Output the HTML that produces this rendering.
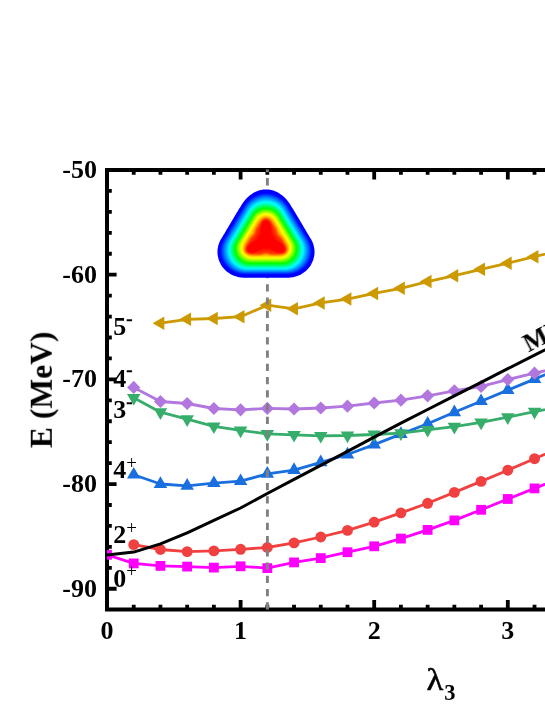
<!DOCTYPE html>
<html><head><meta charset="utf-8"><title>chart</title>
<style>html,body{margin:0;padding:0;background:#fff}body{width:545px;height:705px;position:relative;overflow:hidden;font-family:"Liberation Serif",serif}</style></head>
<body>
<svg width="545" height="705" viewBox="0 0 545 705" style="position:absolute;left:0;top:0">
<rect width="545" height="705" fill="#fff"/>
<g stroke="#000" stroke-width="4.0" fill="none" stroke-linecap="butt">
<path d="M107 168 V611.5 M105 170 H545 M105 609.5 H545"/>
</g>
<path stroke="#000" stroke-width="3.8" fill="none" d="M133.72 170 v4.8 M133.72 609.5 v-4.8 M160.44 170 v4.8 M160.44 609.5 v-4.8 M187.16 170 v4.8 M187.16 609.5 v-4.8 M213.88 170 v4.8 M213.88 609.5 v-4.8 M240.6 170 v9.6 M240.6 609.5 v-9.6 M267.32 170 v4.8 M267.32 609.5 v-4.8 M294.04 170 v4.8 M294.04 609.5 v-4.8 M320.76 170 v4.8 M320.76 609.5 v-4.8 M347.48 170 v4.8 M347.48 609.5 v-4.8 M374.2 170 v9.6 M374.2 609.5 v-9.6 M400.92 170 v4.8 M400.92 609.5 v-4.8 M427.64 170 v4.8 M427.64 609.5 v-4.8 M454.36 170 v4.8 M454.36 609.5 v-4.8 M481.08 170 v4.8 M481.08 609.5 v-4.8 M507.8 170 v9.6 M507.8 609.5 v-9.6 M534.52 170 v4.8 M534.52 609.5 v-4.8 M561.24 170 v4.8 M561.24 609.5 v-4.8 M107 190.94 h4.8 M107 211.88 h4.8 M107 232.81 h4.8 M107 253.75 h4.8 M107 274.69 h9.6 M107 295.63 h4.8 M107 316.57 h4.8 M107 337.5 h4.8 M107 358.44 h4.8 M107 379.38 h9.6 M107 400.32 h4.8 M107 421.26 h4.8 M107 442.19 h4.8 M107 463.13 h4.8 M107 484.07 h9.6 M107 505.01 h4.8 M107 525.95 h4.8 M107 546.88 h4.8 M107 567.82 h4.8 M107 588.76 h9.6"/>
<clipPath id="c"><rect x="107" y="170" width="440" height="439.5"/></clipPath>
<g clip-path="url(#c)">
<polyline fill="none" stroke="#ff00ff" stroke-width="2.8" points="107,554.8 133.72,563.4"/>
<rect x="102.1" y="549.9" width="9.8" height="9.8" fill="#ff00ff"/>
<polyline fill="none" stroke="#ff00ff" stroke-width="2.8" stroke-linejoin="round" points="133.72,563.4 160.44,565.9 187.16,566.6 213.88,567.6 240.6,566.3 267.32,568.1 294.04,562.4 320.76,558.1 347.48,552.2 374.2,546.3 400.92,538.6 427.64,529.9 454.36,520.4 481.08,509.8 507.8,499 534.52,488.4 561.24,477.8"/><rect x="128.82" y="558.5" width="9.8" height="9.8" fill="#ff00ff"/><rect x="155.54" y="561" width="9.8" height="9.8" fill="#ff00ff"/><rect x="182.26" y="561.7" width="9.8" height="9.8" fill="#ff00ff"/><rect x="208.98" y="562.7" width="9.8" height="9.8" fill="#ff00ff"/><rect x="235.7" y="561.4" width="9.8" height="9.8" fill="#ff00ff"/><rect x="262.42" y="563.2" width="9.8" height="9.8" fill="#ff00ff"/><rect x="289.14" y="557.5" width="9.8" height="9.8" fill="#ff00ff"/><rect x="315.86" y="553.2" width="9.8" height="9.8" fill="#ff00ff"/><rect x="342.58" y="547.3" width="9.8" height="9.8" fill="#ff00ff"/><rect x="369.3" y="541.4" width="9.8" height="9.8" fill="#ff00ff"/><rect x="396.02" y="533.7" width="9.8" height="9.8" fill="#ff00ff"/><rect x="422.74" y="525" width="9.8" height="9.8" fill="#ff00ff"/><rect x="449.46" y="515.5" width="9.8" height="9.8" fill="#ff00ff"/><rect x="476.18" y="504.9" width="9.8" height="9.8" fill="#ff00ff"/><rect x="502.9" y="494.1" width="9.8" height="9.8" fill="#ff00ff"/><rect x="529.62" y="483.5" width="9.8" height="9.8" fill="#ff00ff"/><rect x="556.34" y="472.9" width="9.8" height="9.8" fill="#ff00ff"/>
<polyline fill="none" stroke="#f14040" stroke-width="2.8" stroke-linejoin="round" points="133.72,544.6 160.44,549.5 187.16,551.6 213.88,550.9 240.6,549.3 267.32,547.5 294.04,542.9 320.76,537 347.48,530.4 374.2,522.1 400.92,512.9 427.64,503.3 454.36,492.4 481.08,481.4 507.8,470.2 534.52,458.7 561.24,447.2"/><circle cx="133.72" cy="544.6" r="5.45" fill="#f14040"/><circle cx="160.44" cy="549.5" r="5.45" fill="#f14040"/><circle cx="187.16" cy="551.6" r="5.45" fill="#f14040"/><circle cx="213.88" cy="550.9" r="5.45" fill="#f14040"/><circle cx="240.6" cy="549.3" r="5.45" fill="#f14040"/><circle cx="267.32" cy="547.5" r="5.45" fill="#f14040"/><circle cx="294.04" cy="542.9" r="5.45" fill="#f14040"/><circle cx="320.76" cy="537" r="5.45" fill="#f14040"/><circle cx="347.48" cy="530.4" r="5.45" fill="#f14040"/><circle cx="374.2" cy="522.1" r="5.45" fill="#f14040"/><circle cx="400.92" cy="512.9" r="5.45" fill="#f14040"/><circle cx="427.64" cy="503.3" r="5.45" fill="#f14040"/><circle cx="454.36" cy="492.4" r="5.45" fill="#f14040"/><circle cx="481.08" cy="481.4" r="5.45" fill="#f14040"/><circle cx="507.8" cy="470.2" r="5.45" fill="#f14040"/><circle cx="534.52" cy="458.7" r="5.45" fill="#f14040"/><circle cx="561.24" cy="447.2" r="5.45" fill="#f14040"/>
<polyline fill="none" stroke="#1a6fdf" stroke-width="2.8" stroke-linejoin="round" points="133.72,474.7 160.44,484 187.16,485.9 213.88,483.2 240.6,481.2 267.32,473.9 294.04,470.1 320.76,462.4 347.48,454.5 374.2,444.6 400.92,434.1 427.64,423.8 454.36,412.3 481.08,401.2 507.8,390.1 534.52,379.1 561.24,368.1"/><polygon points="133.72,466.9 126.97,478.6 140.47,478.6" fill="#1a6fdf"/><polygon points="160.44,476.2 153.69,487.9 167.19,487.9" fill="#1a6fdf"/><polygon points="187.16,478.1 180.41,489.8 193.91,489.8" fill="#1a6fdf"/><polygon points="213.88,475.4 207.13,487.1 220.63,487.1" fill="#1a6fdf"/><polygon points="240.6,473.4 233.85,485.1 247.35,485.1" fill="#1a6fdf"/><polygon points="267.32,466.1 260.57,477.8 274.07,477.8" fill="#1a6fdf"/><polygon points="294.04,462.3 287.29,474 300.79,474" fill="#1a6fdf"/><polygon points="320.76,454.6 314.01,466.3 327.51,466.3" fill="#1a6fdf"/><polygon points="347.48,446.7 340.73,458.4 354.23,458.4" fill="#1a6fdf"/><polygon points="374.2,436.8 367.45,448.5 380.95,448.5" fill="#1a6fdf"/><polygon points="400.92,426.3 394.17,438 407.67,438" fill="#1a6fdf"/><polygon points="427.64,416 420.89,427.7 434.39,427.7" fill="#1a6fdf"/><polygon points="454.36,404.5 447.61,416.2 461.11,416.2" fill="#1a6fdf"/><polygon points="481.08,393.4 474.33,405.1 487.83,405.1" fill="#1a6fdf"/><polygon points="507.8,382.3 501.05,394 514.55,394" fill="#1a6fdf"/><polygon points="534.52,371.3 527.77,383 541.27,383" fill="#1a6fdf"/><polygon points="561.24,360.3 554.49,372 567.99,372" fill="#1a6fdf"/>
<polyline fill="none" stroke="#37ad6b" stroke-width="2.8" stroke-linejoin="round" points="133.72,397.8 160.44,412.2 187.16,419.1 213.88,426.3 240.6,430.4 267.32,433.9 294.04,434.8 320.76,435.8 347.48,435.5 374.2,434.5 400.92,433.2 427.64,429.8 454.36,426.6 481.08,422.4 507.8,417.1 534.52,411.7 561.24,406.3"/><polygon points="133.72,405.6 126.97,393.9 140.47,393.9" fill="#37ad6b"/><polygon points="160.44,420 153.69,408.3 167.19,408.3" fill="#37ad6b"/><polygon points="187.16,426.9 180.41,415.2 193.91,415.2" fill="#37ad6b"/><polygon points="213.88,434.1 207.13,422.4 220.63,422.4" fill="#37ad6b"/><polygon points="240.6,438.2 233.85,426.5 247.35,426.5" fill="#37ad6b"/><polygon points="267.32,441.7 260.57,430 274.07,430" fill="#37ad6b"/><polygon points="294.04,442.6 287.29,430.9 300.79,430.9" fill="#37ad6b"/><polygon points="320.76,443.6 314.01,431.9 327.51,431.9" fill="#37ad6b"/><polygon points="347.48,443.3 340.73,431.6 354.23,431.6" fill="#37ad6b"/><polygon points="374.2,442.3 367.45,430.6 380.95,430.6" fill="#37ad6b"/><polygon points="400.92,441 394.17,429.3 407.67,429.3" fill="#37ad6b"/><polygon points="427.64,437.6 420.89,425.9 434.39,425.9" fill="#37ad6b"/><polygon points="454.36,434.4 447.61,422.7 461.11,422.7" fill="#37ad6b"/><polygon points="481.08,430.2 474.33,418.5 487.83,418.5" fill="#37ad6b"/><polygon points="507.8,424.9 501.05,413.2 514.55,413.2" fill="#37ad6b"/><polygon points="534.52,419.5 527.77,407.8 541.27,407.8" fill="#37ad6b"/><polygon points="561.24,414.1 554.49,402.4 567.99,402.4" fill="#37ad6b"/>
<polyline fill="none" stroke="#b177de" stroke-width="2.8" stroke-linejoin="round" points="133.72,387.4 160.44,401.5 187.16,403.5 213.88,408.5 240.6,409.8 267.32,408.4 294.04,409 320.76,408 347.48,406.2 374.2,403 400.92,400.2 427.64,395.8 454.36,390.8 481.08,386.4 507.8,379.6 534.52,373.2 561.24,366.8"/><polygon points="133.72,380.8 140.32,387.4 133.72,394 127.12,387.4" fill="#b177de"/><polygon points="160.44,394.9 167.04,401.5 160.44,408.1 153.84,401.5" fill="#b177de"/><polygon points="187.16,396.9 193.76,403.5 187.16,410.1 180.56,403.5" fill="#b177de"/><polygon points="213.88,401.9 220.48,408.5 213.88,415.1 207.28,408.5" fill="#b177de"/><polygon points="240.6,403.2 247.2,409.8 240.6,416.4 234,409.8" fill="#b177de"/><polygon points="267.32,401.8 273.92,408.4 267.32,415 260.72,408.4" fill="#b177de"/><polygon points="294.04,402.4 300.64,409 294.04,415.6 287.44,409" fill="#b177de"/><polygon points="320.76,401.4 327.36,408 320.76,414.6 314.16,408" fill="#b177de"/><polygon points="347.48,399.6 354.08,406.2 347.48,412.8 340.88,406.2" fill="#b177de"/><polygon points="374.2,396.4 380.8,403 374.2,409.6 367.6,403" fill="#b177de"/><polygon points="400.92,393.6 407.52,400.2 400.92,406.8 394.32,400.2" fill="#b177de"/><polygon points="427.64,389.2 434.24,395.8 427.64,402.4 421.04,395.8" fill="#b177de"/><polygon points="454.36,384.2 460.96,390.8 454.36,397.4 447.76,390.8" fill="#b177de"/><polygon points="481.08,379.8 487.68,386.4 481.08,393 474.48,386.4" fill="#b177de"/><polygon points="507.8,373 514.4,379.6 507.8,386.2 501.2,379.6" fill="#b177de"/><polygon points="534.52,366.6 541.12,373.2 534.52,379.8 527.92,373.2" fill="#b177de"/><polygon points="561.24,360.2 567.84,366.8 561.24,373.4 554.64,366.8" fill="#b177de"/>
<polyline fill="none" stroke="#cc9900" stroke-width="2.8" stroke-linejoin="round" points="160.44,323.2 187.16,319.3 213.88,318.5 240.6,316.7 267.32,305.2 294.04,308.8 320.76,302.9 347.48,299.1 374.2,293.4 400.92,288.3 427.64,281.6 454.36,275.7 481.08,269.3 507.8,263.2 534.52,256.7 561.24,250.2"/><polygon points="152.64,323.2 164.34,316.45 164.34,329.95" fill="#cc9900"/><polygon points="179.36,319.3 191.06,312.55 191.06,326.05" fill="#cc9900"/><polygon points="206.08,318.5 217.78,311.75 217.78,325.25" fill="#cc9900"/><polygon points="232.8,316.7 244.5,309.95 244.5,323.45" fill="#cc9900"/><polygon points="259.52,305.2 271.22,298.45 271.22,311.95" fill="#cc9900"/><polygon points="286.24,308.8 297.94,302.05 297.94,315.55" fill="#cc9900"/><polygon points="312.96,302.9 324.66,296.15 324.66,309.65" fill="#cc9900"/><polygon points="339.68,299.1 351.38,292.35 351.38,305.85" fill="#cc9900"/><polygon points="366.4,293.4 378.1,286.65 378.1,300.15" fill="#cc9900"/><polygon points="393.12,288.3 404.82,281.55 404.82,295.05" fill="#cc9900"/><polygon points="419.84,281.6 431.54,274.85 431.54,288.35" fill="#cc9900"/><polygon points="446.56,275.7 458.26,268.95 458.26,282.45" fill="#cc9900"/><polygon points="473.28,269.3 484.98,262.55 484.98,276.05" fill="#cc9900"/><polygon points="500,263.2 511.7,256.45 511.7,269.95" fill="#cc9900"/><polygon points="526.72,256.7 538.42,249.95 538.42,263.45" fill="#cc9900"/><polygon points="553.44,250.2 565.14,243.45 565.14,256.95" fill="#cc9900"/>
<polyline fill="none" stroke="#000" stroke-width="3" stroke-linejoin="round" points="107,554.9 133.72,552.1 160.44,543.9 187.16,532.9 213.88,520.4 240.6,508 267.32,493.5 294.04,479.4 320.76,465.4 347.48,451.3 374.2,437.2 400.92,423.2 427.64,409.5 454.36,395.8 481.08,382.3 507.8,368.7 534.52,355.2 561.24,341.7"/>
</g>
<line x1="267.4" x2="267.4" y1="609.5" y2="169.6" stroke="#808080" stroke-width="2.9" stroke-dasharray="7.3 5.953"/>
<g>
<path fill="rgb(0,0,255)" d="M311.6,240.3 312.2,241.5 312.8,242.8 313.2,244.0 313.6,245.3 313.9,246.6 314.2,247.9 314.4,249.3 314.5,250.6 314.5,251.9 314.5,253.3 314.4,254.6 314.2,256.0 313.9,257.3 313.6,258.6 313.2,259.9 312.8,261.1 312.2,262.3 311.6,263.6 311.0,264.7 310.3,265.9 309.5,267.0 308.7,268.0 307.8,269.0 306.9,270.0 305.9,270.9 304.9,271.8 303.8,272.6 302.7,273.3 301.6,274.0 300.4,274.7 299.2,275.3 298.0,275.8 296.7,276.2 295.4,276.6 294.1,277.0 292.8,277.3 291.5,277.5 290.2,277.6 288.9,277.7 287.6,277.7 286.3,277.7 285.1,277.7 283.8,277.7 282.7,277.7 281.5,277.7 280.4,277.7 279.2,277.7 278.2,277.7 277.1,277.7 276.0,277.7 275.0,277.7 273.9,277.7 272.9,277.7 271.9,277.7 270.9,277.7 269.9,277.7 268.9,277.7 268.0,277.7 267.0,277.7 266.0,277.7 265.0,277.7 264.0,277.7 263.1,277.7 262.1,277.7 261.1,277.7 260.1,277.7 259.1,277.7 258.1,277.7 257.0,277.7 256.0,277.7 254.9,277.7 253.8,277.7 252.8,277.7 251.6,277.7 250.5,277.7 249.3,277.7 248.2,277.7 246.9,277.7 245.7,277.7 244.4,277.7 243.1,277.7 241.8,277.6 240.5,277.5 239.2,277.3 237.9,277.0 236.6,276.6 235.3,276.2 234.0,275.8 232.8,275.3 231.6,274.7 230.4,274.0 229.3,273.3 228.2,272.6 227.1,271.8 226.1,270.9 225.1,270.0 224.2,269.0 223.3,268.0 222.5,267.0 221.7,265.9 221.0,264.7 220.4,263.6 219.8,262.3 219.2,261.1 218.8,259.9 218.4,258.6 218.1,257.3 217.8,256.0 217.6,254.6 217.5,253.3 217.5,251.9 217.5,250.6 217.6,249.3 217.8,247.9 218.1,246.6 218.4,245.3 218.8,244.0 219.2,242.8 219.8,241.5 220.4,240.3 221.0,239.1 221.7,238.0 222.4,236.9 223.0,235.8 223.6,234.7 224.3,233.7 224.9,232.7 225.5,231.7 226.0,230.7 226.6,229.7 227.2,228.8 227.7,227.9 228.3,226.9 228.8,226.0 229.4,225.1 229.9,224.2 230.4,223.3 231.0,222.4 231.5,221.6 232.0,220.7 232.5,219.8 233.1,218.9 233.6,218.0 234.1,217.1 234.7,216.2 235.2,215.3 235.7,214.4 236.3,213.5 236.8,212.6 237.4,211.7 238.0,210.7 238.5,209.8 239.1,208.8 239.7,207.9 240.3,206.9 241.0,205.9 241.6,204.8 242.3,203.8 243.0,202.7 243.7,201.7 244.5,200.7 245.3,199.7 246.2,198.7 247.1,197.8 248.0,196.9 249.0,196.0 250.0,195.2 251.1,194.4 252.2,193.7 253.3,193.0 254.5,192.3 255.7,191.7 256.9,191.2 258.2,190.7 259.4,190.3 260.7,190.0 262.0,189.8 263.3,189.6 264.7,189.5 266.0,189.4 267.3,189.5 268.7,189.6 270.0,189.8 271.3,190.0 272.6,190.3 273.8,190.7 275.1,191.2 276.3,191.7 277.5,192.3 278.7,193.0 279.8,193.7 280.9,194.4 282.0,195.2 283.0,196.0 284.0,196.9 284.9,197.8 285.8,198.7 286.7,199.7 287.5,200.7 288.3,201.7 289.0,202.7 289.7,203.8 290.4,204.8 291.0,205.9 291.7,206.9 292.3,207.9 292.9,208.8 293.5,209.8 294.0,210.7 294.6,211.7 295.2,212.6 295.7,213.5 296.3,214.4 296.8,215.3 297.3,216.2 297.9,217.1 298.4,218.0 298.9,218.9 299.5,219.8 300.0,220.7 300.5,221.6 301.0,222.4 301.6,223.3 302.1,224.2 302.6,225.1 303.2,226.0 303.7,226.9 304.3,227.9 304.8,228.8 305.4,229.7 306.0,230.7 306.5,231.7 307.1,232.7 307.7,233.7 308.4,234.7 309.0,235.8 309.6,236.9 310.3,238.0 311.0,239.1Z"/>
<path fill="rgb(0,0,255)" d="M309.2,240.3 309.8,241.4 310.3,242.6 310.8,243.8 311.2,245.0 311.5,246.3 311.7,247.5 311.9,248.8 312.0,250.1 312.0,251.3 311.9,252.6 311.8,253.9 311.6,255.1 311.4,256.4 311.0,257.6 310.6,258.8 310.2,260.0 309.6,261.1 309.0,262.2 308.4,263.3 307.7,264.4 306.9,265.4 306.1,266.3 305.2,267.3 304.3,268.1 303.3,269.0 302.3,269.7 301.3,270.4 300.2,271.1 299.1,271.7 298.0,272.3 296.8,272.8 295.6,273.2 294.4,273.6 293.2,273.9 292.0,274.2 290.7,274.4 289.5,274.5 288.3,274.6 287.0,274.6 285.8,274.6 284.6,274.6 283.5,274.6 282.4,274.6 281.3,274.6 280.2,274.6 279.2,274.6 278.1,274.6 277.1,274.6 276.2,274.6 275.2,274.6 274.2,274.6 273.3,274.6 272.4,274.6 271.4,274.6 270.5,274.6 269.6,274.6 268.7,274.6 267.8,274.6 266.9,274.6 266.0,274.6 265.1,274.6 264.2,274.6 263.3,274.6 262.4,274.6 261.5,274.6 260.6,274.6 259.6,274.6 258.7,274.6 257.8,274.6 256.8,274.6 255.8,274.6 254.9,274.6 253.9,274.6 252.8,274.6 251.8,274.6 250.7,274.6 249.6,274.6 248.5,274.6 247.4,274.6 246.2,274.6 245.0,274.6 243.7,274.6 242.5,274.5 241.3,274.4 240.0,274.2 238.8,273.9 237.6,273.6 236.4,273.2 235.2,272.8 234.0,272.3 232.9,271.7 231.8,271.1 230.7,270.4 229.7,269.7 228.7,269.0 227.7,268.1 226.8,267.3 225.9,266.3 225.1,265.4 224.3,264.4 223.6,263.3 223.0,262.2 222.4,261.1 221.8,260.0 221.4,258.8 221.0,257.6 220.6,256.4 220.4,255.1 220.2,253.9 220.1,252.6 220.0,251.3 220.0,250.1 220.1,248.8 220.3,247.5 220.5,246.3 220.8,245.0 221.2,243.8 221.7,242.6 222.2,241.4 222.8,240.3 223.4,239.2 224.1,238.1 224.7,237.1 225.4,236.0 226.0,235.0 226.6,234.1 227.1,233.1 227.7,232.2 228.3,231.2 228.8,230.3 229.4,229.4 229.9,228.6 230.4,227.7 231.0,226.8 231.5,226.0 232.0,225.2 232.5,224.3 233.0,223.5 233.5,222.7 234.0,221.8 234.5,221.0 235.0,220.2 235.5,219.3 236.0,218.5 236.5,217.7 237.0,216.8 237.6,216.0 238.1,215.2 238.6,214.3 239.1,213.4 239.7,212.6 240.2,211.7 240.8,210.8 241.3,209.9 241.9,208.9 242.5,208.0 243.1,207.0 243.8,206.1 244.4,205.1 245.1,204.1 245.8,203.1 246.6,202.1 247.4,201.2 248.2,200.4 249.1,199.5 250.0,198.7 251.0,198.0 252.0,197.3 253.1,196.6 254.1,196.0 255.2,195.4 256.3,194.9 257.5,194.4 258.7,194.0 259.9,193.6 261.1,193.3 262.3,193.1 263.5,193.0 264.8,192.9 266.0,192.8 267.2,192.9 268.5,193.0 269.7,193.1 270.9,193.3 272.1,193.6 273.3,194.0 274.5,194.4 275.7,194.9 276.8,195.4 277.9,196.0 278.9,196.6 280.0,197.3 281.0,198.0 282.0,198.7 282.9,199.5 283.8,200.4 284.6,201.2 285.4,202.1 286.2,203.1 286.9,204.1 287.6,205.1 288.2,206.1 288.9,207.0 289.5,208.0 290.1,208.9 290.7,209.9 291.2,210.8 291.8,211.7 292.3,212.6 292.9,213.4 293.4,214.3 293.9,215.2 294.4,216.0 295.0,216.8 295.5,217.7 296.0,218.5 296.5,219.3 297.0,220.2 297.5,221.0 298.0,221.8 298.5,222.7 299.0,223.5 299.5,224.3 300.0,225.2 300.5,226.0 301.0,226.8 301.6,227.7 302.1,228.6 302.6,229.4 303.2,230.3 303.7,231.2 304.3,232.2 304.9,233.1 305.4,234.1 306.0,235.0 306.6,236.0 307.3,237.1 307.9,238.1 308.6,239.2Z"/>
<path fill="rgb(0,24,255)" d="M308.6,240.3 309.2,241.4 309.7,242.6 310.1,243.8 310.5,245.0 310.8,246.2 311.1,247.4 311.2,248.7 311.3,249.9 311.4,251.2 311.3,252.4 311.2,253.7 311.0,254.9 310.8,256.2 310.4,257.4 310.0,258.5 309.6,259.7 309.1,260.8 308.5,261.9 307.8,263.0 307.1,264.1 306.4,265.0 305.6,266.0 304.7,266.9 303.8,267.8 302.9,268.6 301.9,269.4 300.9,270.1 299.8,270.7 298.7,271.3 297.6,271.9 296.4,272.4 295.3,272.8 294.1,273.2 292.9,273.5 291.7,273.8 290.4,273.9 289.2,274.1 288.0,274.2 286.8,274.2 285.6,274.2 284.4,274.2 283.3,274.2 282.2,274.2 281.1,274.2 280.0,274.2 279.0,274.2 278.0,274.2 277.0,274.2 276.0,274.2 275.1,274.2 274.1,274.2 273.2,274.2 272.3,274.2 271.4,274.2 270.5,274.2 269.6,274.2 268.7,274.2 267.8,274.2 266.9,274.2 266.0,274.2 265.1,274.2 264.2,274.2 263.3,274.2 262.4,274.2 261.5,274.2 260.6,274.2 259.7,274.2 258.8,274.2 257.9,274.2 256.9,274.2 256.0,274.2 255.0,274.2 254.0,274.2 253.0,274.2 252.0,274.2 250.9,274.2 249.8,274.2 248.7,274.2 247.6,274.2 246.4,274.2 245.2,274.2 244.0,274.2 242.8,274.1 241.6,273.9 240.3,273.8 239.1,273.5 237.9,273.2 236.7,272.8 235.6,272.4 234.4,271.9 233.3,271.3 232.2,270.7 231.1,270.1 230.1,269.4 229.1,268.6 228.2,267.8 227.3,266.9 226.4,266.0 225.6,265.0 224.9,264.1 224.2,263.0 223.5,261.9 222.9,260.8 222.4,259.7 222.0,258.5 221.6,257.4 221.2,256.2 221.0,254.9 220.8,253.7 220.7,252.4 220.6,251.2 220.7,249.9 220.8,248.7 220.9,247.4 221.2,246.2 221.5,245.0 221.9,243.8 222.3,242.6 222.8,241.4 223.4,240.3 224.1,239.2 224.7,238.1 225.3,237.1 226.0,236.1 226.6,235.1 227.1,234.1 227.7,233.2 228.3,232.3 228.8,231.4 229.4,230.5 229.9,229.6 230.4,228.7 231.0,227.9 231.5,227.0 232.0,226.2 232.5,225.4 233.0,224.6 233.5,223.7 234.0,222.9 234.5,222.1 235.0,221.3 235.5,220.5 236.0,219.7 236.5,218.8 237.0,218.0 237.5,217.2 238.0,216.4 238.5,215.5 239.0,214.7 239.5,213.8 240.1,213.0 240.6,212.1 241.1,211.2 241.7,210.3 242.3,209.4 242.9,208.5 243.5,207.5 244.1,206.5 244.7,205.6 245.4,204.6 246.1,203.6 246.8,202.7 247.6,201.8 248.5,200.9 249.3,200.1 250.3,199.3 251.2,198.6 252.2,197.8 253.2,197.2 254.3,196.6 255.4,196.0 256.5,195.5 257.6,195.0 258.8,194.6 259.9,194.3 261.1,194.0 262.3,193.7 263.6,193.6 264.8,193.5 266.0,193.5 267.2,193.5 268.4,193.6 269.7,193.7 270.9,194.0 272.1,194.3 273.2,194.6 274.4,195.0 275.5,195.5 276.6,196.0 277.7,196.6 278.8,197.2 279.8,197.8 280.8,198.6 281.7,199.3 282.7,200.1 283.5,200.9 284.4,201.8 285.2,202.7 285.9,203.6 286.6,204.6 287.3,205.6 287.9,206.5 288.5,207.5 289.1,208.5 289.7,209.4 290.3,210.3 290.9,211.2 291.4,212.1 291.9,213.0 292.5,213.8 293.0,214.7 293.5,215.5 294.0,216.4 294.5,217.2 295.0,218.0 295.5,218.8 296.0,219.7 296.5,220.5 297.0,221.3 297.5,222.1 298.0,222.9 298.5,223.7 299.0,224.6 299.5,225.4 300.0,226.2 300.5,227.0 301.0,227.9 301.6,228.7 302.1,229.6 302.6,230.5 303.2,231.4 303.7,232.3 304.3,233.2 304.9,234.1 305.4,235.1 306.0,236.1 306.7,237.1 307.3,238.1 307.9,239.2Z"/>
<path fill="rgb(0,44,255)" d="M307.9,240.3 308.5,241.4 309.0,242.6 309.5,243.7 309.9,244.9 310.2,246.1 310.4,247.3 310.6,248.6 310.7,249.8 310.7,251.0 310.7,252.3 310.6,253.5 310.4,254.7 310.1,255.9 309.8,257.1 309.5,258.3 309.0,259.4 308.5,260.6 307.9,261.7 307.3,262.7 306.6,263.7 305.9,264.7 305.1,265.7 304.2,266.6 303.3,267.4 302.4,268.2 301.4,269.0 300.4,269.7 299.4,270.3 298.3,270.9 297.2,271.5 296.1,272.0 294.9,272.4 293.7,272.8 292.6,273.1 291.4,273.3 290.1,273.5 288.9,273.7 287.7,273.7 286.5,273.8 285.3,273.8 284.2,273.8 283.1,273.8 282.0,273.8 280.9,273.8 279.9,273.8 278.8,273.8 277.9,273.8 276.9,273.8 275.9,273.8 275.0,273.8 274.0,273.8 273.1,273.8 272.2,273.8 271.3,273.8 270.4,273.8 269.5,273.8 268.6,273.8 267.8,273.8 266.9,273.8 266.0,273.8 265.1,273.8 264.2,273.8 263.4,273.8 262.5,273.8 261.6,273.8 260.7,273.8 259.8,273.8 258.9,273.8 258.0,273.8 257.0,273.8 256.1,273.8 255.1,273.8 254.1,273.8 253.2,273.8 252.1,273.8 251.1,273.8 250.0,273.8 248.9,273.8 247.8,273.8 246.7,273.8 245.5,273.8 244.3,273.7 243.1,273.7 241.9,273.5 240.6,273.3 239.4,273.1 238.3,272.8 237.1,272.4 235.9,272.0 234.8,271.5 233.7,270.9 232.6,270.3 231.6,269.7 230.6,269.0 229.6,268.2 228.7,267.4 227.8,266.6 226.9,265.7 226.1,264.7 225.4,263.7 224.7,262.7 224.1,261.7 223.5,260.6 223.0,259.4 222.5,258.3 222.2,257.1 221.9,255.9 221.6,254.7 221.4,253.5 221.3,252.3 221.3,251.0 221.3,249.8 221.4,248.6 221.6,247.3 221.8,246.1 222.1,244.9 222.5,243.7 223.0,242.6 223.5,241.4 224.1,240.3 224.7,239.2 225.3,238.2 226.0,237.1 226.6,236.2 227.2,235.2 227.7,234.2 228.3,233.3 228.8,232.4 229.4,231.5 229.9,230.6 230.4,229.8 231.0,228.9 231.5,228.1 232.0,227.2 232.5,226.4 233.0,225.6 233.5,224.8 234.0,224.0 234.5,223.2 234.9,222.4 235.4,221.6 235.9,220.8 236.4,220.0 236.9,219.2 237.4,218.3 237.9,217.5 238.4,216.7 238.9,215.9 239.4,215.1 239.9,214.2 240.4,213.4 241.0,212.5 241.5,211.6 242.1,210.7 242.6,209.8 243.2,208.9 243.8,208.0 244.4,207.0 245.0,206.1 245.7,205.1 246.4,204.1 247.1,203.2 247.9,202.3 248.7,201.5 249.6,200.6 250.5,199.9 251.4,199.1 252.4,198.4 253.4,197.8 254.4,197.2 255.5,196.6 256.6,196.1 257.7,195.6 258.9,195.2 260.0,194.9 261.2,194.6 262.4,194.4 263.6,194.2 264.8,194.1 266.0,194.1 267.2,194.1 268.4,194.2 269.6,194.4 270.8,194.6 272.0,194.9 273.1,195.2 274.3,195.6 275.4,196.1 276.5,196.6 277.6,197.2 278.6,197.8 279.6,198.4 280.6,199.1 281.5,199.9 282.4,200.6 283.3,201.5 284.1,202.3 284.9,203.2 285.6,204.1 286.3,205.1 287.0,206.1 287.6,207.0 288.2,208.0 288.8,208.9 289.4,209.8 289.9,210.7 290.5,211.6 291.0,212.5 291.6,213.4 292.1,214.2 292.6,215.1 293.1,215.9 293.6,216.7 294.1,217.5 294.6,218.3 295.1,219.2 295.6,220.0 296.1,220.8 296.6,221.6 297.1,222.4 297.5,223.2 298.0,224.0 298.5,224.8 299.0,225.6 299.5,226.4 300.0,227.2 300.5,228.1 301.0,228.9 301.6,229.8 302.1,230.6 302.6,231.5 303.2,232.4 303.7,233.3 304.3,234.2 304.8,235.2 305.4,236.2 306.0,237.1 306.7,238.2 307.3,239.2Z"/>
<path fill="rgb(0,64,255)" d="M307.3,240.3 307.9,241.4 308.4,242.5 308.8,243.7 309.2,244.8 309.5,246.0 309.8,247.2 309.9,248.4 310.0,249.7 310.1,250.9 310.1,252.1 309.9,253.3 309.8,254.5 309.5,255.7 309.2,256.9 308.9,258.1 308.4,259.2 307.9,260.3 307.4,261.4 306.7,262.4 306.1,263.4 305.3,264.4 304.6,265.3 303.7,266.2 302.9,267.1 301.9,267.9 301.0,268.6 300.0,269.3 298.9,270.0 297.9,270.6 296.8,271.1 295.7,271.6 294.5,272.0 293.4,272.4 292.2,272.7 291.0,272.9 289.8,273.1 288.7,273.3 287.5,273.3 286.3,273.4 285.1,273.4 283.9,273.4 282.8,273.4 281.8,273.4 280.7,273.4 279.7,273.4 278.7,273.4 277.7,273.4 276.7,273.4 275.8,273.4 274.9,273.4 273.9,273.4 273.0,273.4 272.1,273.4 271.2,273.4 270.4,273.4 269.5,273.4 268.6,273.4 267.7,273.4 266.9,273.4 266.0,273.4 265.1,273.4 264.3,273.4 263.4,273.4 262.5,273.4 261.6,273.4 260.8,273.4 259.9,273.4 259.0,273.4 258.1,273.4 257.1,273.4 256.2,273.4 255.3,273.4 254.3,273.4 253.3,273.4 252.3,273.4 251.3,273.4 250.2,273.4 249.2,273.4 248.1,273.4 246.9,273.4 245.7,273.4 244.5,273.3 243.3,273.3 242.2,273.1 241.0,272.9 239.8,272.7 238.6,272.4 237.5,272.0 236.3,271.6 235.2,271.1 234.1,270.6 233.1,270.0 232.0,269.3 231.0,268.6 230.1,267.9 229.1,267.1 228.3,266.2 227.4,265.3 226.7,264.4 225.9,263.4 225.3,262.4 224.6,261.4 224.1,260.3 223.6,259.2 223.1,258.1 222.8,256.9 222.5,255.7 222.2,254.5 222.1,253.3 221.9,252.1 221.9,250.9 222.0,249.7 222.1,248.4 222.2,247.2 222.5,246.0 222.8,244.8 223.2,243.7 223.6,242.5 224.1,241.4 224.7,240.3 225.3,239.2 226.0,238.2 226.6,237.2 227.2,236.2 227.7,235.3 228.3,234.3 228.9,233.4 229.4,232.5 229.9,231.6 230.5,230.8 231.0,229.9 231.5,229.1 232.0,228.3 232.5,227.4 233.0,226.6 233.5,225.8 234.0,225.0 234.5,224.2 234.9,223.4 235.4,222.6 235.9,221.9 236.4,221.1 236.9,220.3 237.3,219.5 237.8,218.7 238.3,217.9 238.8,217.1 239.3,216.3 239.8,215.4 240.3,214.6 240.8,213.8 241.3,212.9 241.9,212.0 242.4,211.2 243.0,210.3 243.5,209.4 244.1,208.5 244.7,207.5 245.3,206.6 246.0,205.6 246.6,204.6 247.4,203.7 248.1,202.8 248.9,202.0 249.8,201.2 250.7,200.4 251.6,199.7 252.6,199.0 253.6,198.4 254.6,197.7 255.7,197.2 256.7,196.7 257.8,196.2 259.0,195.8 260.1,195.5 261.3,195.2 262.4,195.0 263.6,194.9 264.8,194.8 266.0,194.7 267.2,194.8 268.4,194.9 269.6,195.0 270.7,195.2 271.9,195.5 273.0,195.8 274.2,196.2 275.3,196.7 276.3,197.2 277.4,197.7 278.4,198.4 279.4,199.0 280.4,199.7 281.3,200.4 282.2,201.2 283.1,202.0 283.9,202.8 284.6,203.7 285.4,204.6 286.0,205.6 286.7,206.6 287.3,207.5 287.9,208.5 288.5,209.4 289.0,210.3 289.6,211.2 290.1,212.0 290.7,212.9 291.2,213.8 291.7,214.6 292.2,215.4 292.7,216.3 293.2,217.1 293.7,217.9 294.2,218.7 294.7,219.5 295.1,220.3 295.6,221.1 296.1,221.9 296.6,222.6 297.1,223.4 297.5,224.2 298.0,225.0 298.5,225.8 299.0,226.6 299.5,227.4 300.0,228.3 300.5,229.1 301.0,229.9 301.5,230.8 302.1,231.6 302.6,232.5 303.1,233.4 303.7,234.3 304.3,235.3 304.8,236.2 305.4,237.2 306.0,238.2 306.7,239.2Z"/>
<path fill="rgb(0,83,255)" d="M306.6,240.3 307.2,241.4 307.7,242.5 308.2,243.6 308.6,244.8 308.9,245.9 309.1,247.1 309.3,248.3 309.4,249.5 309.4,250.7 309.4,251.9 309.3,253.1 309.2,254.3 308.9,255.5 308.6,256.7 308.3,257.8 307.8,258.9 307.3,260.0 306.8,261.1 306.2,262.1 305.5,263.1 304.8,264.1 304.0,265.0 303.2,265.9 302.4,266.7 301.5,267.5 300.5,268.3 299.5,268.9 298.5,269.6 297.5,270.2 296.4,270.7 295.3,271.2 294.2,271.6 293.0,272.0 291.9,272.3 290.7,272.5 289.5,272.7 288.4,272.8 287.2,272.9 286.0,272.9 284.8,272.9 283.7,272.9 282.6,272.9 281.6,272.9 280.5,272.9 279.5,272.9 278.5,272.9 277.6,272.9 276.6,272.9 275.7,272.9 274.7,272.9 273.8,272.9 272.9,272.9 272.1,272.9 271.2,272.9 270.3,272.9 269.4,272.9 268.6,272.9 267.7,272.9 266.9,272.9 266.0,272.9 265.1,272.9 264.3,272.9 263.4,272.9 262.6,272.9 261.7,272.9 260.8,272.9 259.9,272.9 259.1,272.9 258.2,272.9 257.3,272.9 256.3,272.9 255.4,272.9 254.4,272.9 253.5,272.9 252.5,272.9 251.5,272.9 250.4,272.9 249.4,272.9 248.3,272.9 247.2,272.9 246.0,272.9 244.8,272.9 243.6,272.8 242.5,272.7 241.3,272.5 240.1,272.3 239.0,272.0 237.8,271.6 236.7,271.2 235.6,270.7 234.5,270.2 233.5,269.6 232.5,268.9 231.5,268.3 230.5,267.5 229.6,266.7 228.8,265.9 228.0,265.0 227.2,264.1 226.5,263.1 225.8,262.1 225.2,261.1 224.7,260.0 224.2,258.9 223.7,257.8 223.4,256.7 223.1,255.5 222.8,254.3 222.7,253.1 222.6,251.9 222.6,250.7 222.6,249.5 222.7,248.3 222.9,247.1 223.1,245.9 223.4,244.8 223.8,243.6 224.3,242.5 224.8,241.4 225.4,240.3 226.0,239.3 226.6,238.2 227.2,237.2 227.8,236.3 228.3,235.3 228.9,234.4 229.4,233.5 230.0,232.6 230.5,231.8 231.0,230.9 231.5,230.1 232.0,229.3 232.5,228.4 233.0,227.6 233.5,226.8 234.0,226.0 234.5,225.3 234.9,224.5 235.4,223.7 235.9,222.9 236.4,222.1 236.8,221.4 237.3,220.6 237.8,219.8 238.3,219.0 238.7,218.2 239.2,217.4 239.7,216.6 240.2,215.8 240.7,215.0 241.2,214.2 241.7,213.3 242.2,212.5 242.8,211.6 243.3,210.7 243.9,209.8 244.4,208.9 245.0,208.0 245.6,207.1 246.3,206.1 246.9,205.2 247.6,204.3 248.4,203.4 249.2,202.5 250.0,201.7 250.9,201.0 251.8,200.3 252.8,199.6 253.7,198.9 254.8,198.3 255.8,197.8 256.9,197.3 257.9,196.9 259.1,196.5 260.2,196.1 261.3,195.9 262.5,195.7 263.7,195.5 264.8,195.4 266.0,195.4 267.2,195.4 268.3,195.5 269.5,195.7 270.7,195.9 271.8,196.1 272.9,196.5 274.1,196.9 275.1,197.3 276.2,197.8 277.2,198.3 278.3,198.9 279.2,199.6 280.2,200.3 281.1,201.0 282.0,201.7 282.8,202.5 283.6,203.4 284.4,204.3 285.1,205.2 285.7,206.1 286.4,207.1 287.0,208.0 287.6,208.9 288.1,209.8 288.7,210.7 289.2,211.6 289.8,212.5 290.3,213.3 290.8,214.2 291.3,215.0 291.8,215.8 292.3,216.6 292.8,217.4 293.3,218.2 293.7,219.0 294.2,219.8 294.7,220.6 295.2,221.4 295.6,222.1 296.1,222.9 296.6,223.7 297.1,224.5 297.5,225.3 298.0,226.0 298.5,226.8 299.0,227.6 299.5,228.4 300.0,229.3 300.5,230.1 301.0,230.9 301.5,231.8 302.0,232.6 302.6,233.5 303.1,234.4 303.7,235.3 304.2,236.3 304.8,237.2 305.4,238.2 306.0,239.3Z"/>
<path fill="rgb(0,101,255)" d="M306.0,240.3 306.6,241.4 307.1,242.5 307.5,243.6 307.9,244.7 308.2,245.9 308.5,247.0 308.7,248.2 308.8,249.4 308.8,250.6 308.8,251.8 308.7,252.9 308.5,254.1 308.3,255.3 308.0,256.4 307.7,257.6 307.3,258.7 306.8,259.7 306.2,260.8 305.6,261.8 305.0,262.8 304.3,263.8 303.5,264.7 302.7,265.5 301.9,266.4 301.0,267.2 300.1,267.9 299.1,268.6 298.1,269.2 297.1,269.8 296.0,270.3 294.9,270.8 293.8,271.2 292.7,271.6 291.6,271.9 290.4,272.1 289.3,272.3 288.1,272.4 286.9,272.5 285.7,272.5 284.6,272.5 283.5,272.5 282.4,272.5 281.4,272.5 280.3,272.5 279.3,272.5 278.4,272.5 277.4,272.5 276.5,272.5 275.5,272.5 274.6,272.5 273.7,272.5 272.9,272.5 272.0,272.5 271.1,272.5 270.2,272.5 269.4,272.5 268.5,272.5 267.7,272.5 266.8,272.5 266.0,272.5 265.2,272.5 264.3,272.5 263.5,272.5 262.6,272.5 261.8,272.5 260.9,272.5 260.0,272.5 259.1,272.5 258.3,272.5 257.4,272.5 256.5,272.5 255.5,272.5 254.6,272.5 253.6,272.5 252.7,272.5 251.7,272.5 250.6,272.5 249.6,272.5 248.5,272.5 247.4,272.5 246.3,272.5 245.1,272.5 243.9,272.4 242.7,272.3 241.6,272.1 240.4,271.9 239.3,271.6 238.2,271.2 237.1,270.8 236.0,270.3 234.9,269.8 233.9,269.2 232.9,268.6 231.9,267.9 231.0,267.2 230.1,266.4 229.3,265.5 228.5,264.7 227.7,263.8 227.0,262.8 226.4,261.8 225.8,260.8 225.2,259.7 224.7,258.7 224.3,257.6 224.0,256.4 223.7,255.3 223.5,254.1 223.3,252.9 223.2,251.8 223.2,250.6 223.2,249.4 223.3,248.2 223.5,247.0 223.8,245.9 224.1,244.7 224.5,243.6 224.9,242.5 225.4,241.4 226.0,240.3 226.6,239.3 227.2,238.3 227.8,237.3 228.4,236.3 228.9,235.4 229.5,234.5 230.0,233.6 230.5,232.8 231.1,231.9 231.6,231.1 232.1,230.2 232.6,229.4 233.1,228.6 233.5,227.8 234.0,227.0 234.5,226.3 235.0,225.5 235.4,224.7 235.9,224.0 236.4,223.2 236.8,222.4 237.3,221.7 237.7,220.9 238.2,220.1 238.7,219.3 239.2,218.6 239.6,217.8 240.1,217.0 240.6,216.2 241.1,215.4 241.6,214.6 242.1,213.7 242.6,212.9 243.1,212.1 243.7,211.2 244.2,210.3 244.8,209.4 245.3,208.5 245.9,207.6 246.5,206.6 247.2,205.7 247.9,204.8 248.6,203.9 249.4,203.1 250.3,202.3 251.1,201.5 252.0,200.8 253.0,200.2 253.9,199.5 254.9,198.9 255.9,198.4 257.0,197.9 258.1,197.5 259.2,197.1 260.3,196.8 261.4,196.5 262.5,196.3 263.7,196.1 264.8,196.1 266.0,196.0 267.2,196.1 268.3,196.1 269.5,196.3 270.6,196.5 271.7,196.8 272.8,197.1 273.9,197.5 275.0,197.9 276.1,198.4 277.1,198.9 278.1,199.5 279.0,200.2 280.0,200.8 280.9,201.5 281.7,202.3 282.6,203.1 283.4,203.9 284.1,204.8 284.8,205.7 285.5,206.6 286.1,207.6 286.7,208.5 287.2,209.4 287.8,210.3 288.3,211.2 288.9,212.1 289.4,212.9 289.9,213.7 290.4,214.6 290.9,215.4 291.4,216.2 291.9,217.0 292.4,217.8 292.8,218.6 293.3,219.3 293.8,220.1 294.3,220.9 294.7,221.7 295.2,222.4 295.6,223.2 296.1,224.0 296.6,224.7 297.0,225.5 297.5,226.3 298.0,227.0 298.5,227.8 298.9,228.6 299.4,229.4 299.9,230.2 300.4,231.1 300.9,231.9 301.5,232.8 302.0,233.6 302.5,234.5 303.1,235.4 303.6,236.3 304.2,237.3 304.8,238.3 305.4,239.3Z"/>
<path fill="rgb(0,119,255)" d="M305.4,240.3 305.9,241.3 306.4,242.4 306.9,243.5 307.3,244.6 307.6,245.8 307.8,246.9 308.0,248.1 308.1,249.3 308.2,250.4 308.2,251.6 308.1,252.8 307.9,253.9 307.7,255.1 307.4,256.2 307.1,257.3 306.7,258.4 306.2,259.5 305.7,260.5 305.1,261.5 304.5,262.5 303.8,263.4 303.0,264.3 302.2,265.2 301.4,266.0 300.5,266.8 299.6,267.5 298.7,268.2 297.7,268.8 296.7,269.4 295.6,269.9 294.6,270.4 293.5,270.8 292.4,271.2 291.2,271.5 290.1,271.7 289.0,271.9 287.8,272.0 286.6,272.1 285.5,272.1 284.4,272.1 283.3,272.1 282.2,272.1 281.2,272.1 280.2,272.1 279.2,272.1 278.2,272.1 277.3,272.1 276.3,272.1 275.4,272.1 274.5,272.1 273.6,272.1 272.8,272.1 271.9,272.1 271.0,272.1 270.2,272.1 269.3,272.1 268.5,272.1 267.7,272.1 266.8,272.1 266.0,272.1 265.2,272.1 264.3,272.1 263.5,272.1 262.7,272.1 261.8,272.1 261.0,272.1 260.1,272.1 259.2,272.1 258.4,272.1 257.5,272.1 256.6,272.1 255.7,272.1 254.7,272.1 253.8,272.1 252.8,272.1 251.8,272.1 250.8,272.1 249.8,272.1 248.7,272.1 247.6,272.1 246.5,272.1 245.4,272.1 244.2,272.0 243.0,271.9 241.9,271.7 240.8,271.5 239.6,271.2 238.5,270.8 237.4,270.4 236.4,269.9 235.3,269.4 234.3,268.8 233.3,268.2 232.4,267.5 231.5,266.8 230.6,266.0 229.8,265.2 229.0,264.3 228.2,263.4 227.5,262.5 226.9,261.5 226.3,260.5 225.8,259.5 225.3,258.4 224.9,257.3 224.6,256.2 224.3,255.1 224.1,253.9 223.9,252.8 223.8,251.6 223.8,250.4 223.9,249.3 224.0,248.1 224.2,246.9 224.4,245.8 224.7,244.6 225.1,243.5 225.6,242.4 226.1,241.3 226.6,240.3 227.2,239.3 227.8,238.3 228.4,237.3 229.0,236.4 229.5,235.5 230.1,234.6 230.6,233.7 231.1,232.9 231.6,232.0 232.1,231.2 232.6,230.4 233.1,229.6 233.6,228.8 234.0,228.0 234.5,227.3 235.0,226.5 235.4,225.7 235.9,225.0 236.4,224.2 236.8,223.5 237.3,222.7 237.7,221.9 238.2,221.2 238.7,220.4 239.1,219.7 239.6,218.9 240.0,218.1 240.5,217.4 241.0,216.6 241.5,215.8 242.0,215.0 242.5,214.2 243.0,213.3 243.5,212.5 244.0,211.6 244.5,210.8 245.1,209.9 245.7,209.0 246.2,208.1 246.8,207.1 247.5,206.2 248.2,205.3 248.9,204.5 249.7,203.6 250.5,202.9 251.3,202.1 252.2,201.4 253.1,200.7 254.1,200.1 255.1,199.5 256.1,199.0 257.1,198.5 258.2,198.1 259.3,197.7 260.4,197.4 261.5,197.1 262.6,196.9 263.7,196.8 264.9,196.7 266.0,196.7 267.1,196.7 268.3,196.8 269.4,196.9 270.5,197.1 271.6,197.4 272.7,197.7 273.8,198.1 274.9,198.5 275.9,199.0 276.9,199.5 277.9,200.1 278.9,200.7 279.8,201.4 280.7,202.1 281.5,202.9 282.3,203.6 283.1,204.5 283.8,205.3 284.5,206.2 285.2,207.1 285.8,208.1 286.3,209.0 286.9,209.9 287.5,210.8 288.0,211.6 288.5,212.5 289.0,213.3 289.5,214.2 290.0,215.0 290.5,215.8 291.0,216.6 291.5,217.4 292.0,218.1 292.4,218.9 292.9,219.7 293.3,220.4 293.8,221.2 294.3,221.9 294.7,222.7 295.2,223.5 295.6,224.2 296.1,225.0 296.6,225.7 297.0,226.5 297.5,227.3 298.0,228.0 298.4,228.8 298.9,229.6 299.4,230.4 299.9,231.2 300.4,232.0 300.9,232.9 301.4,233.7 301.9,234.6 302.5,235.5 303.0,236.4 303.6,237.3 304.2,238.3 304.8,239.3Z"/>
<path fill="rgb(0,137,255)" d="M304.7,240.3 305.3,241.3 305.8,242.4 306.2,243.5 306.6,244.6 306.9,245.7 307.2,246.8 307.4,248.0 307.5,249.1 307.5,250.3 307.5,251.4 307.4,252.6 307.3,253.7 307.1,254.9 306.8,256.0 306.5,257.1 306.1,258.1 305.6,259.2 305.1,260.2 304.5,261.2 303.9,262.2 303.2,263.1 302.5,264.0 301.7,264.9 300.9,265.7 300.1,266.4 299.2,267.2 298.2,267.8 297.3,268.4 296.3,269.0 295.2,269.5 294.2,270.0 293.1,270.4 292.0,270.8 290.9,271.1 289.8,271.3 288.7,271.5 287.5,271.6 286.4,271.7 285.2,271.7 284.1,271.7 283.0,271.7 282.0,271.7 281.0,271.7 280.0,271.7 279.0,271.7 278.1,271.7 277.1,271.7 276.2,271.7 275.3,271.7 274.4,271.7 273.5,271.7 272.7,271.7 271.8,271.7 271.0,271.7 270.1,271.7 269.3,271.7 268.5,271.7 267.6,271.7 266.8,271.7 266.0,271.7 265.2,271.7 264.4,271.7 263.5,271.7 262.7,271.7 261.9,271.7 261.0,271.7 260.2,271.7 259.3,271.7 258.5,271.7 257.6,271.7 256.7,271.7 255.8,271.7 254.9,271.7 253.9,271.7 253.0,271.7 252.0,271.7 251.0,271.7 250.0,271.7 249.0,271.7 247.9,271.7 246.8,271.7 245.6,271.7 244.5,271.6 243.3,271.5 242.2,271.3 241.1,271.1 240.0,270.8 238.9,270.4 237.8,270.0 236.8,269.5 235.7,269.0 234.7,268.4 233.8,267.8 232.8,267.2 231.9,266.4 231.1,265.7 230.3,264.9 229.5,264.0 228.8,263.1 228.1,262.2 227.5,261.2 226.9,260.2 226.4,259.2 225.9,258.1 225.5,257.1 225.2,256.0 224.9,254.9 224.7,253.7 224.6,252.6 224.5,251.4 224.5,250.3 224.5,249.1 224.6,248.0 224.8,246.8 225.1,245.7 225.4,244.6 225.8,243.5 226.2,242.4 226.7,241.3 227.3,240.3 227.9,239.3 228.5,238.3 229.0,237.4 229.6,236.5 230.1,235.6 230.7,234.7 231.2,233.8 231.7,233.0 232.2,232.2 232.7,231.4 233.2,230.6 233.6,229.8 234.1,229.0 234.6,228.2 235.0,227.5 235.5,226.7 235.9,226.0 236.4,225.2 236.8,224.5 237.3,223.7 237.7,223.0 238.2,222.2 238.6,221.5 239.1,220.7 239.5,220.0 240.0,219.2 240.5,218.5 240.9,217.7 241.4,216.9 241.9,216.2 242.3,215.4 242.8,214.6 243.3,213.8 243.8,212.9 244.4,212.1 244.9,211.2 245.4,210.4 246.0,209.5 246.5,208.6 247.1,207.6 247.8,206.7 248.4,205.8 249.2,205.0 249.9,204.2 250.7,203.4 251.6,202.7 252.4,202.0 253.3,201.3 254.3,200.7 255.2,200.1 256.2,199.6 257.2,199.1 258.3,198.7 259.4,198.3 260.4,198.0 261.5,197.8 262.6,197.6 263.8,197.4 264.9,197.3 266.0,197.3 267.1,197.3 268.2,197.4 269.4,197.6 270.5,197.8 271.6,198.0 272.6,198.3 273.7,198.7 274.8,199.1 275.8,199.6 276.8,200.1 277.7,200.7 278.7,201.3 279.6,202.0 280.4,202.7 281.3,203.4 282.1,204.2 282.8,205.0 283.6,205.8 284.2,206.7 284.9,207.6 285.5,208.6 286.0,209.5 286.6,210.4 287.1,211.2 287.6,212.1 288.2,212.9 288.7,213.8 289.2,214.6 289.7,215.4 290.1,216.2 290.6,216.9 291.1,217.7 291.5,218.5 292.0,219.2 292.5,220.0 292.9,220.7 293.4,221.5 293.8,222.2 294.3,223.0 294.7,223.7 295.2,224.5 295.6,225.2 296.1,226.0 296.5,226.7 297.0,227.5 297.4,228.2 297.9,229.0 298.4,229.8 298.8,230.6 299.3,231.4 299.8,232.2 300.3,233.0 300.8,233.8 301.3,234.7 301.9,235.6 302.4,236.5 303.0,237.4 303.5,238.3 304.1,239.3Z"/>
<path fill="rgb(0,154,255)" d="M304.1,240.3 304.6,241.3 305.1,242.4 305.6,243.4 306.0,244.5 306.3,245.6 306.5,246.7 306.7,247.8 306.8,249.0 306.9,250.1 306.9,251.3 306.8,252.4 306.7,253.5 306.5,254.6 306.2,255.7 305.9,256.8 305.5,257.9 305.1,258.9 304.6,259.9 304.0,260.9 303.4,261.9 302.7,262.8 302.0,263.7 301.2,264.5 300.4,265.3 299.6,266.1 298.7,266.8 297.8,267.5 296.8,268.1 295.9,268.6 294.8,269.1 293.8,269.6 292.7,270.0 291.7,270.4 290.6,270.6 289.5,270.9 288.4,271.1 287.2,271.2 286.1,271.3 285.0,271.3 283.9,271.3 282.8,271.3 281.8,271.3 280.8,271.3 279.8,271.3 278.8,271.3 277.9,271.3 277.0,271.3 276.1,271.3 275.2,271.3 274.3,271.3 273.4,271.3 272.6,271.3 271.7,271.3 270.9,271.3 270.1,271.3 269.3,271.3 268.4,271.3 267.6,271.3 266.8,271.3 266.0,271.3 265.2,271.3 264.4,271.3 263.6,271.3 262.7,271.3 261.9,271.3 261.1,271.3 260.3,271.3 259.4,271.3 258.6,271.3 257.7,271.3 256.8,271.3 255.9,271.3 255.0,271.3 254.1,271.3 253.2,271.3 252.2,271.3 251.2,271.3 250.2,271.3 249.2,271.3 248.1,271.3 247.0,271.3 245.9,271.3 244.8,271.2 243.6,271.1 242.5,270.9 241.4,270.6 240.3,270.4 239.3,270.0 238.2,269.6 237.2,269.1 236.1,268.6 235.2,268.1 234.2,267.5 233.3,266.8 232.4,266.1 231.6,265.3 230.8,264.5 230.0,263.7 229.3,262.8 228.6,261.9 228.0,260.9 227.4,259.9 226.9,258.9 226.5,257.9 226.1,256.8 225.8,255.7 225.5,254.6 225.3,253.5 225.2,252.4 225.1,251.3 225.1,250.1 225.2,249.0 225.3,247.8 225.5,246.7 225.7,245.6 226.0,244.5 226.4,243.4 226.9,242.4 227.4,241.3 227.9,240.3 228.5,239.3 229.1,238.4 229.6,237.4 230.2,236.5 230.7,235.7 231.2,234.8 231.8,234.0 232.2,233.1 232.7,232.3 233.2,231.5 233.7,230.7 234.2,230.0 234.6,229.2 235.1,228.4 235.5,227.7 236.0,226.9 236.4,226.2 236.9,225.5 237.3,224.7 237.8,224.0 238.2,223.3 238.6,222.5 239.1,221.8 239.5,221.1 240.0,220.3 240.4,219.6 240.9,218.8 241.3,218.1 241.8,217.3 242.3,216.6 242.7,215.8 243.2,215.0 243.7,214.2 244.2,213.4 244.7,212.5 245.2,211.7 245.8,210.8 246.3,210.0 246.9,209.1 247.4,208.1 248.0,207.2 248.7,206.4 249.4,205.5 250.2,204.7 250.9,204.0 251.8,203.2 252.6,202.5 253.5,201.9 254.4,201.3 255.4,200.7 256.4,200.2 257.4,199.7 258.4,199.3 259.5,199.0 260.5,198.7 261.6,198.4 262.7,198.2 263.8,198.1 264.9,198.0 266.0,198.0 267.1,198.0 268.2,198.1 269.3,198.2 270.4,198.4 271.5,198.7 272.5,199.0 273.6,199.3 274.6,199.7 275.6,200.2 276.6,200.7 277.6,201.3 278.5,201.9 279.4,202.5 280.2,203.2 281.1,204.0 281.8,204.7 282.6,205.5 283.3,206.4 284.0,207.2 284.6,208.1 285.1,209.1 285.7,210.0 286.2,210.8 286.8,211.7 287.3,212.5 287.8,213.4 288.3,214.2 288.8,215.0 289.3,215.8 289.7,216.6 290.2,217.3 290.7,218.1 291.1,218.8 291.6,219.6 292.0,220.3 292.5,221.1 292.9,221.8 293.4,222.5 293.8,223.3 294.2,224.0 294.7,224.7 295.1,225.5 295.6,226.2 296.0,226.9 296.5,227.7 296.9,228.4 297.4,229.2 297.8,230.0 298.3,230.7 298.8,231.5 299.3,232.3 299.8,233.1 300.2,234.0 300.8,234.8 301.3,235.7 301.8,236.5 302.4,237.4 302.9,238.4 303.5,239.3Z"/>
<path fill="rgb(0,171,255)" d="M303.4,240.3 304.0,241.3 304.5,242.3 304.9,243.4 305.3,244.4 305.6,245.5 305.9,246.6 306.1,247.7 306.2,248.8 306.3,250.0 306.3,251.1 306.2,252.2 306.1,253.3 305.9,254.4 305.6,255.5 305.3,256.6 304.9,257.6 304.5,258.7 304.0,259.7 303.4,260.6 302.8,261.6 302.2,262.5 301.5,263.4 300.7,264.2 300.0,265.0 299.1,265.7 298.3,266.4 297.4,267.1 296.4,267.7 295.4,268.2 294.4,268.7 293.4,269.2 292.4,269.6 291.3,269.9 290.2,270.2 289.2,270.5 288.1,270.7 287.0,270.8 285.8,270.9 284.7,270.9 283.7,270.9 282.6,270.9 281.6,270.9 280.6,270.9 279.6,270.9 278.7,270.9 277.7,270.9 276.8,270.9 275.9,270.9 275.1,270.9 274.2,270.9 273.3,270.9 272.5,270.9 271.7,270.9 270.8,270.9 270.0,270.9 269.2,270.9 268.4,270.9 267.6,270.9 266.8,270.9 266.0,270.9 265.2,270.9 264.4,270.9 263.6,270.9 262.8,270.9 262.0,270.9 261.2,270.9 260.3,270.9 259.5,270.9 258.7,270.9 257.8,270.9 256.9,270.9 256.1,270.9 255.2,270.9 254.3,270.9 253.3,270.9 252.4,270.9 251.4,270.9 250.4,270.9 249.4,270.9 248.3,270.9 247.3,270.9 246.2,270.9 245.0,270.8 243.9,270.7 242.8,270.5 241.8,270.2 240.7,269.9 239.6,269.6 238.6,269.2 237.6,268.7 236.6,268.2 235.6,267.7 234.6,267.1 233.7,266.4 232.9,265.7 232.0,265.0 231.3,264.2 230.5,263.4 229.8,262.5 229.2,261.6 228.6,260.6 228.0,259.7 227.5,258.7 227.1,257.6 226.7,256.6 226.4,255.5 226.1,254.4 225.9,253.3 225.8,252.2 225.7,251.1 225.7,250.0 225.8,248.8 225.9,247.7 226.1,246.6 226.4,245.5 226.7,244.4 227.1,243.4 227.5,242.3 228.0,241.3 228.6,240.3 229.1,239.3 229.7,238.4 230.3,237.5 230.8,236.6 231.3,235.7 231.8,234.9 232.3,234.1 232.8,233.2 233.3,232.4 233.8,231.7 234.2,230.9 234.7,230.1 235.1,229.4 235.6,228.6 236.0,227.9 236.5,227.2 236.9,226.4 237.4,225.7 237.8,225.0 238.2,224.3 238.7,223.5 239.1,222.8 239.5,222.1 240.0,221.4 240.4,220.7 240.8,219.9 241.3,219.2 241.7,218.5 242.2,217.7 242.6,216.9 243.1,216.2 243.6,215.4 244.1,214.6 244.5,213.8 245.0,213.0 245.6,212.2 246.1,211.3 246.6,210.4 247.2,209.6 247.7,208.7 248.3,207.8 249.0,206.9 249.7,206.1 250.4,205.3 251.2,204.5 252.0,203.8 252.8,203.1 253.7,202.5 254.6,201.9 255.6,201.3 256.5,200.8 257.5,200.4 258.5,199.9 259.6,199.6 260.6,199.3 261.7,199.0 262.7,198.8 263.8,198.7 264.9,198.6 266.0,198.6 267.1,198.6 268.2,198.7 269.3,198.8 270.3,199.0 271.4,199.3 272.4,199.6 273.5,199.9 274.5,200.4 275.5,200.8 276.4,201.3 277.4,201.9 278.3,202.5 279.2,203.1 280.0,203.8 280.8,204.5 281.6,205.3 282.3,206.1 283.0,206.9 283.7,207.8 284.3,208.7 284.8,209.6 285.4,210.4 285.9,211.3 286.4,212.2 287.0,213.0 287.5,213.8 287.9,214.6 288.4,215.4 288.9,216.2 289.4,216.9 289.8,217.7 290.3,218.5 290.7,219.2 291.2,219.9 291.6,220.7 292.0,221.4 292.5,222.1 292.9,222.8 293.3,223.5 293.8,224.3 294.2,225.0 294.6,225.7 295.1,226.4 295.5,227.2 296.0,227.9 296.4,228.6 296.9,229.4 297.3,230.1 297.8,230.9 298.2,231.7 298.7,232.4 299.2,233.2 299.7,234.1 300.2,234.9 300.7,235.7 301.2,236.6 301.7,237.5 302.3,238.4 302.9,239.3Z"/>
<path fill="rgb(0,188,255)" d="M302.8,240.3 303.3,241.3 303.8,242.3 304.3,243.3 304.7,244.4 305.0,245.4 305.2,246.5 305.4,247.6 305.6,248.7 305.6,249.8 305.6,250.9 305.6,252.0 305.4,253.1 305.3,254.2 305.0,255.3 304.7,256.3 304.3,257.4 303.9,258.4 303.4,259.4 302.9,260.3 302.3,261.3 301.7,262.2 301.0,263.0 300.3,263.8 299.5,264.6 298.7,265.4 297.8,266.1 296.9,266.7 296.0,267.3 295.0,267.9 294.1,268.4 293.0,268.8 292.0,269.2 291.0,269.5 289.9,269.8 288.8,270.1 287.8,270.2 286.7,270.4 285.6,270.4 284.5,270.5 283.4,270.5 282.4,270.5 281.4,270.5 280.4,270.5 279.4,270.5 278.5,270.5 277.6,270.5 276.7,270.5 275.8,270.5 274.9,270.5 274.1,270.5 273.2,270.5 272.4,270.5 271.6,270.5 270.8,270.5 270.0,270.5 269.2,270.5 268.4,270.5 267.6,270.5 266.8,270.5 266.0,270.5 265.2,270.5 264.4,270.5 263.6,270.5 262.8,270.5 262.0,270.5 261.2,270.5 260.4,270.5 259.6,270.5 258.8,270.5 257.9,270.5 257.1,270.5 256.2,270.5 255.3,270.5 254.4,270.5 253.5,270.5 252.6,270.5 251.6,270.5 250.6,270.5 249.6,270.5 248.6,270.5 247.5,270.5 246.4,270.4 245.3,270.4 244.2,270.2 243.2,270.1 242.1,269.8 241.0,269.5 240.0,269.2 239.0,268.8 237.9,268.4 237.0,267.9 236.0,267.3 235.1,266.7 234.2,266.1 233.3,265.4 232.5,264.6 231.7,263.8 231.0,263.0 230.3,262.2 229.7,261.3 229.1,260.3 228.6,259.4 228.1,258.4 227.7,257.4 227.3,256.3 227.0,255.3 226.7,254.2 226.6,253.1 226.4,252.0 226.4,250.9 226.4,249.8 226.4,248.7 226.6,247.6 226.8,246.5 227.0,245.4 227.3,244.4 227.7,243.3 228.2,242.3 228.7,241.3 229.2,240.3 229.8,239.4 230.3,238.4 230.9,237.5 231.4,236.7 231.9,235.8 232.4,235.0 232.9,234.2 233.4,233.4 233.9,232.6 234.3,231.8 234.8,231.1 235.2,230.3 235.7,229.6 236.1,228.8 236.6,228.1 237.0,227.4 237.4,226.7 237.8,226.0 238.3,225.2 238.7,224.5 239.1,223.8 239.6,223.1 240.0,222.4 240.4,221.7 240.8,221.0 241.3,220.3 241.7,219.5 242.1,218.8 242.6,218.1 243.0,217.3 243.5,216.6 244.0,215.8 244.4,215.0 244.9,214.3 245.4,213.4 245.9,212.6 246.4,211.8 246.9,210.9 247.5,210.1 248.0,209.2 248.6,208.3 249.2,207.4 249.9,206.6 250.6,205.8 251.4,205.1 252.2,204.3 253.0,203.7 253.9,203.0 254.8,202.5 255.7,201.9 256.7,201.4 257.6,201.0 258.6,200.6 259.7,200.2 260.7,199.9 261.7,199.7 262.8,199.5 263.9,199.3 264.9,199.3 266.0,199.2 267.1,199.3 268.1,199.3 269.2,199.5 270.3,199.7 271.3,199.9 272.3,200.2 273.4,200.6 274.4,201.0 275.3,201.4 276.3,201.9 277.2,202.5 278.1,203.0 279.0,203.7 279.8,204.3 280.6,205.1 281.4,205.8 282.1,206.6 282.8,207.4 283.4,208.3 284.0,209.2 284.5,210.1 285.1,210.9 285.6,211.8 286.1,212.6 286.6,213.4 287.1,214.3 287.6,215.0 288.0,215.8 288.5,216.6 289.0,217.3 289.4,218.1 289.9,218.8 290.3,219.5 290.7,220.3 291.2,221.0 291.6,221.7 292.0,222.4 292.4,223.1 292.9,223.8 293.3,224.5 293.7,225.2 294.2,226.0 294.6,226.7 295.0,227.4 295.4,228.1 295.9,228.8 296.3,229.6 296.8,230.3 297.2,231.1 297.7,231.8 298.1,232.6 298.6,233.4 299.1,234.2 299.6,235.0 300.1,235.8 300.6,236.7 301.1,237.5 301.7,238.4 302.2,239.4Z"/>
<path fill="rgb(0,205,255)" d="M302.1,240.3 302.7,241.3 303.2,242.2 303.6,243.3 304.0,244.3 304.3,245.3 304.6,246.4 304.8,247.5 304.9,248.6 305.0,249.7 305.0,250.7 304.9,251.8 304.8,252.9 304.6,254.0 304.4,255.0 304.1,256.1 303.8,257.1 303.3,258.1 302.9,259.1 302.3,260.0 301.8,261.0 301.1,261.8 300.5,262.7 299.8,263.5 299.0,264.3 298.2,265.0 297.4,265.7 296.5,266.3 295.6,266.9 294.6,267.5 293.7,268.0 292.7,268.4 291.7,268.8 290.6,269.1 289.6,269.4 288.5,269.7 287.5,269.8 286.4,270.0 285.3,270.0 284.2,270.0 283.2,270.0 282.1,270.0 281.2,270.0 280.2,270.0 279.2,270.0 278.3,270.0 277.4,270.0 276.5,270.0 275.7,270.0 274.8,270.0 274.0,270.0 273.1,270.0 272.3,270.0 271.5,270.0 270.7,270.0 269.9,270.0 269.1,270.0 268.3,270.0 267.6,270.0 266.8,270.0 266.0,270.0 265.2,270.0 264.4,270.0 263.7,270.0 262.9,270.0 262.1,270.0 261.3,270.0 260.5,270.0 259.7,270.0 258.9,270.0 258.0,270.0 257.2,270.0 256.3,270.0 255.5,270.0 254.6,270.0 253.7,270.0 252.8,270.0 251.8,270.0 250.8,270.0 249.9,270.0 248.8,270.0 247.8,270.0 246.7,270.0 245.6,270.0 244.5,269.8 243.5,269.7 242.4,269.4 241.4,269.1 240.3,268.8 239.3,268.4 238.3,268.0 237.4,267.5 236.4,266.9 235.5,266.3 234.6,265.7 233.8,265.0 233.0,264.3 232.2,263.5 231.5,262.7 230.9,261.8 230.2,261.0 229.7,260.0 229.1,259.1 228.7,258.1 228.2,257.1 227.9,256.1 227.6,255.0 227.4,254.0 227.2,252.9 227.1,251.8 227.0,250.7 227.0,249.7 227.1,248.6 227.2,247.5 227.4,246.4 227.7,245.3 228.0,244.3 228.4,243.3 228.8,242.2 229.3,241.3 229.9,240.3 230.4,239.4 231.0,238.5 231.5,237.6 232.0,236.7 232.5,235.9 233.0,235.1 233.5,234.3 234.0,233.5 234.4,232.7 234.9,232.0 235.3,231.2 235.8,230.5 236.2,229.7 236.6,229.0 237.1,228.3 237.5,227.6 237.9,226.9 238.3,226.2 238.7,225.5 239.2,224.8 239.6,224.1 240.0,223.4 240.4,222.7 240.8,222.0 241.3,221.3 241.7,220.6 242.1,219.9 242.5,219.2 243.0,218.5 243.4,217.7 243.9,217.0 244.3,216.2 244.8,215.5 245.3,214.7 245.7,213.9 246.2,213.1 246.7,212.3 247.2,211.4 247.8,210.6 248.3,209.7 248.9,208.8 249.5,207.9 250.2,207.1 250.9,206.4 251.6,205.6 252.4,204.9 253.2,204.2 254.1,203.6 255.0,203.0 255.9,202.5 256.8,202.0 257.8,201.6 258.7,201.2 259.7,200.8 260.8,200.5 261.8,200.3 262.8,200.1 263.9,200.0 264.9,199.9 266.0,199.9 267.1,199.9 268.1,200.0 269.2,200.1 270.2,200.3 271.2,200.5 272.3,200.8 273.3,201.2 274.2,201.6 275.2,202.0 276.1,202.5 277.0,203.0 277.9,203.6 278.8,204.2 279.6,204.9 280.4,205.6 281.1,206.4 281.8,207.1 282.5,207.9 283.1,208.8 283.7,209.7 284.2,210.6 284.8,211.4 285.3,212.3 285.8,213.1 286.3,213.9 286.7,214.7 287.2,215.5 287.7,216.2 288.1,217.0 288.6,217.7 289.0,218.5 289.5,219.2 289.9,219.9 290.3,220.6 290.7,221.3 291.2,222.0 291.6,222.7 292.0,223.4 292.4,224.1 292.8,224.8 293.3,225.5 293.7,226.2 294.1,226.9 294.5,227.6 294.9,228.3 295.4,229.0 295.8,229.7 296.2,230.5 296.7,231.2 297.1,232.0 297.6,232.7 298.0,233.5 298.5,234.3 299.0,235.1 299.5,235.9 300.0,236.7 300.5,237.6 301.0,238.5 301.6,239.4Z"/>
<path fill="rgb(0,222,255)" d="M301.5,240.3 302.0,241.2 302.5,242.2 303.0,243.2 303.4,244.2 303.7,245.3 303.9,246.3 304.1,247.4 304.3,248.4 304.3,249.5 304.4,250.6 304.3,251.6 304.2,252.7 304.0,253.8 303.8,254.8 303.5,255.8 303.2,256.8 302.8,257.8 302.3,258.8 301.8,259.7 301.2,260.6 300.6,261.5 300.0,262.4 299.3,263.2 298.5,263.9 297.7,264.6 296.9,265.3 296.0,266.0 295.1,266.5 294.2,267.1 293.3,267.6 292.3,268.0 291.3,268.4 290.3,268.7 289.3,269.0 288.2,269.2 287.2,269.4 286.1,269.5 285.0,269.6 284.0,269.6 282.9,269.6 281.9,269.6 280.9,269.6 280.0,269.6 279.1,269.6 278.1,269.6 277.3,269.6 276.4,269.6 275.5,269.6 274.7,269.6 273.9,269.6 273.0,269.6 272.2,269.6 271.4,269.6 270.6,269.6 269.9,269.6 269.1,269.6 268.3,269.6 267.5,269.6 266.8,269.6 266.0,269.6 265.2,269.6 264.5,269.6 263.7,269.6 262.9,269.6 262.1,269.6 261.4,269.6 260.6,269.6 259.8,269.6 259.0,269.6 258.1,269.6 257.3,269.6 256.5,269.6 255.6,269.6 254.7,269.6 253.9,269.6 252.9,269.6 252.0,269.6 251.1,269.6 250.1,269.6 249.1,269.6 248.0,269.6 247.0,269.6 245.9,269.5 244.8,269.4 243.8,269.2 242.7,269.0 241.7,268.7 240.7,268.4 239.7,268.0 238.7,267.6 237.8,267.1 236.9,266.5 236.0,266.0 235.1,265.3 234.3,264.6 233.5,263.9 232.7,263.2 232.0,262.4 231.4,261.5 230.8,260.6 230.2,259.7 229.7,258.8 229.2,257.8 228.8,256.8 228.5,255.8 228.2,254.8 228.0,253.8 227.8,252.7 227.7,251.6 227.6,250.6 227.7,249.5 227.7,248.4 227.9,247.4 228.1,246.3 228.3,245.3 228.6,244.2 229.0,243.2 229.5,242.2 230.0,241.2 230.5,240.3 231.1,239.4 231.6,238.5 232.1,237.6 232.6,236.8 233.1,236.0 233.6,235.2 234.1,234.4 234.5,233.6 235.0,232.9 235.4,232.1 235.9,231.4 236.3,230.6 236.7,229.9 237.1,229.2 237.6,228.5 238.0,227.8 238.4,227.1 238.8,226.4 239.2,225.8 239.6,225.1 240.0,224.4 240.5,223.7 240.9,223.0 241.3,222.3 241.7,221.7 242.1,221.0 242.5,220.3 243.0,219.6 243.4,218.8 243.8,218.1 244.3,217.4 244.7,216.6 245.2,215.9 245.6,215.1 246.1,214.3 246.6,213.6 247.1,212.7 247.6,211.9 248.1,211.1 248.6,210.2 249.2,209.3 249.8,208.5 250.4,207.7 251.1,206.9 251.9,206.2 252.6,205.5 253.4,204.8 254.3,204.2 255.1,203.6 256.0,203.1 257.0,202.6 257.9,202.2 258.9,201.8 259.8,201.5 260.8,201.2 261.9,200.9 262.9,200.8 263.9,200.6 265.0,200.5 266.0,200.5 267.0,200.5 268.1,200.6 269.1,200.8 270.1,200.9 271.2,201.2 272.2,201.5 273.1,201.8 274.1,202.2 275.0,202.6 276.0,203.1 276.9,203.6 277.7,204.2 278.6,204.8 279.4,205.5 280.1,206.2 280.9,206.9 281.6,207.7 282.2,208.5 282.8,209.3 283.4,210.2 283.9,211.1 284.4,211.9 284.9,212.7 285.4,213.6 285.9,214.3 286.4,215.1 286.8,215.9 287.3,216.6 287.7,217.4 288.2,218.1 288.6,218.8 289.0,219.6 289.5,220.3 289.9,221.0 290.3,221.7 290.7,222.3 291.1,223.0 291.5,223.7 292.0,224.4 292.4,225.1 292.8,225.8 293.2,226.4 293.6,227.1 294.0,227.8 294.4,228.5 294.9,229.2 295.3,229.9 295.7,230.6 296.1,231.4 296.6,232.1 297.0,232.9 297.5,233.6 297.9,234.4 298.4,235.2 298.9,236.0 299.4,236.8 299.9,237.6 300.4,238.5 300.9,239.4Z"/>
<path fill="rgb(0,239,255)" d="M300.9,240.3 301.4,241.2 301.9,242.2 302.3,243.2 302.7,244.2 303.0,245.2 303.3,246.2 303.5,247.2 303.6,248.3 303.7,249.4 303.7,250.4 303.7,251.5 303.6,252.5 303.4,253.6 303.2,254.6 302.9,255.6 302.6,256.6 302.2,257.6 301.7,258.5 301.2,259.4 300.7,260.3 300.1,261.2 299.5,262.0 298.8,262.8 298.0,263.6 297.3,264.3 296.4,265.0 295.6,265.6 294.7,266.2 293.8,266.7 292.9,267.2 291.9,267.6 290.9,268.0 289.9,268.3 288.9,268.6 287.9,268.8 286.9,269.0 285.8,269.1 284.8,269.2 283.7,269.2 282.7,269.2 281.7,269.2 280.7,269.2 279.8,269.2 278.9,269.2 278.0,269.2 277.1,269.2 276.2,269.2 275.4,269.2 274.6,269.2 273.7,269.2 272.9,269.2 272.1,269.2 271.4,269.2 270.6,269.2 269.8,269.2 269.0,269.2 268.3,269.2 267.5,269.2 266.8,269.2 266.0,269.2 265.2,269.2 264.5,269.2 263.7,269.2 263.0,269.2 262.2,269.2 261.4,269.2 260.6,269.2 259.9,269.2 259.1,269.2 258.3,269.2 257.4,269.2 256.6,269.2 255.8,269.2 254.9,269.2 254.0,269.2 253.1,269.2 252.2,269.2 251.3,269.2 250.3,269.2 249.3,269.2 248.3,269.2 247.2,269.2 246.2,269.1 245.1,269.0 244.1,268.8 243.1,268.6 242.1,268.3 241.1,268.0 240.1,267.6 239.1,267.2 238.2,266.7 237.3,266.2 236.4,265.6 235.6,265.0 234.7,264.3 234.0,263.6 233.2,262.8 232.5,262.0 231.9,261.2 231.3,260.3 230.8,259.4 230.3,258.5 229.8,257.6 229.4,256.6 229.1,255.6 228.8,254.6 228.6,253.6 228.4,252.5 228.3,251.5 228.3,250.4 228.3,249.4 228.4,248.3 228.5,247.2 228.7,246.2 229.0,245.2 229.3,244.2 229.7,243.2 230.1,242.2 230.6,241.2 231.1,240.3 231.7,239.4 232.2,238.5 232.7,237.7 233.2,236.9 233.7,236.0 234.2,235.3 234.6,234.5 235.1,233.7 235.5,233.0 236.0,232.3 236.4,231.5 236.8,230.8 237.2,230.1 237.7,229.4 238.1,228.7 238.5,228.1 238.9,227.4 239.3,226.7 239.7,226.0 240.1,225.4 240.5,224.7 240.9,224.0 241.3,223.3 241.7,222.7 242.1,222.0 242.5,221.3 242.9,220.6 243.4,219.9 243.8,219.2 244.2,218.5 244.6,217.8 245.1,217.1 245.5,216.3 246.0,215.6 246.4,214.8 246.9,214.0 247.4,213.2 247.9,212.4 248.4,211.6 248.9,210.7 249.5,209.8 250.1,209.0 250.7,208.2 251.4,207.4 252.1,206.7 252.8,206.0 253.6,205.4 254.5,204.8 255.3,204.2 256.2,203.7 257.1,203.2 258.0,202.8 259.0,202.4 259.9,202.1 260.9,201.8 261.9,201.6 262.9,201.4 264.0,201.3 265.0,201.2 266.0,201.2 267.0,201.2 268.0,201.3 269.1,201.4 270.1,201.6 271.1,201.8 272.1,202.1 273.0,202.4 274.0,202.8 274.9,203.2 275.8,203.7 276.7,204.2 277.5,204.8 278.4,205.4 279.2,206.0 279.9,206.7 280.6,207.4 281.3,208.2 281.9,209.0 282.5,209.8 283.1,210.7 283.6,211.6 284.1,212.4 284.6,213.2 285.1,214.0 285.6,214.8 286.0,215.6 286.5,216.3 286.9,217.1 287.4,217.8 287.8,218.5 288.2,219.2 288.6,219.9 289.1,220.6 289.5,221.3 289.9,222.0 290.3,222.7 290.7,223.3 291.1,224.0 291.5,224.7 291.9,225.4 292.3,226.0 292.7,226.7 293.1,227.4 293.5,228.1 293.9,228.7 294.3,229.4 294.8,230.1 295.2,230.8 295.6,231.5 296.0,232.3 296.5,233.0 296.9,233.7 297.4,234.5 297.8,235.3 298.3,236.0 298.8,236.9 299.3,237.7 299.8,238.5 300.3,239.4Z"/>
<path fill="rgb(0,255,255)" d="M300.2,240.3 300.7,241.2 301.2,242.1 301.7,243.1 302.1,244.1 302.4,245.1 302.6,246.1 302.8,247.1 303.0,248.2 303.1,249.2 303.1,250.2 303.1,251.3 303.0,252.3 302.8,253.3 302.6,254.3 302.3,255.3 302.0,256.3 301.6,257.3 301.2,258.2 300.7,259.1 300.2,260.0 299.6,260.9 298.9,261.7 298.3,262.5 297.5,263.2 296.8,263.9 296.0,264.6 295.2,265.2 294.3,265.8 293.4,266.3 292.5,266.8 291.5,267.2 290.6,267.6 289.6,267.9 288.6,268.2 287.6,268.4 286.6,268.6 285.5,268.7 284.5,268.8 283.5,268.8 282.5,268.8 281.5,268.8 280.5,268.8 279.6,268.8 278.7,268.8 277.8,268.8 276.9,268.8 276.1,268.8 275.3,268.8 274.4,268.8 273.6,268.8 272.8,268.8 272.1,268.8 271.3,268.8 270.5,268.8 269.8,268.8 269.0,268.8 268.2,268.8 267.5,268.8 266.7,268.8 266.0,268.8 265.3,268.8 264.5,268.8 263.8,268.8 263.0,268.8 262.2,268.8 261.5,268.8 260.7,268.8 259.9,268.8 259.2,268.8 258.4,268.8 257.6,268.8 256.7,268.8 255.9,268.8 255.1,268.8 254.2,268.8 253.3,268.8 252.4,268.8 251.5,268.8 250.5,268.8 249.5,268.8 248.5,268.8 247.5,268.8 246.5,268.7 245.4,268.6 244.4,268.4 243.4,268.2 242.4,267.9 241.4,267.6 240.5,267.2 239.5,266.8 238.6,266.3 237.7,265.8 236.8,265.2 236.0,264.6 235.2,263.9 234.5,263.2 233.7,262.5 233.1,261.7 232.4,260.9 231.8,260.0 231.3,259.1 230.8,258.2 230.4,257.3 230.0,256.3 229.7,255.3 229.4,254.3 229.2,253.3 229.0,252.3 228.9,251.3 228.9,250.2 228.9,249.2 229.0,248.2 229.2,247.1 229.4,246.1 229.6,245.1 229.9,244.1 230.3,243.1 230.8,242.1 231.3,241.2 231.8,240.3 232.3,239.4 232.8,238.6 233.3,237.7 233.8,236.9 234.3,236.1 234.8,235.4 235.2,234.6 235.7,233.8 236.1,233.1 236.5,232.4 236.9,231.7 237.4,231.0 237.8,230.3 238.2,229.6 238.6,228.9 239.0,228.3 239.4,227.6 239.8,226.9 240.2,226.3 240.6,225.6 241.0,225.0 241.4,224.3 241.8,223.6 242.2,223.0 242.6,222.3 243.0,221.6 243.4,221.0 243.8,220.3 244.2,219.6 244.6,218.9 245.0,218.2 245.4,217.5 245.9,216.7 246.3,216.0 246.8,215.3 247.2,214.5 247.7,213.7 248.2,212.9 248.7,212.1 249.2,211.2 249.7,210.4 250.3,209.5 250.9,208.7 251.6,208.0 252.3,207.3 253.1,206.6 253.8,206.0 254.6,205.4 255.5,204.8 256.4,204.3 257.2,203.8 258.2,203.4 259.1,203.0 260.0,202.7 261.0,202.4 262.0,202.2 263.0,202.0 264.0,201.9 265.0,201.8 266.0,201.8 267.0,201.8 268.0,201.9 269.0,202.0 270.0,202.2 271.0,202.4 272.0,202.7 272.9,203.0 273.8,203.4 274.8,203.8 275.6,204.3 276.5,204.8 277.4,205.4 278.2,206.0 278.9,206.6 279.7,207.3 280.4,208.0 281.1,208.7 281.7,209.5 282.3,210.4 282.8,211.2 283.3,212.1 283.8,212.9 284.3,213.7 284.8,214.5 285.2,215.3 285.7,216.0 286.1,216.7 286.6,217.5 287.0,218.2 287.4,218.9 287.8,219.6 288.2,220.3 288.6,221.0 289.0,221.6 289.4,222.3 289.8,223.0 290.2,223.6 290.6,224.3 291.0,225.0 291.4,225.6 291.8,226.3 292.2,226.9 292.6,227.6 293.0,228.3 293.4,228.9 293.8,229.6 294.2,230.3 294.6,231.0 295.1,231.7 295.5,232.4 295.9,233.1 296.3,233.8 296.8,234.6 297.2,235.4 297.7,236.1 298.2,236.9 298.7,237.7 299.2,238.6 299.7,239.4Z"/>
<path fill="rgb(0,255,230)" d="M299.6,240.3 300.1,241.2 300.6,242.1 301.1,243.1 301.4,244.0 301.8,245.0 302.0,246.0 302.2,247.0 302.4,248.0 302.5,249.1 302.5,250.1 302.5,251.1 302.4,252.1 302.2,253.1 302.0,254.1 301.7,255.1 301.4,256.1 301.0,257.0 300.6,257.9 300.1,258.8 299.6,259.7 299.0,260.5 298.4,261.3 297.7,262.1 297.0,262.8 296.3,263.5 295.5,264.2 294.7,264.8 293.8,265.4 292.9,265.9 292.0,266.3 291.1,266.8 290.2,267.1 289.2,267.5 288.2,267.7 287.2,267.9 286.2,268.1 285.2,268.2 284.2,268.3 283.2,268.3 282.2,268.3 281.2,268.3 280.3,268.3 279.4,268.3 278.5,268.3 277.6,268.3 276.7,268.3 275.9,268.3 275.1,268.3 274.3,268.3 273.5,268.3 272.7,268.3 271.9,268.3 271.2,268.3 270.4,268.3 269.7,268.3 268.9,268.3 268.2,268.3 267.5,268.3 266.7,268.3 266.0,268.3 265.3,268.3 264.5,268.3 263.8,268.3 263.1,268.3 262.3,268.3 261.6,268.3 260.8,268.3 260.1,268.3 259.3,268.3 258.5,268.3 257.7,268.3 256.9,268.3 256.1,268.3 255.3,268.3 254.4,268.3 253.5,268.3 252.6,268.3 251.7,268.3 250.8,268.3 249.8,268.3 248.8,268.3 247.8,268.3 246.8,268.2 245.8,268.1 244.8,267.9 243.8,267.7 242.8,267.5 241.8,267.1 240.9,266.8 240.0,266.3 239.1,265.9 238.2,265.4 237.3,264.8 236.5,264.2 235.7,263.5 235.0,262.8 234.3,262.1 233.6,261.3 233.0,260.5 232.4,259.7 231.9,258.8 231.4,257.9 231.0,257.0 230.6,256.1 230.3,255.1 230.0,254.1 229.8,253.1 229.6,252.1 229.5,251.1 229.5,250.1 229.5,249.1 229.6,248.0 229.8,247.0 230.0,246.0 230.2,245.0 230.6,244.0 230.9,243.1 231.4,242.1 231.9,241.2 232.4,240.3 232.9,239.4 233.4,238.6 233.9,237.8 234.4,237.0 234.8,236.2 235.3,235.4 235.7,234.7 236.2,234.0 236.6,233.2 237.0,232.5 237.5,231.8 237.9,231.2 238.3,230.5 238.7,229.8 239.1,229.1 239.5,228.5 239.9,227.8 240.2,227.2 240.6,226.5 241.0,225.9 241.4,225.2 241.8,224.6 242.2,223.9 242.6,223.3 243.0,222.6 243.4,222.0 243.8,221.3 244.2,220.6 244.6,220.0 245.0,219.3 245.4,218.6 245.8,217.9 246.2,217.2 246.7,216.4 247.1,215.7 247.6,214.9 248.0,214.2 248.5,213.4 249.0,212.6 249.5,211.7 250.0,210.9 250.6,210.1 251.2,209.3 251.9,208.5 252.6,207.8 253.3,207.2 254.0,206.5 254.8,205.9 255.7,205.4 256.5,204.9 257.4,204.4 258.3,204.0 259.2,203.7 260.1,203.3 261.1,203.1 262.1,202.8 263.0,202.7 264.0,202.5 265.0,202.5 266.0,202.4 267.0,202.5 268.0,202.5 269.0,202.7 269.9,202.8 270.9,203.1 271.9,203.3 272.8,203.7 273.7,204.0 274.6,204.4 275.5,204.9 276.3,205.4 277.2,205.9 278.0,206.5 278.7,207.2 279.4,207.8 280.1,208.5 280.8,209.3 281.4,210.1 282.0,210.9 282.5,211.7 283.0,212.6 283.5,213.4 284.0,214.2 284.4,214.9 284.9,215.7 285.3,216.4 285.8,217.2 286.2,217.9 286.6,218.6 287.0,219.3 287.4,220.0 287.8,220.6 288.2,221.3 288.6,222.0 289.0,222.6 289.4,223.3 289.8,223.9 290.2,224.6 290.6,225.2 291.0,225.9 291.4,226.5 291.8,227.2 292.1,227.8 292.5,228.5 292.9,229.1 293.3,229.8 293.7,230.5 294.1,231.2 294.5,231.8 295.0,232.5 295.4,233.2 295.8,234.0 296.3,234.7 296.7,235.4 297.2,236.2 297.6,237.0 298.1,237.8 298.6,238.6 299.1,239.4Z"/>
<path fill="rgb(0,255,204)" d="M299.0,240.3 299.5,241.2 300.0,242.1 300.4,243.0 300.8,244.0 301.1,244.9 301.4,245.9 301.6,246.9 301.8,247.9 301.9,248.9 301.9,249.9 301.8,250.9 301.8,251.9 301.6,252.9 301.4,253.9 301.1,254.9 300.8,255.8 300.5,256.7 300.0,257.6 299.6,258.5 299.1,259.4 298.5,260.2 297.9,261.0 297.2,261.8 296.5,262.5 295.8,263.1 295.0,263.8 294.2,264.4 293.4,264.9 292.5,265.4 291.6,265.9 290.7,266.3 289.7,266.7 288.8,267.0 287.8,267.2 286.8,267.5 285.8,267.6 284.8,267.7 283.8,267.8 282.8,267.8 281.9,267.8 280.9,267.8 280.0,267.8 279.1,267.8 278.2,267.8 277.4,267.8 276.5,267.8 275.7,267.8 274.9,267.8 274.1,267.8 273.4,267.8 272.6,267.8 271.8,267.8 271.1,267.8 270.4,267.8 269.6,267.8 268.9,267.8 268.2,267.8 267.4,267.8 266.7,267.8 266.0,267.8 265.3,267.8 264.6,267.8 263.8,267.8 263.1,267.8 262.4,267.8 261.6,267.8 260.9,267.8 260.2,267.8 259.4,267.8 258.6,267.8 257.9,267.8 257.1,267.8 256.3,267.8 255.5,267.8 254.6,267.8 253.8,267.8 252.9,267.8 252.0,267.8 251.1,267.8 250.1,267.8 249.2,267.8 248.2,267.8 247.2,267.7 246.2,267.6 245.2,267.5 244.2,267.2 243.2,267.0 242.3,266.7 241.3,266.3 240.4,265.9 239.5,265.4 238.6,264.9 237.8,264.4 237.0,263.8 236.2,263.1 235.5,262.5 234.8,261.8 234.1,261.0 233.5,260.2 232.9,259.4 232.4,258.5 232.0,257.6 231.5,256.7 231.2,255.8 230.9,254.9 230.6,253.9 230.4,252.9 230.2,251.9 230.2,250.9 230.1,249.9 230.1,248.9 230.2,247.9 230.4,246.9 230.6,245.9 230.9,244.9 231.2,244.0 231.6,243.0 232.0,242.1 232.5,241.2 233.0,240.3 233.5,239.4 234.0,238.6 234.5,237.8 234.9,237.0 235.4,236.3 235.9,235.5 236.3,234.8 236.7,234.1 237.1,233.4 237.6,232.7 238.0,232.0 238.4,231.3 238.8,230.7 239.2,230.0 239.6,229.3 239.9,228.7 240.3,228.1 240.7,227.4 241.1,226.8 241.5,226.1 241.9,225.5 242.2,224.9 242.6,224.2 243.0,223.6 243.4,222.9 243.8,222.3 244.2,221.6 244.6,221.0 245.0,220.3 245.4,219.7 245.8,219.0 246.2,218.3 246.6,217.6 247.0,216.9 247.5,216.1 247.9,215.4 248.4,214.6 248.8,213.9 249.3,213.1 249.8,212.2 250.3,211.4 250.9,210.6 251.5,209.8 252.1,209.1 252.8,208.4 253.5,207.7 254.3,207.1 255.0,206.5 255.8,206.0 256.7,205.5 257.5,205.0 258.4,204.6 259.3,204.3 260.2,204.0 261.2,203.7 262.1,203.5 263.1,203.3 264.1,203.2 265.0,203.1 266.0,203.1 267.0,203.1 267.9,203.2 268.9,203.3 269.9,203.5 270.8,203.7 271.8,204.0 272.7,204.3 273.6,204.6 274.5,205.0 275.3,205.5 276.2,206.0 277.0,206.5 277.7,207.1 278.5,207.7 279.2,208.4 279.9,209.1 280.5,209.8 281.1,210.6 281.7,211.4 282.2,212.2 282.7,213.1 283.2,213.9 283.6,214.6 284.1,215.4 284.5,216.1 285.0,216.9 285.4,217.6 285.8,218.3 286.2,219.0 286.6,219.7 287.0,220.3 287.4,221.0 287.8,221.6 288.2,222.3 288.6,222.9 289.0,223.6 289.4,224.2 289.8,224.9 290.1,225.5 290.5,226.1 290.9,226.8 291.3,227.4 291.7,228.1 292.1,228.7 292.4,229.3 292.8,230.0 293.2,230.7 293.6,231.3 294.0,232.0 294.4,232.7 294.9,233.4 295.3,234.1 295.7,234.8 296.1,235.5 296.6,236.3 297.1,237.0 297.5,237.8 298.0,238.6 298.5,239.4Z"/>
<path fill="rgb(0,255,178)" d="M298.4,240.3 298.9,241.2 299.4,242.1 299.8,243.0 300.2,243.9 300.5,244.8 300.8,245.8 301.0,246.8 301.1,247.8 301.2,248.8 301.3,249.8 301.2,250.7 301.2,251.7 301.0,252.7 300.8,253.7 300.6,254.6 300.2,255.5 299.9,256.5 299.5,257.4 299.0,258.2 298.5,259.1 297.9,259.9 297.3,260.6 296.7,261.4 296.0,262.1 295.3,262.8 294.5,263.4 293.7,264.0 292.9,264.5 292.0,265.0 291.2,265.5 290.3,265.9 289.3,266.2 288.4,266.5 287.4,266.8 286.5,267.0 285.5,267.1 284.5,267.2 283.5,267.3 282.5,267.3 281.6,267.3 280.6,267.3 279.7,267.3 278.9,267.3 278.0,267.3 277.2,267.3 276.4,267.3 275.6,267.3 274.8,267.3 274.0,267.3 273.2,267.3 272.5,267.3 271.7,267.3 271.0,267.3 270.3,267.3 269.6,267.3 268.8,267.3 268.1,267.3 267.4,267.3 266.7,267.3 266.0,267.3 265.3,267.3 264.6,267.3 263.9,267.3 263.2,267.3 262.4,267.3 261.7,267.3 261.0,267.3 260.3,267.3 259.5,267.3 258.8,267.3 258.0,267.3 257.2,267.3 256.4,267.3 255.6,267.3 254.8,267.3 254.0,267.3 253.1,267.3 252.3,267.3 251.4,267.3 250.4,267.3 249.5,267.3 248.5,267.3 247.5,267.2 246.5,267.1 245.5,267.0 244.6,266.8 243.6,266.5 242.7,266.2 241.7,265.9 240.8,265.5 240.0,265.0 239.1,264.5 238.3,264.0 237.5,263.4 236.7,262.8 236.0,262.1 235.3,261.4 234.7,260.6 234.1,259.9 233.5,259.1 233.0,258.2 232.5,257.4 232.1,256.5 231.8,255.5 231.4,254.6 231.2,253.7 231.0,252.7 230.8,251.7 230.8,250.7 230.7,249.8 230.8,248.8 230.9,247.8 231.0,246.8 231.2,245.8 231.5,244.8 231.8,243.9 232.2,243.0 232.6,242.1 233.1,241.2 233.6,240.3 234.1,239.5 234.6,238.7 235.1,237.9 235.5,237.1 236.0,236.3 236.4,235.6 236.8,234.9 237.3,234.2 237.7,233.5 238.1,232.8 238.5,232.1 238.9,231.5 239.3,230.8 239.7,230.2 240.0,229.5 240.4,228.9 240.8,228.3 241.2,227.6 241.5,227.0 241.9,226.4 242.3,225.8 242.7,225.1 243.0,224.5 243.4,223.9 243.8,223.3 244.2,222.6 244.6,222.0 244.9,221.3 245.3,220.7 245.7,220.0 246.1,219.4 246.5,218.7 247.0,218.0 247.4,217.3 247.8,216.6 248.2,215.9 248.7,215.1 249.1,214.3 249.6,213.6 250.1,212.8 250.6,211.9 251.1,211.2 251.7,210.4 252.4,209.7 253.0,209.0 253.7,208.3 254.5,207.7 255.2,207.1 256.0,206.6 256.8,206.1 257.7,205.7 258.6,205.3 259.4,204.9 260.3,204.6 261.3,204.3 262.2,204.1 263.1,203.9 264.1,203.8 265.0,203.7 266.0,203.7 267.0,203.7 267.9,203.8 268.9,203.9 269.8,204.1 270.7,204.3 271.7,204.6 272.6,204.9 273.4,205.3 274.3,205.7 275.2,206.1 276.0,206.6 276.8,207.1 277.5,207.7 278.3,208.3 279.0,209.0 279.6,209.7 280.3,210.4 280.9,211.2 281.4,211.9 281.9,212.8 282.4,213.6 282.9,214.3 283.3,215.1 283.8,215.9 284.2,216.6 284.6,217.3 285.0,218.0 285.5,218.7 285.9,219.4 286.3,220.0 286.7,220.7 287.1,221.3 287.4,222.0 287.8,222.6 288.2,223.3 288.6,223.9 289.0,224.5 289.3,225.1 289.7,225.8 290.1,226.4 290.5,227.0 290.8,227.6 291.2,228.3 291.6,228.9 292.0,229.5 292.3,230.2 292.7,230.8 293.1,231.5 293.5,232.1 293.9,232.8 294.3,233.5 294.7,234.2 295.2,234.9 295.6,235.6 296.0,236.3 296.5,237.1 296.9,237.9 297.4,238.7 297.9,239.5Z"/>
<path fill="rgb(0,255,153)" d="M297.8,240.3 298.3,241.1 298.8,242.0 299.2,242.9 299.6,243.8 299.9,244.8 300.2,245.7 300.4,246.7 300.5,247.6 300.6,248.6 300.7,249.6 300.6,250.6 300.6,251.5 300.4,252.5 300.2,253.4 300.0,254.4 299.7,255.3 299.3,256.2 298.9,257.1 298.4,257.9 297.9,258.7 297.4,259.5 296.8,260.3 296.2,261.0 295.5,261.7 294.8,262.4 294.0,263.0 293.2,263.6 292.4,264.1 291.6,264.6 290.7,265.0 289.8,265.4 288.9,265.7 288.0,266.0 287.0,266.3 286.1,266.5 285.1,266.6 284.1,266.7 283.2,266.8 282.2,266.8 281.3,266.8 280.4,266.8 279.5,266.8 278.6,266.8 277.8,266.8 277.0,266.8 276.2,266.8 275.4,266.8 274.6,266.8 273.8,266.8 273.1,266.8 272.4,266.8 271.6,266.8 270.9,266.8 270.2,266.8 269.5,266.8 268.8,266.8 268.1,266.8 267.4,266.8 266.7,266.8 266.0,266.8 265.3,266.8 264.6,266.8 263.9,266.8 263.2,266.8 262.5,266.8 261.8,266.8 261.1,266.8 260.4,266.8 259.6,266.8 258.9,266.8 258.2,266.8 257.4,266.8 256.6,266.8 255.8,266.8 255.0,266.8 254.2,266.8 253.4,266.8 252.5,266.8 251.6,266.8 250.7,266.8 249.8,266.8 248.8,266.8 247.9,266.7 246.9,266.6 245.9,266.5 245.0,266.3 244.0,266.0 243.1,265.7 242.2,265.4 241.3,265.0 240.4,264.6 239.6,264.1 238.8,263.6 238.0,263.0 237.2,262.4 236.5,261.7 235.8,261.0 235.2,260.3 234.6,259.5 234.1,258.7 233.6,257.9 233.1,257.1 232.7,256.2 232.3,255.3 232.0,254.4 231.8,253.4 231.6,252.5 231.4,251.5 231.4,250.6 231.3,249.6 231.4,248.6 231.5,247.6 231.6,246.7 231.8,245.7 232.1,244.8 232.4,243.8 232.8,242.9 233.2,242.0 233.7,241.1 234.2,240.3 234.7,239.5 235.2,238.7 235.6,237.9 236.1,237.2 236.5,236.4 237.0,235.7 237.4,235.0 237.8,234.3 238.2,233.6 238.6,233.0 239.0,232.3 239.4,231.7 239.8,231.0 240.1,230.4 240.5,229.7 240.9,229.1 241.3,228.5 241.6,227.9 242.0,227.3 242.4,226.7 242.7,226.0 243.1,225.4 243.5,224.8 243.8,224.2 244.2,223.6 244.6,223.0 245.0,222.3 245.3,221.7 245.7,221.1 246.1,220.4 246.5,219.8 246.9,219.1 247.3,218.4 247.7,217.7 248.1,217.0 248.6,216.3 249.0,215.6 249.5,214.8 249.9,214.1 250.4,213.3 250.9,212.5 251.4,211.7 252.0,210.9 252.6,210.2 253.3,209.5 253.9,208.9 254.7,208.3 255.4,207.7 256.2,207.2 257.0,206.7 257.8,206.3 258.7,205.9 259.6,205.5 260.4,205.2 261.3,205.0 262.3,204.7 263.2,204.6 264.1,204.5 265.1,204.4 266.0,204.4 266.9,204.4 267.9,204.5 268.8,204.6 269.7,204.7 270.7,205.0 271.6,205.2 272.4,205.5 273.3,205.9 274.2,206.3 275.0,206.7 275.8,207.2 276.6,207.7 277.3,208.3 278.1,208.9 278.7,209.5 279.4,210.2 280.0,210.9 280.6,211.7 281.1,212.5 281.6,213.3 282.1,214.1 282.5,214.8 283.0,215.6 283.4,216.3 283.9,217.0 284.3,217.7 284.7,218.4 285.1,219.1 285.5,219.8 285.9,220.4 286.3,221.1 286.7,221.7 287.0,222.3 287.4,223.0 287.8,223.6 288.2,224.2 288.5,224.8 288.9,225.4 289.3,226.0 289.6,226.7 290.0,227.3 290.4,227.9 290.7,228.5 291.1,229.1 291.5,229.7 291.9,230.4 292.2,231.0 292.6,231.7 293.0,232.3 293.4,233.0 293.8,233.6 294.2,234.3 294.6,235.0 295.0,235.7 295.5,236.4 295.9,237.2 296.4,237.9 296.8,238.7 297.3,239.5Z"/>
<path fill="rgb(0,255,128)" d="M297.2,240.3 297.7,241.1 298.2,242.0 298.6,242.9 299.0,243.8 299.3,244.7 299.6,245.6 299.8,246.6 299.9,247.5 300.0,248.5 300.0,249.4 300.0,250.4 299.9,251.3 299.8,252.3 299.6,253.2 299.4,254.1 299.1,255.0 298.7,255.9 298.3,256.8 297.9,257.6 297.4,258.4 296.8,259.2 296.3,259.9 295.6,260.7 295.0,261.3 294.3,262.0 293.5,262.6 292.7,263.1 291.9,263.7 291.1,264.1 290.3,264.6 289.4,264.9 288.5,265.3 287.6,265.6 286.6,265.8 285.7,266.0 284.8,266.1 283.8,266.2 282.8,266.2 281.9,266.3 281.0,266.3 280.1,266.3 279.2,266.3 278.4,266.3 277.6,266.3 276.7,266.3 276.0,266.3 275.2,266.3 274.4,266.3 273.7,266.3 273.0,266.3 272.2,266.3 271.5,266.3 270.8,266.3 270.1,266.3 269.4,266.3 268.7,266.3 268.0,266.3 267.4,266.3 266.7,266.3 266.0,266.3 265.3,266.3 264.6,266.3 264.0,266.3 263.3,266.3 262.6,266.3 261.9,266.3 261.2,266.3 260.5,266.3 259.8,266.3 259.0,266.3 258.3,266.3 257.6,266.3 256.8,266.3 256.0,266.3 255.3,266.3 254.4,266.3 253.6,266.3 252.8,266.3 251.9,266.3 251.0,266.3 250.1,266.3 249.2,266.2 248.2,266.2 247.2,266.1 246.3,266.0 245.4,265.8 244.4,265.6 243.5,265.3 242.6,264.9 241.7,264.6 240.9,264.1 240.1,263.7 239.3,263.1 238.5,262.6 237.7,262.0 237.0,261.3 236.4,260.7 235.7,259.9 235.2,259.2 234.6,258.4 234.1,257.6 233.7,256.8 233.3,255.9 232.9,255.0 232.6,254.1 232.4,253.2 232.2,252.3 232.1,251.3 232.0,250.4 232.0,249.4 232.0,248.5 232.1,247.5 232.2,246.6 232.4,245.6 232.7,244.7 233.0,243.8 233.4,242.9 233.8,242.0 234.3,241.1 234.8,240.3 235.3,239.5 235.7,238.7 236.2,238.0 236.6,237.2 237.1,236.5 237.5,235.8 237.9,235.1 238.3,234.4 238.7,233.8 239.1,233.1 239.5,232.5 239.9,231.8 240.3,231.2 240.6,230.6 241.0,229.9 241.4,229.3 241.7,228.7 242.1,228.1 242.5,227.5 242.8,226.9 243.2,226.3 243.5,225.7 243.9,225.1 244.3,224.5 244.6,223.9 245.0,223.3 245.4,222.7 245.7,222.1 246.1,221.4 246.5,220.8 246.9,220.2 247.3,219.5 247.7,218.8 248.1,218.2 248.5,217.5 248.9,216.8 249.3,216.1 249.8,215.3 250.2,214.6 250.7,213.8 251.2,213.0 251.7,212.2 252.3,211.5 252.9,210.8 253.5,210.1 254.2,209.5 254.9,208.9 255.6,208.3 256.4,207.8 257.2,207.3 258.0,206.9 258.8,206.5 259.7,206.2 260.5,205.8 261.4,205.6 262.3,205.4 263.2,205.2 264.2,205.1 265.1,205.0 266.0,205.0 266.9,205.0 267.8,205.1 268.8,205.2 269.7,205.4 270.6,205.6 271.5,205.8 272.3,206.2 273.2,206.5 274.0,206.9 274.8,207.3 275.6,207.8 276.4,208.3 277.1,208.9 277.8,209.5 278.5,210.1 279.1,210.8 279.7,211.5 280.3,212.2 280.8,213.0 281.3,213.8 281.8,214.6 282.2,215.3 282.7,216.1 283.1,216.8 283.5,217.5 283.9,218.2 284.3,218.8 284.7,219.5 285.1,220.2 285.5,220.8 285.9,221.4 286.3,222.1 286.6,222.7 287.0,223.3 287.4,223.9 287.7,224.5 288.1,225.1 288.5,225.7 288.8,226.3 289.2,226.9 289.5,227.5 289.9,228.1 290.3,228.7 290.6,229.3 291.0,229.9 291.4,230.6 291.7,231.2 292.1,231.8 292.5,232.5 292.9,233.1 293.3,233.8 293.7,234.4 294.1,235.1 294.5,235.8 294.9,236.5 295.4,237.2 295.8,238.0 296.3,238.7 296.7,239.5Z"/>
<path fill="rgb(0,255,102)" d="M296.6,240.3 297.1,241.1 297.6,242.0 298.0,242.8 298.4,243.7 298.7,244.6 298.9,245.5 299.2,246.4 299.3,247.4 299.4,248.3 299.4,249.3 299.4,250.2 299.3,251.1 299.2,252.1 299.0,253.0 298.8,253.9 298.5,254.8 298.2,255.6 297.8,256.5 297.3,257.3 296.8,258.1 296.3,258.9 295.7,259.6 295.1,260.3 294.4,261.0 293.8,261.6 293.0,262.2 292.3,262.7 291.5,263.2 290.7,263.7 289.8,264.1 289.0,264.5 288.1,264.8 287.2,265.1 286.3,265.3 285.3,265.5 284.4,265.6 283.5,265.7 282.5,265.7 281.6,265.7 280.7,265.7 279.8,265.7 279.0,265.7 278.1,265.7 277.3,265.7 276.5,265.7 275.8,265.7 275.0,265.7 274.3,265.7 273.5,265.7 272.8,265.7 272.1,265.7 271.4,265.7 270.7,265.7 270.0,265.7 269.3,265.7 268.7,265.7 268.0,265.7 267.3,265.7 266.7,265.7 266.0,265.7 265.3,265.7 264.7,265.7 264.0,265.7 263.3,265.7 262.7,265.7 262.0,265.7 261.3,265.7 260.6,265.7 259.9,265.7 259.2,265.7 258.5,265.7 257.7,265.7 257.0,265.7 256.2,265.7 255.5,265.7 254.7,265.7 253.9,265.7 253.0,265.7 252.2,265.7 251.3,265.7 250.4,265.7 249.5,265.7 248.5,265.7 247.6,265.6 246.7,265.5 245.7,265.3 244.8,265.1 243.9,264.8 243.0,264.5 242.2,264.1 241.3,263.7 240.5,263.2 239.7,262.7 239.0,262.2 238.2,261.6 237.6,261.0 236.9,260.3 236.3,259.6 235.7,258.9 235.2,258.1 234.7,257.3 234.2,256.5 233.8,255.6 233.5,254.8 233.2,253.9 233.0,253.0 232.8,252.1 232.7,251.1 232.6,250.2 232.6,249.3 232.6,248.3 232.7,247.4 232.8,246.4 233.1,245.5 233.3,244.6 233.6,243.7 234.0,242.8 234.4,242.0 234.9,241.1 235.4,240.3 235.9,239.5 236.3,238.7 236.8,238.0 237.2,237.3 237.6,236.6 238.0,235.9 238.5,235.2 238.9,234.5 239.2,233.9 239.6,233.2 240.0,232.6 240.4,232.0 240.8,231.4 241.1,230.8 241.5,230.1 241.8,229.5 242.2,228.9 242.6,228.4 242.9,227.8 243.3,227.2 243.6,226.6 244.0,226.0 244.3,225.4 244.7,224.8 245.0,224.2 245.4,223.6 245.8,223.0 246.1,222.4 246.5,221.8 246.9,221.2 247.3,220.5 247.6,219.9 248.0,219.3 248.4,218.6 248.8,217.9 249.2,217.2 249.7,216.5 250.1,215.8 250.5,215.1 251.0,214.3 251.5,213.5 252.0,212.8 252.5,212.0 253.1,211.3 253.7,210.7 254.4,210.1 255.1,209.5 255.8,208.9 256.6,208.4 257.3,207.9 258.1,207.5 258.9,207.1 259.8,206.8 260.6,206.5 261.5,206.2 262.4,206.0 263.3,205.9 264.2,205.7 265.1,205.7 266.0,205.6 266.9,205.7 267.8,205.7 268.7,205.9 269.6,206.0 270.5,206.2 271.4,206.5 272.2,206.8 273.1,207.1 273.9,207.5 274.7,207.9 275.4,208.4 276.2,208.9 276.9,209.5 277.6,210.1 278.3,210.7 278.9,211.3 279.5,212.0 280.0,212.8 280.5,213.5 281.0,214.3 281.5,215.1 281.9,215.8 282.3,216.5 282.8,217.2 283.2,217.9 283.6,218.6 284.0,219.3 284.4,219.9 284.7,220.5 285.1,221.2 285.5,221.8 285.9,222.4 286.2,223.0 286.6,223.6 287.0,224.2 287.3,224.8 287.7,225.4 288.0,226.0 288.4,226.6 288.7,227.2 289.1,227.8 289.4,228.4 289.8,228.9 290.2,229.5 290.5,230.1 290.9,230.8 291.2,231.4 291.6,232.0 292.0,232.6 292.4,233.2 292.8,233.9 293.1,234.5 293.5,235.2 294.0,235.9 294.4,236.6 294.8,237.3 295.2,238.0 295.7,238.7 296.1,239.5Z"/>
<path fill="rgb(0,255,76)" d="M296.0,240.3 296.5,241.1 297.0,241.9 297.4,242.8 297.8,243.6 298.1,244.5 298.3,245.4 298.5,246.3 298.7,247.2 298.8,248.2 298.8,249.1 298.8,250.0 298.7,250.9 298.6,251.8 298.4,252.7 298.2,253.6 297.9,254.5 297.6,255.4 297.2,256.2 296.8,257.0 296.3,257.8 295.8,258.5 295.2,259.3 294.6,259.9 293.9,260.6 293.2,261.2 292.5,261.8 291.8,262.3 291.0,262.8 290.2,263.3 289.4,263.7 288.5,264.0 287.7,264.4 286.8,264.6 285.9,264.8 285.0,265.0 284.0,265.1 283.1,265.2 282.2,265.2 281.3,265.2 280.4,265.2 279.5,265.2 278.7,265.2 277.9,265.2 277.1,265.2 276.3,265.2 275.6,265.2 274.8,265.2 274.1,265.2 273.4,265.2 272.7,265.2 272.0,265.2 271.3,265.2 270.6,265.2 269.9,265.2 269.3,265.2 268.6,265.2 268.0,265.2 267.3,265.2 266.7,265.2 266.0,265.2 265.3,265.2 264.7,265.2 264.0,265.2 263.4,265.2 262.7,265.2 262.1,265.2 261.4,265.2 260.7,265.2 260.0,265.2 259.3,265.2 258.6,265.2 257.9,265.2 257.2,265.2 256.4,265.2 255.7,265.2 254.9,265.2 254.1,265.2 253.3,265.2 252.5,265.2 251.6,265.2 250.7,265.2 249.8,265.2 248.9,265.2 248.0,265.1 247.0,265.0 246.1,264.8 245.2,264.6 244.3,264.4 243.5,264.0 242.6,263.7 241.8,263.3 241.0,262.8 240.2,262.3 239.5,261.8 238.8,261.2 238.1,260.6 237.4,259.9 236.8,259.3 236.2,258.5 235.7,257.8 235.2,257.0 234.8,256.2 234.4,255.4 234.1,254.5 233.8,253.6 233.6,252.7 233.4,251.8 233.3,250.9 233.2,250.0 233.2,249.1 233.2,248.2 233.3,247.2 233.5,246.3 233.7,245.4 233.9,244.5 234.2,243.6 234.6,242.8 235.0,241.9 235.5,241.1 236.0,240.3 236.5,239.5 236.9,238.8 237.3,238.0 237.8,237.3 238.2,236.6 238.6,236.0 239.0,235.3 239.4,234.6 239.8,234.0 240.2,233.4 240.5,232.8 240.9,232.1 241.3,231.5 241.6,230.9 242.0,230.3 242.3,229.8 242.7,229.2 243.0,228.6 243.4,228.0 243.7,227.4 244.1,226.9 244.4,226.3 244.8,225.7 245.1,225.1 245.5,224.5 245.8,224.0 246.2,223.4 246.5,222.8 246.9,222.2 247.3,221.6 247.6,220.9 248.0,220.3 248.4,219.7 248.8,219.0 249.2,218.4 249.6,217.7 250.0,217.0 250.4,216.3 250.8,215.6 251.3,214.8 251.8,214.1 252.2,213.3 252.8,212.6 253.4,211.9 254.0,211.3 254.6,210.6 255.3,210.1 256.0,209.5 256.7,209.0 257.5,208.5 258.3,208.1 259.1,207.7 259.9,207.4 260.7,207.1 261.6,206.9 262.5,206.6 263.3,206.5 264.2,206.4 265.1,206.3 266.0,206.3 266.9,206.3 267.8,206.4 268.7,206.5 269.5,206.6 270.4,206.9 271.3,207.1 272.1,207.4 272.9,207.7 273.7,208.1 274.5,208.5 275.3,209.0 276.0,209.5 276.7,210.1 277.4,210.6 278.0,211.3 278.6,211.9 279.2,212.6 279.8,213.3 280.2,214.1 280.7,214.8 281.2,215.6 281.6,216.3 282.0,217.0 282.4,217.7 282.8,218.4 283.2,219.0 283.6,219.7 284.0,220.3 284.4,220.9 284.7,221.6 285.1,222.2 285.5,222.8 285.8,223.4 286.2,224.0 286.5,224.5 286.9,225.1 287.2,225.7 287.6,226.3 287.9,226.9 288.3,227.4 288.6,228.0 289.0,228.6 289.3,229.2 289.7,229.8 290.0,230.3 290.4,230.9 290.7,231.5 291.1,232.1 291.5,232.8 291.8,233.4 292.2,234.0 292.6,234.6 293.0,235.3 293.4,236.0 293.8,236.6 294.2,237.3 294.7,238.0 295.1,238.8 295.5,239.5Z"/>
<path fill="rgb(0,255,51)" d="M295.4,240.3 295.9,241.1 296.3,241.9 296.8,242.7 297.1,243.6 297.5,244.4 297.7,245.3 297.9,246.2 298.1,247.1 298.2,248.0 298.2,248.9 298.2,249.8 298.1,250.7 298.0,251.6 297.8,252.5 297.6,253.4 297.3,254.2 297.0,255.1 296.6,255.9 296.2,256.7 295.7,257.5 295.2,258.2 294.6,258.9 294.0,259.6 293.4,260.2 292.7,260.8 292.0,261.4 291.3,261.9 290.5,262.4 289.7,262.8 288.9,263.2 288.1,263.6 287.2,263.9 286.4,264.1 285.5,264.4 284.6,264.5 283.7,264.6 282.8,264.7 281.9,264.7 281.0,264.7 280.1,264.7 279.3,264.7 278.4,264.7 277.6,264.7 276.9,264.7 276.1,264.7 275.4,264.7 274.6,264.7 273.9,264.7 273.2,264.7 272.5,264.7 271.9,264.7 271.2,264.7 270.5,264.7 269.9,264.7 269.2,264.7 268.6,264.7 267.9,264.7 267.3,264.7 266.6,264.7 266.0,264.7 265.4,264.7 264.7,264.7 264.1,264.7 263.4,264.7 262.8,264.7 262.1,264.7 261.5,264.7 260.8,264.7 260.1,264.7 259.5,264.7 258.8,264.7 258.1,264.7 257.4,264.7 256.6,264.7 255.9,264.7 255.1,264.7 254.4,264.7 253.6,264.7 252.7,264.7 251.9,264.7 251.0,264.7 250.1,264.7 249.2,264.7 248.3,264.6 247.4,264.5 246.5,264.4 245.6,264.1 244.8,263.9 243.9,263.6 243.1,263.2 242.3,262.8 241.5,262.4 240.7,261.9 240.0,261.4 239.3,260.8 238.6,260.2 238.0,259.6 237.4,258.9 236.8,258.2 236.3,257.5 235.8,256.7 235.4,255.9 235.0,255.1 234.7,254.2 234.4,253.4 234.2,252.5 234.0,251.6 233.9,250.7 233.8,249.8 233.8,248.9 233.8,248.0 233.9,247.1 234.1,246.2 234.3,245.3 234.5,244.4 234.9,243.6 235.2,242.7 235.7,241.9 236.1,241.1 236.6,240.3 237.0,239.5 237.5,238.8 237.9,238.1 238.3,237.4 238.7,236.7 239.1,236.0 239.5,235.4 239.9,234.8 240.3,234.1 240.7,233.5 241.0,232.9 241.4,232.3 241.8,231.7 242.1,231.1 242.5,230.5 242.8,230.0 243.1,229.4 243.5,228.8 243.8,228.3 244.2,227.7 244.5,227.1 244.8,226.6 245.2,226.0 245.5,225.4 245.9,224.9 246.2,224.3 246.6,223.7 246.9,223.1 247.3,222.5 247.6,221.9 248.0,221.3 248.4,220.7 248.7,220.1 249.1,219.5 249.5,218.8 249.9,218.1 250.3,217.5 250.7,216.8 251.2,216.1 251.6,215.3 252.0,214.6 252.5,213.9 253.0,213.1 253.6,212.5 254.2,211.8 254.8,211.2 255.5,210.6 256.2,210.1 256.9,209.6 257.7,209.1 258.4,208.7 259.2,208.4 260.0,208.0 260.8,207.7 261.7,207.5 262.5,207.3 263.4,207.1 264.3,207.0 265.1,206.9 266.0,206.9 266.9,206.9 267.7,207.0 268.6,207.1 269.5,207.3 270.3,207.5 271.2,207.7 272.0,208.0 272.8,208.4 273.6,208.7 274.3,209.1 275.1,209.6 275.8,210.1 276.5,210.6 277.2,211.2 277.8,211.8 278.4,212.5 279.0,213.1 279.5,213.9 280.0,214.6 280.4,215.3 280.8,216.1 281.3,216.8 281.7,217.5 282.1,218.1 282.5,218.8 282.9,219.5 283.3,220.1 283.6,220.7 284.0,221.3 284.4,221.9 284.7,222.5 285.1,223.1 285.4,223.7 285.8,224.3 286.1,224.9 286.5,225.4 286.8,226.0 287.2,226.6 287.5,227.1 287.8,227.7 288.2,228.3 288.5,228.8 288.9,229.4 289.2,230.0 289.5,230.5 289.9,231.1 290.2,231.7 290.6,232.3 291.0,232.9 291.3,233.5 291.7,234.1 292.1,234.8 292.5,235.4 292.9,236.0 293.3,236.7 293.7,237.4 294.1,238.1 294.5,238.8 295.0,239.5Z"/>
<path fill="rgb(0,255,26)" d="M294.8,240.3 295.3,241.1 295.7,241.9 296.2,242.7 296.5,243.5 296.8,244.4 297.1,245.2 297.3,246.1 297.5,247.0 297.6,247.9 297.6,248.8 297.6,249.7 297.5,250.5 297.4,251.4 297.2,252.3 297.0,253.1 296.7,254.0 296.4,254.8 296.0,255.6 295.6,256.4 295.2,257.1 294.7,257.9 294.1,258.6 293.5,259.2 292.9,259.8 292.2,260.4 291.5,261.0 290.8,261.5 290.1,262.0 289.3,262.4 288.5,262.8 287.7,263.1 286.8,263.4 286.0,263.7 285.1,263.9 284.2,264.0 283.3,264.1 282.4,264.2 281.5,264.2 280.7,264.2 279.8,264.2 279.0,264.2 278.2,264.2 277.4,264.2 276.6,264.2 275.9,264.2 275.2,264.2 274.5,264.2 273.8,264.2 273.1,264.2 272.4,264.2 271.7,264.2 271.1,264.2 270.4,264.2 269.8,264.2 269.1,264.2 268.5,264.2 267.9,264.2 267.3,264.2 266.6,264.2 266.0,264.2 265.4,264.2 264.7,264.2 264.1,264.2 263.5,264.2 262.9,264.2 262.2,264.2 261.6,264.2 260.9,264.2 260.3,264.2 259.6,264.2 258.9,264.2 258.2,264.2 257.5,264.2 256.8,264.2 256.1,264.2 255.4,264.2 254.6,264.2 253.8,264.2 253.0,264.2 252.2,264.2 251.3,264.2 250.5,264.2 249.6,264.2 248.7,264.1 247.8,264.0 246.9,263.9 246.0,263.7 245.2,263.4 244.3,263.1 243.5,262.8 242.7,262.4 241.9,262.0 241.2,261.5 240.5,261.0 239.8,260.4 239.1,259.8 238.5,259.2 237.9,258.6 237.3,257.9 236.8,257.1 236.4,256.4 236.0,255.6 235.6,254.8 235.3,254.0 235.0,253.1 234.8,252.3 234.6,251.4 234.5,250.5 234.4,249.7 234.4,248.8 234.4,247.9 234.5,247.0 234.7,246.1 234.9,245.2 235.2,244.4 235.5,243.5 235.8,242.7 236.3,241.9 236.7,241.1 237.2,240.3 237.6,239.6 238.1,238.8 238.5,238.1 238.9,237.5 239.3,236.8 239.7,236.1 240.1,235.5 240.5,234.9 240.8,234.3 241.2,233.7 241.5,233.1 241.9,232.5 242.2,231.9 242.6,231.3 242.9,230.7 243.3,230.2 243.6,229.6 243.9,229.1 244.3,228.5 244.6,228.0 244.9,227.4 245.3,226.8 245.6,226.3 246.0,225.7 246.3,225.2 246.6,224.6 247.0,224.0 247.3,223.5 247.7,222.9 248.0,222.3 248.4,221.7 248.7,221.1 249.1,220.5 249.5,219.9 249.8,219.2 250.2,218.6 250.6,217.9 251.0,217.3 251.5,216.6 251.9,215.9 252.3,215.1 252.8,214.4 253.3,213.7 253.9,213.0 254.4,212.4 255.1,211.8 255.7,211.2 256.4,210.7 257.1,210.2 257.8,209.8 258.6,209.3 259.3,209.0 260.1,208.6 260.9,208.4 261.8,208.1 262.6,207.9 263.4,207.8 264.3,207.7 265.1,207.6 266.0,207.6 266.9,207.6 267.7,207.7 268.6,207.8 269.4,207.9 270.2,208.1 271.1,208.4 271.9,208.6 272.7,209.0 273.4,209.3 274.2,209.8 274.9,210.2 275.6,210.7 276.3,211.2 276.9,211.8 277.6,212.4 278.1,213.0 278.7,213.7 279.2,214.4 279.7,215.1 280.1,215.9 280.5,216.6 281.0,217.3 281.4,217.9 281.8,218.6 282.2,219.2 282.5,219.9 282.9,220.5 283.3,221.1 283.6,221.7 284.0,222.3 284.3,222.9 284.7,223.5 285.0,224.0 285.4,224.6 285.7,225.2 286.0,225.7 286.4,226.3 286.7,226.8 287.1,227.4 287.4,228.0 287.7,228.5 288.1,229.1 288.4,229.6 288.7,230.2 289.1,230.7 289.4,231.3 289.8,231.9 290.1,232.5 290.5,233.1 290.8,233.7 291.2,234.3 291.5,234.9 291.9,235.5 292.3,236.1 292.7,236.8 293.1,237.5 293.5,238.1 293.9,238.8 294.4,239.6Z"/>
<path fill="rgb(0,255,0)" d="M294.2,240.3 294.7,241.1 295.1,241.8 295.5,242.6 295.9,243.4 296.2,244.3 296.5,245.1 296.7,246.0 296.8,246.9 297.0,247.7 297.0,248.6 297.0,249.5 296.9,250.3 296.8,251.2 296.6,252.1 296.4,252.9 296.2,253.7 295.8,254.5 295.5,255.3 295.1,256.1 294.6,256.8 294.1,257.5 293.6,258.2 293.0,258.9 292.4,259.5 291.7,260.0 291.0,260.6 290.3,261.1 289.6,261.5 288.8,262.0 288.0,262.3 287.2,262.7 286.4,263.0 285.6,263.2 284.7,263.4 283.8,263.5 283.0,263.6 282.1,263.7 281.2,263.7 280.3,263.7 279.5,263.7 278.7,263.7 277.9,263.7 277.2,263.7 276.4,263.7 275.7,263.7 275.0,263.7 274.3,263.7 273.6,263.7 272.9,263.7 272.3,263.7 271.6,263.7 271.0,263.7 270.3,263.7 269.7,263.7 269.1,263.7 268.5,263.7 267.8,263.7 267.2,263.7 266.6,263.7 266.0,263.7 265.4,263.7 264.8,263.7 264.2,263.7 263.5,263.7 262.9,263.7 262.3,263.7 261.7,263.7 261.0,263.7 260.4,263.7 259.7,263.7 259.1,263.7 258.4,263.7 257.7,263.7 257.0,263.7 256.3,263.7 255.6,263.7 254.8,263.7 254.1,263.7 253.3,263.7 252.5,263.7 251.7,263.7 250.8,263.7 249.9,263.7 249.0,263.6 248.2,263.5 247.3,263.4 246.4,263.2 245.6,263.0 244.8,262.7 244.0,262.3 243.2,262.0 242.4,261.5 241.7,261.1 241.0,260.6 240.3,260.0 239.6,259.5 239.0,258.9 238.4,258.2 237.9,257.5 237.4,256.8 236.9,256.1 236.5,255.3 236.2,254.5 235.8,253.7 235.6,252.9 235.4,252.1 235.2,251.2 235.1,250.3 235.0,249.5 235.0,248.6 235.0,247.7 235.2,246.9 235.3,246.0 235.5,245.1 235.8,244.3 236.1,243.4 236.5,242.6 236.9,241.8 237.3,241.1 237.8,240.3 238.2,239.6 238.7,238.9 239.1,238.2 239.5,237.5 239.9,236.9 240.2,236.2 240.6,235.6 241.0,235.0 241.4,234.4 241.7,233.8 242.1,233.2 242.4,232.6 242.7,232.1 243.1,231.5 243.4,230.9 243.8,230.4 244.1,229.8 244.4,229.3 244.7,228.8 245.1,228.2 245.4,227.7 245.7,227.1 246.0,226.6 246.4,226.0 246.7,225.5 247.0,224.9 247.4,224.4 247.7,223.8 248.0,223.3 248.4,222.7 248.7,222.1 249.1,221.5 249.4,220.9 249.8,220.3 250.2,219.7 250.6,219.1 251.0,218.4 251.4,217.8 251.8,217.1 252.2,216.4 252.6,215.7 253.1,214.9 253.6,214.2 254.1,213.6 254.7,213.0 255.3,212.4 255.9,211.8 256.6,211.3 257.3,210.8 258.0,210.4 258.7,210.0 259.5,209.6 260.2,209.3 261.0,209.0 261.8,208.7 262.7,208.6 263.5,208.4 264.3,208.3 265.2,208.2 266.0,208.2 266.8,208.2 267.7,208.3 268.5,208.4 269.3,208.6 270.2,208.7 271.0,209.0 271.8,209.3 272.5,209.6 273.3,210.0 274.0,210.4 274.7,210.8 275.4,211.3 276.1,211.8 276.7,212.4 277.3,213.0 277.9,213.6 278.4,214.2 278.9,214.9 279.4,215.7 279.8,216.4 280.2,217.1 280.6,217.8 281.0,218.4 281.4,219.1 281.8,219.7 282.2,220.3 282.6,220.9 282.9,221.5 283.3,222.1 283.6,222.7 284.0,223.3 284.3,223.8 284.6,224.4 285.0,224.9 285.3,225.5 285.6,226.0 286.0,226.6 286.3,227.1 286.6,227.7 286.9,228.2 287.3,228.8 287.6,229.3 287.9,229.8 288.2,230.4 288.6,230.9 288.9,231.5 289.3,232.1 289.6,232.6 289.9,233.2 290.3,233.8 290.6,234.4 291.0,235.0 291.4,235.6 291.8,236.2 292.1,236.9 292.5,237.5 292.9,238.2 293.3,238.9 293.8,239.6Z"/>
<path fill="rgb(26,255,0)" d="M293.6,240.3 294.1,241.0 294.5,241.8 294.9,242.6 295.3,243.4 295.6,244.2 295.9,245.0 296.1,245.9 296.3,246.7 296.4,247.6 296.4,248.4 296.4,249.3 296.3,250.2 296.2,251.0 296.1,251.8 295.8,252.7 295.6,253.5 295.3,254.3 294.9,255.0 294.5,255.8 294.1,256.5 293.6,257.2 293.0,257.9 292.5,258.5 291.9,259.1 291.2,259.7 290.5,260.2 289.8,260.7 289.1,261.1 288.4,261.5 287.6,261.9 286.8,262.2 286.0,262.5 285.1,262.7 284.3,262.9 283.4,263.0 282.6,263.1 281.7,263.2 280.8,263.2 280.0,263.2 279.2,263.2 278.4,263.2 277.6,263.2 276.9,263.2 276.2,263.2 275.5,263.2 274.8,263.2 274.1,263.2 273.4,263.2 272.8,263.2 272.1,263.2 271.5,263.2 270.9,263.2 270.2,263.2 269.6,263.2 269.0,263.2 268.4,263.2 267.8,263.2 267.2,263.2 266.6,263.2 266.0,263.2 265.4,263.2 264.8,263.2 264.2,263.2 263.6,263.2 263.0,263.2 262.4,263.2 261.8,263.2 261.1,263.2 260.5,263.2 259.9,263.2 259.2,263.2 258.6,263.2 257.9,263.2 257.2,263.2 256.5,263.2 255.8,263.2 255.1,263.2 254.4,263.2 253.6,263.2 252.8,263.2 252.0,263.2 251.2,263.2 250.3,263.2 249.4,263.1 248.6,263.0 247.7,262.9 246.9,262.7 246.0,262.5 245.2,262.2 244.4,261.9 243.6,261.5 242.9,261.1 242.2,260.7 241.5,260.2 240.8,259.7 240.1,259.1 239.5,258.5 239.0,257.9 238.4,257.2 237.9,256.5 237.5,255.8 237.1,255.0 236.7,254.3 236.4,253.5 236.2,252.7 235.9,251.8 235.8,251.0 235.7,250.2 235.6,249.3 235.6,248.4 235.6,247.6 235.7,246.7 235.9,245.9 236.1,245.0 236.4,244.2 236.7,243.4 237.1,242.6 237.5,241.8 237.9,241.0 238.4,240.3 238.8,239.6 239.2,238.9 239.6,238.2 240.0,237.6 240.4,236.9 240.8,236.3 241.1,235.7 241.5,235.1 241.9,234.5 242.2,233.9 242.6,233.4 242.9,232.8 243.2,232.2 243.6,231.7 243.9,231.1 244.2,230.6 244.5,230.1 244.9,229.5 245.2,229.0 245.5,228.5 245.8,227.9 246.1,227.4 246.5,226.9 246.8,226.3 247.1,225.8 247.4,225.3 247.7,224.7 248.1,224.2 248.4,223.6 248.7,223.0 249.1,222.5 249.4,221.9 249.8,221.3 250.1,220.7 250.5,220.1 250.9,219.5 251.3,218.9 251.7,218.2 252.1,217.5 252.5,216.9 252.9,216.2 253.3,215.5 253.8,214.8 254.3,214.1 254.9,213.5 255.5,212.9 256.1,212.4 256.8,211.8 257.4,211.4 258.1,210.9 258.8,210.5 259.6,210.1 260.4,209.8 261.1,209.5 261.9,209.3 262.7,209.1 263.5,209.0 264.4,208.8 265.2,208.8 266.0,208.8 266.8,208.8 267.6,208.8 268.5,209.0 269.3,209.1 270.1,209.3 270.9,209.5 271.6,209.8 272.4,210.1 273.2,210.5 273.9,210.9 274.6,211.4 275.2,211.8 275.9,212.4 276.5,212.9 277.1,213.5 277.7,214.1 278.2,214.8 278.7,215.5 279.1,216.2 279.5,216.9 279.9,217.5 280.3,218.2 280.7,218.9 281.1,219.5 281.5,220.1 281.9,220.7 282.2,221.3 282.6,221.9 282.9,222.5 283.3,223.0 283.6,223.6 283.9,224.2 284.3,224.7 284.6,225.3 284.9,225.8 285.2,226.3 285.5,226.9 285.9,227.4 286.2,227.9 286.5,228.5 286.8,229.0 287.1,229.5 287.5,230.1 287.8,230.6 288.1,231.1 288.4,231.7 288.8,232.2 289.1,232.8 289.4,233.4 289.8,233.9 290.1,234.5 290.5,235.1 290.9,235.7 291.2,236.3 291.6,236.9 292.0,237.6 292.4,238.2 292.8,238.9 293.2,239.6Z"/>
<path fill="rgb(51,255,0)" d="M293.0,240.3 293.5,241.0 293.9,241.8 294.3,242.5 294.7,243.3 295.0,244.1 295.3,244.9 295.5,245.8 295.7,246.6 295.8,247.4 295.8,248.3 295.8,249.1 295.7,250.0 295.6,250.8 295.5,251.6 295.3,252.4 295.0,253.2 294.7,254.0 294.3,254.7 293.9,255.5 293.5,256.2 293.0,256.9 292.5,257.5 291.9,258.1 291.3,258.7 290.7,259.3 290.0,259.8 289.4,260.2 288.6,260.7 287.9,261.1 287.1,261.4 286.3,261.7 285.5,262.0 284.7,262.2 283.9,262.4 283.0,262.5 282.2,262.6 281.3,262.6 280.5,262.6 279.7,262.6 278.9,262.6 278.1,262.6 277.4,262.6 276.6,262.6 275.9,262.6 275.2,262.6 274.6,262.6 273.9,262.6 273.3,262.6 272.6,262.6 272.0,262.6 271.4,262.6 270.7,262.6 270.1,262.6 269.5,262.6 268.9,262.6 268.3,262.6 267.8,262.6 267.2,262.6 266.6,262.6 266.0,262.6 265.4,262.6 264.8,262.6 264.2,262.6 263.7,262.6 263.1,262.6 262.5,262.6 261.9,262.6 261.3,262.6 260.6,262.6 260.0,262.6 259.4,262.6 258.7,262.6 258.1,262.6 257.4,262.6 256.8,262.6 256.1,262.6 255.4,262.6 254.6,262.6 253.9,262.6 253.1,262.6 252.3,262.6 251.5,262.6 250.7,262.6 249.8,262.6 249.0,262.5 248.1,262.4 247.3,262.2 246.5,262.0 245.7,261.7 244.9,261.4 244.1,261.1 243.4,260.7 242.6,260.2 242.0,259.8 241.3,259.3 240.7,258.7 240.1,258.1 239.5,257.5 239.0,256.9 238.5,256.2 238.1,255.5 237.7,254.7 237.3,254.0 237.0,253.2 236.7,252.4 236.5,251.6 236.4,250.8 236.3,250.0 236.2,249.1 236.2,248.3 236.2,247.4 236.3,246.6 236.5,245.8 236.7,244.9 237.0,244.1 237.3,243.3 237.7,242.5 238.1,241.8 238.5,241.0 239.0,240.3 239.4,239.6 239.8,238.9 240.2,238.3 240.6,237.6 240.9,237.0 241.3,236.4 241.7,235.8 242.0,235.2 242.4,234.6 242.7,234.1 243.0,233.5 243.4,232.9 243.7,232.4 244.0,231.9 244.3,231.3 244.7,230.8 245.0,230.3 245.3,229.8 245.6,229.2 245.9,228.7 246.2,228.2 246.6,227.7 246.9,227.1 247.2,226.6 247.5,226.1 247.8,225.6 248.1,225.0 248.5,224.5 248.8,224.0 249.1,223.4 249.4,222.9 249.8,222.3 250.1,221.7 250.5,221.1 250.8,220.5 251.2,219.9 251.6,219.3 252.0,218.7 252.4,218.0 252.8,217.4 253.2,216.7 253.6,216.0 254.1,215.3 254.6,214.6 255.1,214.0 255.7,213.4 256.3,212.9 256.9,212.4 257.6,211.9 258.3,211.5 259.0,211.1 259.7,210.7 260.5,210.4 261.2,210.1 262.0,209.9 262.8,209.7 263.6,209.5 264.4,209.4 265.2,209.3 266.0,209.3 266.8,209.3 267.6,209.4 268.4,209.5 269.2,209.7 270.0,209.9 270.8,210.1 271.5,210.4 272.3,210.7 273.0,211.1 273.7,211.5 274.4,211.9 275.1,212.4 275.7,212.9 276.3,213.4 276.9,214.0 277.4,214.6 277.9,215.3 278.4,216.0 278.8,216.7 279.2,217.4 279.6,218.0 280.0,218.7 280.4,219.3 280.8,219.9 281.2,220.5 281.5,221.1 281.9,221.7 282.2,222.3 282.6,222.9 282.9,223.4 283.2,224.0 283.5,224.5 283.9,225.0 284.2,225.6 284.5,226.1 284.8,226.6 285.1,227.1 285.4,227.7 285.8,228.2 286.1,228.7 286.4,229.2 286.7,229.8 287.0,230.3 287.3,230.8 287.7,231.3 288.0,231.9 288.3,232.4 288.6,232.9 289.0,233.5 289.3,234.1 289.6,234.6 290.0,235.2 290.3,235.8 290.7,236.4 291.1,237.0 291.4,237.6 291.8,238.3 292.2,238.9 292.6,239.6Z"/>
<path fill="rgb(76,255,0)" d="M292.5,240.3 292.9,241.0 293.3,241.7 293.7,242.5 294.1,243.3 294.4,244.0 294.7,244.8 294.9,245.7 295.1,246.5 295.2,247.3 295.2,248.1 295.2,249.0 295.2,249.8 295.0,250.6 294.9,251.4 294.7,252.2 294.4,253.0 294.1,253.7 293.8,254.5 293.4,255.2 293.0,255.9 292.5,256.5 292.0,257.2 291.4,257.8 290.8,258.3 290.2,258.9 289.5,259.4 288.9,259.8 288.1,260.2 287.4,260.6 286.7,261.0 285.9,261.3 285.1,261.5 284.3,261.7 283.5,261.9 282.6,262.0 281.8,262.0 281.0,262.1 280.1,262.1 279.3,262.1 278.6,262.1 277.8,262.1 277.1,262.1 276.4,262.1 275.7,262.1 275.0,262.1 274.4,262.1 273.7,262.1 273.1,262.1 272.5,262.1 271.8,262.1 271.2,262.1 270.6,262.1 270.0,262.1 269.4,262.1 268.9,262.1 268.3,262.1 267.7,262.1 267.1,262.1 266.6,262.1 266.0,262.1 265.4,262.1 264.9,262.1 264.3,262.1 263.7,262.1 263.1,262.1 262.6,262.1 262.0,262.1 261.4,262.1 260.8,262.1 260.2,262.1 259.5,262.1 258.9,262.1 258.3,262.1 257.6,262.1 257.0,262.1 256.3,262.1 255.6,262.1 254.9,262.1 254.2,262.1 253.4,262.1 252.7,262.1 251.9,262.1 251.0,262.1 250.2,262.0 249.4,262.0 248.5,261.9 247.7,261.7 246.9,261.5 246.1,261.3 245.3,261.0 244.6,260.6 243.9,260.2 243.1,259.8 242.5,259.4 241.8,258.9 241.2,258.3 240.6,257.8 240.0,257.2 239.5,256.5 239.0,255.9 238.6,255.2 238.2,254.5 237.9,253.7 237.6,253.0 237.3,252.2 237.1,251.4 237.0,250.6 236.8,249.8 236.8,249.0 236.8,248.1 236.8,247.3 236.9,246.5 237.1,245.7 237.3,244.8 237.6,244.0 237.9,243.3 238.3,242.5 238.7,241.7 239.1,241.0 239.5,240.3 239.9,239.6 240.3,239.0 240.7,238.3 241.1,237.7 241.5,237.1 241.8,236.5 242.2,235.9 242.5,235.3 242.9,234.7 243.2,234.2 243.5,233.6 243.9,233.1 244.2,232.6 244.5,232.0 244.8,231.5 245.1,231.0 245.4,230.5 245.7,230.0 246.0,229.5 246.4,229.0 246.7,228.4 247.0,227.9 247.3,227.4 247.6,226.9 247.9,226.4 248.2,225.9 248.5,225.4 248.8,224.8 249.2,224.3 249.5,223.8 249.8,223.2 250.1,222.7 250.5,222.1 250.8,221.5 251.2,221.0 251.5,220.4 251.9,219.8 252.3,219.1 252.6,218.5 253.0,217.8 253.4,217.2 253.9,216.5 254.3,215.8 254.8,215.2 255.3,214.6 255.9,214.0 256.5,213.4 257.1,212.9 257.7,212.4 258.4,212.0 259.1,211.6 259.8,211.2 260.6,210.9 261.3,210.7 262.1,210.4 262.8,210.2 263.6,210.1 264.4,210.0 265.2,209.9 266.0,209.9 266.8,209.9 267.6,210.0 268.4,210.1 269.2,210.2 269.9,210.4 270.7,210.7 271.4,210.9 272.2,211.2 272.9,211.6 273.6,212.0 274.3,212.4 274.9,212.9 275.5,213.4 276.1,214.0 276.7,214.6 277.2,215.2 277.7,215.8 278.1,216.5 278.6,217.2 279.0,217.8 279.4,218.5 279.7,219.1 280.1,219.8 280.5,220.4 280.8,221.0 281.2,221.5 281.5,222.1 281.9,222.7 282.2,223.2 282.5,223.8 282.8,224.3 283.2,224.8 283.5,225.4 283.8,225.9 284.1,226.4 284.4,226.9 284.7,227.4 285.0,227.9 285.3,228.4 285.6,229.0 286.0,229.5 286.3,230.0 286.6,230.5 286.9,231.0 287.2,231.5 287.5,232.0 287.8,232.6 288.1,233.1 288.5,233.6 288.8,234.2 289.1,234.7 289.5,235.3 289.8,235.9 290.2,236.5 290.5,237.1 290.9,237.7 291.3,238.3 291.7,239.0 292.1,239.6Z"/>
<path fill="rgb(102,255,0)" d="M291.9,240.3 292.3,241.0 292.7,241.7 293.1,242.4 293.5,243.2 293.8,244.0 294.1,244.7 294.3,245.5 294.5,246.3 294.6,247.2 294.6,248.0 294.6,248.8 294.6,249.6 294.5,250.4 294.3,251.2 294.1,251.9 293.9,252.7 293.6,253.4 293.2,254.2 292.8,254.9 292.4,255.5 291.9,256.2 291.4,256.8 290.9,257.4 290.3,258.0 289.7,258.5 289.0,259.0 288.4,259.4 287.7,259.8 286.9,260.2 286.2,260.5 285.4,260.8 284.7,261.0 283.9,261.2 283.0,261.3 282.2,261.4 281.4,261.5 280.6,261.5 279.8,261.5 279.0,261.5 278.3,261.5 277.5,261.5 276.8,261.5 276.1,261.5 275.5,261.5 274.8,261.5 274.2,261.5 273.5,261.5 272.9,261.5 272.3,261.5 271.7,261.5 271.1,261.5 270.5,261.5 269.9,261.5 269.4,261.5 268.8,261.5 268.2,261.5 267.7,261.5 267.1,261.5 266.6,261.5 266.0,261.5 265.4,261.5 264.9,261.5 264.3,261.5 263.8,261.5 263.2,261.5 262.6,261.5 262.1,261.5 261.5,261.5 260.9,261.5 260.3,261.5 259.7,261.5 259.1,261.5 258.5,261.5 257.8,261.5 257.2,261.5 256.5,261.5 255.9,261.5 255.2,261.5 254.5,261.5 253.7,261.5 253.0,261.5 252.2,261.5 251.4,261.5 250.6,261.5 249.8,261.4 249.0,261.3 248.1,261.2 247.3,261.0 246.6,260.8 245.8,260.5 245.1,260.2 244.3,259.8 243.6,259.4 243.0,259.0 242.3,258.5 241.7,258.0 241.1,257.4 240.6,256.8 240.1,256.2 239.6,255.5 239.2,254.9 238.8,254.2 238.4,253.4 238.1,252.7 237.9,251.9 237.7,251.2 237.5,250.4 237.4,249.6 237.4,248.8 237.4,248.0 237.4,247.2 237.5,246.3 237.7,245.5 237.9,244.7 238.2,244.0 238.5,243.2 238.9,242.4 239.3,241.7 239.7,241.0 240.1,240.3 240.5,239.6 240.9,239.0 241.3,238.4 241.7,237.7 242.0,237.1 242.4,236.6 242.7,236.0 243.0,235.4 243.4,234.9 243.7,234.3 244.0,233.8 244.3,233.3 244.7,232.7 245.0,232.2 245.3,231.7 245.6,231.2 245.9,230.7 246.2,230.2 246.5,229.7 246.8,229.2 247.1,228.7 247.4,228.2 247.7,227.7 248.0,227.2 248.3,226.7 248.6,226.2 248.9,225.7 249.2,225.2 249.5,224.7 249.8,224.1 250.2,223.6 250.5,223.1 250.8,222.5 251.1,222.0 251.5,221.4 251.8,220.8 252.2,220.2 252.6,219.6 252.9,219.0 253.3,218.3 253.7,217.7 254.1,217.0 254.6,216.4 255.1,215.7 255.6,215.1 256.1,214.5 256.7,214.0 257.3,213.5 257.9,213.0 258.6,212.6 259.2,212.2 259.9,211.8 260.7,211.5 261.4,211.2 262.1,211.0 262.9,210.8 263.7,210.6 264.4,210.5 265.2,210.5 266.0,210.4 266.8,210.5 267.6,210.5 268.3,210.6 269.1,210.8 269.9,211.0 270.6,211.2 271.3,211.5 272.1,211.8 272.8,212.2 273.4,212.6 274.1,213.0 274.7,213.5 275.3,214.0 275.9,214.5 276.4,215.1 276.9,215.7 277.4,216.4 277.9,217.0 278.3,217.7 278.7,218.3 279.1,219.0 279.4,219.6 279.8,220.2 280.2,220.8 280.5,221.4 280.9,222.0 281.2,222.5 281.5,223.1 281.8,223.6 282.2,224.1 282.5,224.7 282.8,225.2 283.1,225.7 283.4,226.2 283.7,226.7 284.0,227.2 284.3,227.7 284.6,228.2 284.9,228.7 285.2,229.2 285.5,229.7 285.8,230.2 286.1,230.7 286.4,231.2 286.7,231.7 287.0,232.2 287.3,232.7 287.7,233.3 288.0,233.8 288.3,234.3 288.6,234.9 289.0,235.4 289.3,236.0 289.6,236.6 290.0,237.1 290.3,237.7 290.7,238.4 291.1,239.0 291.5,239.6Z"/>
<path fill="rgb(128,255,0)" d="M291.3,240.3 291.7,241.0 292.1,241.7 292.5,242.4 292.9,243.1 293.2,243.9 293.5,244.7 293.7,245.4 293.9,246.2 294.0,247.0 294.0,247.8 294.0,248.6 294.0,249.4 293.9,250.2 293.7,250.9 293.5,251.7 293.3,252.4 293.0,253.2 292.7,253.9 292.3,254.6 291.9,255.2 291.4,255.9 290.9,256.5 290.3,257.0 289.8,257.6 289.2,258.1 288.5,258.6 287.9,259.0 287.2,259.4 286.5,259.7 285.7,260.0 285.0,260.3 284.2,260.5 283.4,260.7 282.6,260.8 281.8,260.9 281.0,261.0 280.2,261.0 279.4,261.0 278.7,261.0 278.0,261.0 277.2,261.0 276.5,261.0 275.9,261.0 275.2,261.0 274.6,261.0 273.9,261.0 273.3,261.0 272.7,261.0 272.1,261.0 271.5,261.0 271.0,261.0 270.4,261.0 269.8,261.0 269.3,261.0 268.7,261.0 268.2,261.0 267.6,261.0 267.1,261.0 266.5,261.0 266.0,261.0 265.5,261.0 264.9,261.0 264.4,261.0 263.8,261.0 263.3,261.0 262.7,261.0 262.2,261.0 261.6,261.0 261.0,261.0 260.5,261.0 259.9,261.0 259.3,261.0 258.7,261.0 258.1,261.0 257.4,261.0 256.8,261.0 256.1,261.0 255.5,261.0 254.8,261.0 254.0,261.0 253.3,261.0 252.6,261.0 251.8,261.0 251.0,261.0 250.2,260.9 249.4,260.8 248.6,260.7 247.8,260.5 247.0,260.3 246.3,260.0 245.5,259.7 244.8,259.4 244.1,259.0 243.5,258.6 242.8,258.1 242.2,257.6 241.7,257.0 241.1,256.5 240.6,255.9 240.1,255.2 239.7,254.6 239.3,253.9 239.0,253.2 238.7,252.4 238.5,251.7 238.3,250.9 238.1,250.2 238.0,249.4 238.0,248.6 238.0,247.8 238.0,247.0 238.1,246.2 238.3,245.4 238.5,244.7 238.8,243.9 239.1,243.1 239.5,242.4 239.9,241.7 240.3,241.0 240.7,240.3 241.1,239.6 241.5,239.0 241.8,238.4 242.2,237.8 242.5,237.2 242.9,236.6 243.2,236.1 243.6,235.5 243.9,235.0 244.2,234.5 244.5,233.9 244.8,233.4 245.1,232.9 245.4,232.4 245.7,231.9 246.0,231.4 246.3,230.9 246.6,230.4 246.9,229.9 247.2,229.5 247.5,229.0 247.8,228.5 248.1,228.0 248.4,227.5 248.7,227.0 249.0,226.5 249.3,226.0 249.6,225.5 249.9,225.0 250.2,224.5 250.5,224.0 250.8,223.5 251.2,222.9 251.5,222.4 251.8,221.8 252.2,221.2 252.5,220.7 252.9,220.1 253.2,219.5 253.6,218.8 254.0,218.2 254.4,217.5 254.8,216.9 255.3,216.2 255.8,215.6 256.3,215.1 256.9,214.5 257.5,214.0 258.1,213.5 258.7,213.1 259.4,212.7 260.1,212.4 260.8,212.0 261.5,211.8 262.2,211.5 263.0,211.3 263.7,211.2 264.5,211.1 265.2,211.0 266.0,211.0 266.8,211.0 267.5,211.1 268.3,211.2 269.0,211.3 269.8,211.5 270.5,211.8 271.2,212.0 271.9,212.4 272.6,212.7 273.3,213.1 273.9,213.5 274.5,214.0 275.1,214.5 275.7,215.1 276.2,215.6 276.7,216.2 277.2,216.9 277.6,217.5 278.0,218.2 278.4,218.8 278.8,219.5 279.1,220.1 279.5,220.7 279.8,221.2 280.2,221.8 280.5,222.4 280.8,222.9 281.2,223.5 281.5,224.0 281.8,224.5 282.1,225.0 282.4,225.5 282.7,226.0 283.0,226.5 283.3,227.0 283.6,227.5 283.9,228.0 284.2,228.5 284.5,229.0 284.8,229.5 285.1,229.9 285.4,230.4 285.7,230.9 286.0,231.4 286.3,231.9 286.6,232.4 286.9,232.9 287.2,233.4 287.5,233.9 287.8,234.5 288.1,235.0 288.4,235.5 288.8,236.1 289.1,236.6 289.5,237.2 289.8,237.8 290.2,238.4 290.5,239.0 290.9,239.6Z"/>
<path fill="rgb(153,255,0)" d="M290.7,240.3 291.1,241.0 291.5,241.6 291.9,242.3 292.3,243.1 292.6,243.8 292.9,244.6 293.1,245.3 293.3,246.1 293.4,246.9 293.4,247.6 293.4,248.4 293.4,249.2 293.3,250.0 293.1,250.7 292.9,251.5 292.7,252.2 292.4,252.9 292.1,253.6 291.7,254.3 291.3,254.9 290.8,255.5 290.3,256.1 289.8,256.7 289.3,257.2 288.7,257.7 288.0,258.1 287.4,258.6 286.7,258.9 286.0,259.3 285.3,259.6 284.5,259.8 283.8,260.0 283.0,260.2 282.2,260.3 281.4,260.4 280.6,260.4 279.9,260.5 279.1,260.5 278.4,260.5 277.6,260.5 276.9,260.5 276.3,260.5 275.6,260.5 275.0,260.5 274.4,260.5 273.7,260.5 273.1,260.5 272.6,260.5 272.0,260.5 271.4,260.5 270.8,260.5 270.3,260.5 269.7,260.5 269.2,260.5 268.7,260.5 268.1,260.5 267.6,260.5 267.1,260.5 266.5,260.5 266.0,260.5 265.5,260.5 264.9,260.5 264.4,260.5 263.9,260.5 263.3,260.5 262.8,260.5 262.3,260.5 261.7,260.5 261.2,260.5 260.6,260.5 260.0,260.5 259.4,260.5 258.9,260.5 258.3,260.5 257.6,260.5 257.0,260.5 256.4,260.5 255.7,260.5 255.1,260.5 254.4,260.5 253.6,260.5 252.9,260.5 252.1,260.5 251.4,260.4 250.6,260.4 249.8,260.3 249.0,260.2 248.2,260.0 247.5,259.8 246.7,259.6 246.0,259.3 245.3,258.9 244.6,258.6 244.0,258.1 243.3,257.7 242.7,257.2 242.2,256.7 241.7,256.1 241.2,255.5 240.7,254.9 240.3,254.3 239.9,253.6 239.6,252.9 239.3,252.2 239.1,251.5 238.9,250.7 238.7,250.0 238.6,249.2 238.6,248.4 238.6,247.6 238.6,246.9 238.7,246.1 238.9,245.3 239.1,244.6 239.4,243.8 239.7,243.1 240.1,242.3 240.5,241.6 240.9,241.0 241.3,240.3 241.7,239.7 242.0,239.0 242.4,238.4 242.7,237.9 243.1,237.3 243.4,236.7 243.8,236.2 244.1,235.6 244.4,235.1 244.7,234.6 245.0,234.1 245.3,233.6 245.6,233.1 245.9,232.6 246.2,232.1 246.5,231.6 246.8,231.1 247.1,230.7 247.4,230.2 247.6,229.7 247.9,229.2 248.2,228.8 248.5,228.3 248.8,227.8 249.1,227.3 249.4,226.8 249.7,226.3 250.0,225.9 250.3,225.4 250.6,224.9 250.9,224.4 251.2,223.8 251.5,223.3 251.8,222.8 252.1,222.2 252.5,221.7 252.8,221.1 253.2,220.5 253.5,219.9 253.9,219.3 254.3,218.7 254.7,218.1 255.1,217.4 255.5,216.8 256.0,216.2 256.5,215.6 257.1,215.0 257.6,214.5 258.2,214.1 258.9,213.6 259.5,213.3 260.2,212.9 260.9,212.6 261.6,212.3 262.3,212.1 263.0,211.9 263.8,211.8 264.5,211.6 265.2,211.6 266.0,211.6 266.8,211.6 267.5,211.6 268.2,211.8 269.0,211.9 269.7,212.1 270.4,212.3 271.1,212.6 271.8,212.9 272.5,213.3 273.1,213.6 273.8,214.1 274.4,214.5 274.9,215.0 275.5,215.6 276.0,216.2 276.5,216.8 276.9,217.4 277.3,218.1 277.7,218.7 278.1,219.3 278.5,219.9 278.8,220.5 279.2,221.1 279.5,221.7 279.9,222.2 280.2,222.8 280.5,223.3 280.8,223.8 281.1,224.4 281.4,224.9 281.7,225.4 282.0,225.9 282.3,226.3 282.6,226.8 282.9,227.3 283.2,227.8 283.5,228.3 283.8,228.8 284.1,229.2 284.4,229.7 284.6,230.2 284.9,230.7 285.2,231.1 285.5,231.6 285.8,232.1 286.1,232.6 286.4,233.1 286.7,233.6 287.0,234.1 287.3,234.6 287.6,235.1 287.9,235.6 288.2,236.2 288.6,236.7 288.9,237.3 289.3,237.9 289.6,238.4 290.0,239.0 290.3,239.7Z"/>
<path fill="rgb(178,255,0)" d="M290.1,240.3 290.5,240.9 290.9,241.6 291.3,242.3 291.7,243.0 292.0,243.7 292.3,244.5 292.5,245.2 292.7,246.0 292.8,246.7 292.8,247.5 292.8,248.2 292.8,249.0 292.7,249.8 292.6,250.5 292.4,251.2 292.1,251.9 291.8,252.6 291.5,253.3 291.2,254.0 290.7,254.6 290.3,255.2 289.8,255.8 289.3,256.3 288.7,256.8 288.2,257.3 287.5,257.7 286.9,258.1 286.2,258.5 285.5,258.8 284.8,259.1 284.1,259.4 283.3,259.6 282.6,259.7 281.8,259.8 281.0,259.9 280.2,259.9 279.5,259.9 278.7,259.9 278.0,259.9 277.3,259.9 276.7,259.9 276.0,259.9 275.4,259.9 274.7,259.9 274.1,259.9 273.5,259.9 272.9,259.9 272.4,259.9 271.8,259.9 271.3,259.9 270.7,259.9 270.2,259.9 269.6,259.9 269.1,259.9 268.6,259.9 268.1,259.9 267.5,259.9 267.0,259.9 266.5,259.9 266.0,259.9 265.5,259.9 265.0,259.9 264.5,259.9 263.9,259.9 263.4,259.9 262.9,259.9 262.4,259.9 261.8,259.9 261.3,259.9 260.7,259.9 260.2,259.9 259.6,259.9 259.1,259.9 258.5,259.9 257.9,259.9 257.3,259.9 256.6,259.9 256.0,259.9 255.3,259.9 254.7,259.9 254.0,259.9 253.3,259.9 252.5,259.9 251.8,259.9 251.0,259.9 250.2,259.8 249.4,259.7 248.7,259.6 247.9,259.4 247.2,259.1 246.5,258.8 245.8,258.5 245.1,258.1 244.5,257.7 243.8,257.3 243.3,256.8 242.7,256.3 242.2,255.8 241.7,255.2 241.3,254.6 240.8,254.0 240.5,253.3 240.2,252.6 239.9,251.9 239.6,251.2 239.4,250.5 239.3,249.8 239.2,249.0 239.2,248.2 239.2,247.5 239.2,246.7 239.3,246.0 239.5,245.2 239.7,244.5 240.0,243.7 240.3,243.0 240.7,242.3 241.1,241.6 241.5,240.9 241.9,240.3 242.2,239.7 242.6,239.1 242.9,238.5 243.3,237.9 243.6,237.4 244.0,236.8 244.3,236.3 244.6,235.7 244.9,235.2 245.2,234.7 245.5,234.2 245.8,233.7 246.1,233.3 246.4,232.8 246.7,232.3 247.0,231.8 247.2,231.3 247.5,230.9 247.8,230.4 248.1,230.0 248.4,229.5 248.6,229.0 248.9,228.6 249.2,228.1 249.5,227.6 249.8,227.2 250.0,226.7 250.3,226.2 250.6,225.7 250.9,225.2 251.2,224.7 251.5,224.2 251.8,223.7 252.1,223.2 252.5,222.7 252.8,222.1 253.1,221.6 253.5,221.0 253.8,220.4 254.2,219.8 254.5,219.2 254.9,218.6 255.3,217.9 255.8,217.3 256.2,216.7 256.7,216.1 257.2,215.6 257.8,215.1 258.4,214.6 259.0,214.2 259.6,213.8 260.3,213.5 261.0,213.1 261.7,212.9 262.4,212.6 263.1,212.5 263.8,212.3 264.5,212.2 265.3,212.1 266.0,212.1 266.7,212.1 267.5,212.2 268.2,212.3 268.9,212.5 269.6,212.6 270.3,212.9 271.0,213.1 271.7,213.5 272.4,213.8 273.0,214.2 273.6,214.6 274.2,215.1 274.8,215.6 275.3,216.1 275.8,216.7 276.2,217.3 276.7,217.9 277.1,218.6 277.5,219.2 277.8,219.8 278.2,220.4 278.5,221.0 278.9,221.6 279.2,222.1 279.5,222.7 279.9,223.2 280.2,223.7 280.5,224.2 280.8,224.7 281.1,225.2 281.4,225.7 281.7,226.2 282.0,226.7 282.2,227.2 282.5,227.6 282.8,228.1 283.1,228.6 283.4,229.0 283.6,229.5 283.9,230.0 284.2,230.4 284.5,230.9 284.8,231.3 285.0,231.8 285.3,232.3 285.6,232.8 285.9,233.3 286.2,233.7 286.5,234.2 286.8,234.7 287.1,235.2 287.4,235.7 287.7,236.3 288.0,236.8 288.4,237.4 288.7,237.9 289.1,238.5 289.4,239.1 289.8,239.7Z"/>
<path fill="rgb(204,255,0)" d="M289.6,240.3 289.9,240.9 290.3,241.6 290.7,242.2 291.1,242.9 291.4,243.6 291.7,244.4 291.9,245.1 292.1,245.8 292.2,246.6 292.2,247.3 292.2,248.1 292.2,248.8 292.1,249.5 292.0,250.3 291.8,251.0 291.6,251.7 291.3,252.4 291.0,253.0 290.6,253.7 290.2,254.3 289.8,254.9 289.3,255.4 288.8,255.9 288.2,256.4 287.6,256.9 287.0,257.3 286.4,257.7 285.7,258.1 285.1,258.4 284.4,258.7 283.6,258.9 282.9,259.1 282.1,259.2 281.4,259.3 280.6,259.3 279.9,259.4 279.1,259.4 278.4,259.4 277.7,259.4 277.0,259.4 276.4,259.4 275.7,259.4 275.1,259.4 274.5,259.4 273.9,259.4 273.3,259.4 272.8,259.4 272.2,259.4 271.7,259.4 271.1,259.4 270.6,259.4 270.1,259.4 269.5,259.4 269.0,259.4 268.5,259.4 268.0,259.4 267.5,259.4 267.0,259.4 266.5,259.4 266.0,259.4 265.5,259.4 265.0,259.4 264.5,259.4 264.0,259.4 263.5,259.4 263.0,259.4 262.5,259.4 261.9,259.4 261.4,259.4 260.9,259.4 260.3,259.4 259.8,259.4 259.2,259.4 258.7,259.4 258.1,259.4 257.5,259.4 256.9,259.4 256.3,259.4 255.6,259.4 255.0,259.4 254.3,259.4 253.6,259.4 252.9,259.4 252.1,259.4 251.4,259.3 250.6,259.3 249.9,259.2 249.1,259.1 248.4,258.9 247.6,258.7 246.9,258.4 246.3,258.1 245.6,257.7 245.0,257.3 244.4,256.9 243.8,256.4 243.2,255.9 242.7,255.4 242.2,254.9 241.8,254.3 241.4,253.7 241.0,253.0 240.7,252.4 240.4,251.7 240.2,251.0 240.0,250.3 239.9,249.5 239.8,248.8 239.8,248.1 239.8,247.3 239.8,246.6 239.9,245.8 240.1,245.1 240.3,244.4 240.6,243.6 240.9,242.9 241.3,242.2 241.7,241.6 242.1,240.9 242.4,240.3 242.8,239.7 243.2,239.1 243.5,238.5 243.8,238.0 244.2,237.4 244.5,236.9 244.8,236.4 245.1,235.9 245.4,235.4 245.7,234.9 246.0,234.4 246.3,233.9 246.6,233.4 246.9,232.9 247.1,232.5 247.4,232.0 247.7,231.6 248.0,231.1 248.2,230.7 248.5,230.2 248.8,229.7 249.1,229.3 249.3,228.8 249.6,228.4 249.9,227.9 250.2,227.5 250.4,227.0 250.7,226.5 251.0,226.1 251.3,225.6 251.6,225.1 251.9,224.6 252.2,224.1 252.5,223.6 252.8,223.1 253.1,222.6 253.4,222.0 253.8,221.5 254.1,220.9 254.5,220.3 254.8,219.7 255.2,219.1 255.6,218.5 256.0,217.8 256.4,217.2 256.9,216.7 257.4,216.1 258.0,215.6 258.6,215.2 259.2,214.7 259.8,214.4 260.4,214.0 261.1,213.7 261.7,213.4 262.4,213.2 263.1,213.0 263.8,212.9 264.6,212.8 265.3,212.7 266.0,212.7 266.7,212.7 267.4,212.8 268.2,212.9 268.9,213.0 269.6,213.2 270.3,213.4 270.9,213.7 271.6,214.0 272.2,214.4 272.8,214.7 273.4,215.2 274.0,215.6 274.6,216.1 275.1,216.7 275.6,217.2 276.0,217.8 276.4,218.5 276.8,219.1 277.2,219.7 277.5,220.3 277.9,220.9 278.2,221.5 278.6,222.0 278.9,222.6 279.2,223.1 279.5,223.6 279.8,224.1 280.1,224.6 280.4,225.1 280.7,225.6 281.0,226.1 281.3,226.5 281.6,227.0 281.8,227.5 282.1,227.9 282.4,228.4 282.7,228.8 282.9,229.3 283.2,229.7 283.5,230.2 283.8,230.7 284.0,231.1 284.3,231.6 284.6,232.0 284.9,232.5 285.1,232.9 285.4,233.4 285.7,233.9 286.0,234.4 286.3,234.9 286.6,235.4 286.9,235.9 287.2,236.4 287.5,236.9 287.8,237.4 288.2,238.0 288.5,238.5 288.8,239.1 289.2,239.7Z"/>
<path fill="rgb(230,255,0)" d="M289.0,240.3 289.4,240.9 289.7,241.5 290.1,242.2 290.5,242.9 290.8,243.6 291.1,244.3 291.3,245.0 291.5,245.7 291.6,246.4 291.6,247.2 291.6,247.9 291.6,248.6 291.5,249.3 291.4,250.0 291.2,250.7 291.0,251.4 290.7,252.1 290.4,252.7 290.0,253.4 289.6,253.9 289.2,254.5 288.7,255.1 288.2,255.6 287.7,256.1 287.1,256.5 286.5,256.9 285.9,257.3 285.3,257.6 284.6,257.9 283.9,258.2 283.2,258.4 282.5,258.6 281.7,258.7 281.0,258.8 280.2,258.8 279.5,258.8 278.7,258.8 278.0,258.8 277.4,258.8 276.7,258.8 276.1,258.8 275.4,258.8 274.8,258.8 274.3,258.8 273.7,258.8 273.1,258.8 272.6,258.8 272.0,258.8 271.5,258.8 271.0,258.8 270.5,258.8 269.9,258.8 269.4,258.8 268.9,258.8 268.4,258.8 267.9,258.8 267.5,258.8 267.0,258.8 266.5,258.8 266.0,258.8 265.5,258.8 265.0,258.8 264.5,258.8 264.1,258.8 263.6,258.8 263.1,258.8 262.6,258.8 262.1,258.8 261.5,258.8 261.0,258.8 260.5,258.8 260.0,258.8 259.4,258.8 258.9,258.8 258.3,258.8 257.7,258.8 257.2,258.8 256.6,258.8 255.9,258.8 255.3,258.8 254.6,258.8 254.0,258.8 253.3,258.8 252.5,258.8 251.8,258.8 251.0,258.8 250.3,258.7 249.5,258.6 248.8,258.4 248.1,258.2 247.4,257.9 246.7,257.6 246.1,257.3 245.5,256.9 244.9,256.5 244.3,256.1 243.8,255.6 243.3,255.1 242.8,254.5 242.4,253.9 242.0,253.4 241.6,252.7 241.3,252.1 241.0,251.4 240.8,250.7 240.6,250.0 240.5,249.3 240.4,248.6 240.4,247.9 240.4,247.2 240.4,246.4 240.5,245.7 240.7,245.0 240.9,244.3 241.2,243.6 241.5,242.9 241.9,242.2 242.3,241.5 242.6,240.9 243.0,240.3 243.4,239.7 243.7,239.1 244.0,238.6 244.4,238.0 244.7,237.5 245.0,237.0 245.3,236.5 245.6,236.0 245.9,235.5 246.2,235.0 246.5,234.5 246.8,234.1 247.0,233.6 247.3,233.1 247.6,232.7 247.9,232.2 248.1,231.8 248.4,231.3 248.7,230.9 248.9,230.4 249.2,230.0 249.5,229.6 249.7,229.1 250.0,228.7 250.3,228.2 250.5,227.8 250.8,227.3 251.1,226.9 251.4,226.4 251.6,225.9 251.9,225.5 252.2,225.0 252.5,224.5 252.8,224.0 253.1,223.5 253.4,223.0 253.7,222.5 254.1,221.9 254.4,221.4 254.7,220.8 255.1,220.2 255.5,219.6 255.8,219.0 256.2,218.4 256.7,217.8 257.1,217.2 257.6,216.7 258.2,216.2 258.7,215.7 259.3,215.3 259.9,214.9 260.5,214.6 261.2,214.3 261.8,214.0 262.5,213.8 263.2,213.6 263.9,213.4 264.6,213.3 265.3,213.3 266.0,213.2 266.7,213.3 267.4,213.3 268.1,213.4 268.8,213.6 269.5,213.8 270.2,214.0 270.8,214.3 271.5,214.6 272.1,214.9 272.7,215.3 273.3,215.7 273.8,216.2 274.4,216.7 274.9,217.2 275.3,217.8 275.8,218.4 276.2,219.0 276.5,219.6 276.9,220.2 277.3,220.8 277.6,221.4 277.9,221.9 278.3,222.5 278.6,223.0 278.9,223.5 279.2,224.0 279.5,224.5 279.8,225.0 280.1,225.5 280.4,225.9 280.6,226.4 280.9,226.9 281.2,227.3 281.5,227.8 281.7,228.2 282.0,228.7 282.3,229.1 282.5,229.6 282.8,230.0 283.1,230.4 283.3,230.9 283.6,231.3 283.9,231.8 284.1,232.2 284.4,232.7 284.7,233.1 285.0,233.6 285.2,234.1 285.5,234.5 285.8,235.0 286.1,235.5 286.4,236.0 286.7,236.5 287.0,237.0 287.3,237.5 287.6,238.0 288.0,238.6 288.3,239.1 288.6,239.7Z"/>
<path fill="rgb(255,255,0)" d="M288.4,240.3 288.8,240.9 289.1,241.5 289.5,242.2 289.9,242.8 290.2,243.5 290.5,244.2 290.7,244.9 290.9,245.6 291.0,246.3 291.0,247.0 291.0,247.7 291.0,248.4 290.9,249.1 290.8,249.8 290.6,250.5 290.4,251.2 290.1,251.8 289.8,252.4 289.5,253.0 289.1,253.6 288.7,254.2 288.2,254.7 287.7,255.2 287.2,255.7 286.6,256.1 286.0,256.5 285.4,256.9 284.8,257.2 284.1,257.5 283.4,257.7 282.7,257.9 282.0,258.1 281.3,258.2 280.6,258.3 279.8,258.3 279.1,258.3 278.4,258.3 277.7,258.3 277.0,258.3 276.4,258.3 275.8,258.3 275.2,258.3 274.6,258.3 274.0,258.3 273.5,258.3 272.9,258.3 272.4,258.3 271.8,258.3 271.3,258.3 270.8,258.3 270.3,258.3 269.8,258.3 269.3,258.3 268.9,258.3 268.4,258.3 267.9,258.3 267.4,258.3 266.9,258.3 266.5,258.3 266.0,258.3 265.5,258.3 265.1,258.3 264.6,258.3 264.1,258.3 263.6,258.3 263.1,258.3 262.7,258.3 262.2,258.3 261.7,258.3 261.2,258.3 260.7,258.3 260.2,258.3 259.6,258.3 259.1,258.3 258.5,258.3 258.0,258.3 257.4,258.3 256.8,258.3 256.2,258.3 255.6,258.3 255.0,258.3 254.3,258.3 253.6,258.3 252.9,258.3 252.2,258.3 251.4,258.3 250.7,258.2 250.0,258.1 249.3,257.9 248.6,257.7 247.9,257.5 247.2,257.2 246.6,256.9 246.0,256.5 245.4,256.1 244.8,255.7 244.3,255.2 243.8,254.7 243.3,254.2 242.9,253.6 242.5,253.0 242.2,252.4 241.9,251.8 241.6,251.2 241.4,250.5 241.2,249.8 241.1,249.1 241.0,248.4 241.0,247.7 241.0,247.0 241.0,246.3 241.1,245.6 241.3,244.9 241.5,244.2 241.8,243.5 242.1,242.8 242.5,242.2 242.9,241.5 243.2,240.9 243.6,240.3 243.9,239.7 244.3,239.2 244.6,238.6 244.9,238.1 245.2,237.6 245.5,237.1 245.8,236.6 246.1,236.1 246.4,235.6 246.7,235.1 247.0,234.7 247.3,234.2 247.5,233.8 247.8,233.3 248.1,232.9 248.3,232.4 248.6,232.0 248.8,231.6 249.1,231.1 249.4,230.7 249.6,230.3 249.9,229.8 250.1,229.4 250.4,229.0 250.7,228.5 250.9,228.1 251.2,227.7 251.5,227.2 251.7,226.8 252.0,226.3 252.3,225.8 252.6,225.4 252.9,224.9 253.1,224.4 253.4,223.9 253.7,223.4 254.1,222.9 254.4,222.4 254.7,221.8 255.0,221.3 255.4,220.7 255.7,220.1 256.1,219.5 256.5,218.9 256.9,218.3 257.3,217.7 257.8,217.2 258.3,216.7 258.9,216.3 259.4,215.8 260.0,215.5 260.6,215.1 261.3,214.8 261.9,214.5 262.6,214.3 263.2,214.1 263.9,214.0 264.6,213.9 265.3,213.8 266.0,213.8 266.7,213.8 267.4,213.9 268.1,214.0 268.8,214.1 269.4,214.3 270.1,214.5 270.7,214.8 271.4,215.1 272.0,215.5 272.6,215.8 273.1,216.3 273.7,216.7 274.2,217.2 274.7,217.7 275.1,218.3 275.5,218.9 275.9,219.5 276.3,220.1 276.6,220.7 277.0,221.3 277.3,221.8 277.6,222.4 277.9,222.9 278.3,223.4 278.6,223.9 278.9,224.4 279.1,224.9 279.4,225.4 279.7,225.8 280.0,226.3 280.3,226.8 280.5,227.2 280.8,227.7 281.1,228.1 281.3,228.5 281.6,229.0 281.9,229.4 282.1,229.8 282.4,230.3 282.6,230.7 282.9,231.1 283.2,231.6 283.4,232.0 283.7,232.4 283.9,232.9 284.2,233.3 284.5,233.8 284.7,234.2 285.0,234.7 285.3,235.1 285.6,235.6 285.9,236.1 286.2,236.6 286.5,237.1 286.8,237.6 287.1,238.1 287.4,238.6 287.7,239.2 288.1,239.7Z"/>
<path fill="rgb(255,247,0)" d="M287.8,240.3 288.1,240.9 288.5,241.5 288.9,242.1 289.2,242.7 289.5,243.4 289.8,244.1 290.0,244.8 290.2,245.4 290.3,246.1 290.4,246.8 290.5,247.6 290.5,248.3 290.4,248.9 290.3,249.6 290.2,250.3 290.0,251.0 289.7,251.6 289.4,252.2 289.1,252.9 288.7,253.4 288.3,254.0 287.9,254.5 287.4,255.0 286.8,255.4 286.3,255.8 285.7,256.2 285.0,256.6 284.4,256.9 283.7,257.1 283.1,257.4 282.4,257.5 281.7,257.7 280.9,257.8 280.2,257.8 279.5,257.9 278.8,257.9 278.1,257.9 277.4,257.9 276.8,257.9 276.1,257.9 275.5,257.9 275.0,257.9 274.4,257.9 273.8,257.9 273.3,257.9 272.7,257.9 272.2,257.9 271.7,257.8 271.2,257.8 270.7,257.8 270.2,257.8 269.7,257.8 269.2,257.8 268.8,257.8 268.3,257.8 267.8,257.8 267.4,257.8 266.9,257.7 266.5,257.7 266.0,257.7 265.5,257.7 265.1,257.7 264.6,257.8 264.2,257.8 263.7,257.8 263.2,257.8 262.8,257.8 262.3,257.8 261.8,257.8 261.3,257.8 260.8,257.8 260.3,257.8 259.8,257.9 259.3,257.9 258.7,257.9 258.2,257.9 257.6,257.9 257.0,257.9 256.5,257.9 255.9,257.9 255.2,257.9 254.6,257.9 253.9,257.9 253.2,257.9 252.5,257.9 251.8,257.8 251.1,257.8 250.3,257.7 249.6,257.5 248.9,257.4 248.3,257.1 247.6,256.9 247.0,256.6 246.3,256.2 245.7,255.8 245.2,255.4 244.6,255.0 244.1,254.5 243.7,254.0 243.3,253.4 242.9,252.9 242.6,252.2 242.3,251.6 242.0,251.0 241.8,250.3 241.7,249.6 241.6,248.9 241.5,248.3 241.5,247.6 241.6,246.8 241.7,246.1 241.8,245.4 242.0,244.8 242.2,244.1 242.5,243.4 242.8,242.7 243.1,242.1 243.5,241.5 243.9,240.9 244.2,240.3 244.6,239.7 244.9,239.2 245.2,238.7 245.5,238.1 245.8,237.6 246.1,237.2 246.4,236.7 246.7,236.2 247.0,235.7 247.3,235.3 247.6,234.8 247.9,234.4 248.1,234.0 248.4,233.5 248.7,233.1 248.9,232.7 249.2,232.3 249.5,231.9 249.7,231.5 250.0,231.0 250.2,230.6 250.4,230.2 250.7,229.8 250.9,229.4 251.2,228.9 251.4,228.5 251.7,228.1 251.9,227.6 252.2,227.2 252.4,226.7 252.7,226.3 253.0,225.8 253.2,225.4 253.5,224.9 253.8,224.4 254.1,223.9 254.4,223.4 254.7,222.9 255.0,222.4 255.3,221.8 255.7,221.3 256.0,220.7 256.4,220.1 256.7,219.5 257.1,218.9 257.6,218.4 258.0,217.8 258.5,217.4 259.1,216.9 259.6,216.5 260.2,216.1 260.8,215.7 261.4,215.4 262.0,215.1 262.7,214.9 263.3,214.7 264.0,214.5 264.6,214.4 265.3,214.3 266.0,214.3 266.7,214.3 267.4,214.4 268.0,214.5 268.7,214.7 269.3,214.9 270.0,215.1 270.6,215.4 271.2,215.7 271.8,216.1 272.4,216.5 272.9,216.9 273.5,217.4 274.0,217.8 274.4,218.4 274.9,218.9 275.3,219.5 275.6,220.1 276.0,220.7 276.3,221.3 276.7,221.8 277.0,222.4 277.3,222.9 277.6,223.4 277.9,223.9 278.2,224.4 278.5,224.9 278.8,225.4 279.0,225.8 279.3,226.3 279.6,226.7 279.8,227.2 280.1,227.6 280.3,228.1 280.6,228.5 280.8,228.9 281.1,229.4 281.3,229.8 281.6,230.2 281.8,230.6 282.0,231.0 282.3,231.5 282.5,231.9 282.8,232.3 283.1,232.7 283.3,233.1 283.6,233.5 283.9,234.0 284.1,234.4 284.4,234.8 284.7,235.3 285.0,235.7 285.3,236.2 285.6,236.7 285.9,237.2 286.2,237.6 286.5,238.1 286.8,238.7 287.1,239.2 287.4,239.7Z"/>
<path fill="rgb(255,235,0)" d="M287.1,240.3 287.5,240.9 287.8,241.4 288.2,242.0 288.5,242.7 288.8,243.3 289.1,244.0 289.4,244.6 289.6,245.3 289.7,246.0 289.8,246.7 289.9,247.4 289.9,248.1 289.9,248.8 289.9,249.5 289.7,250.1 289.6,250.8 289.3,251.4 289.1,252.1 288.8,252.7 288.4,253.2 288.0,253.8 287.5,254.3 287.0,254.7 286.5,255.2 285.9,255.6 285.3,255.9 284.7,256.2 284.0,256.5 283.4,256.8 282.7,257.0 282.0,257.1 281.3,257.3 280.6,257.4 279.9,257.4 279.1,257.4 278.4,257.4 277.8,257.4 277.1,257.4 276.5,257.4 275.9,257.4 275.3,257.4 274.7,257.4 274.2,257.4 273.6,257.4 273.1,257.4 272.6,257.4 272.1,257.4 271.6,257.4 271.1,257.4 270.6,257.4 270.1,257.3 269.6,257.3 269.1,257.3 268.7,257.3 268.2,257.2 267.8,257.2 267.3,257.2 266.9,257.2 266.4,257.2 266.0,257.2 265.6,257.2 265.1,257.2 264.7,257.2 264.2,257.2 263.8,257.2 263.3,257.3 262.9,257.3 262.4,257.3 261.9,257.3 261.4,257.4 260.9,257.4 260.4,257.4 259.9,257.4 259.4,257.4 258.9,257.4 258.4,257.4 257.8,257.4 257.3,257.4 256.7,257.4 256.1,257.4 255.5,257.4 254.9,257.4 254.2,257.4 253.6,257.4 252.9,257.4 252.1,257.4 251.4,257.4 250.7,257.3 250.0,257.1 249.3,257.0 248.6,256.8 248.0,256.5 247.3,256.2 246.7,255.9 246.1,255.6 245.5,255.2 245.0,254.7 244.5,254.3 244.0,253.8 243.6,253.2 243.2,252.7 242.9,252.1 242.7,251.4 242.4,250.8 242.3,250.1 242.1,249.5 242.1,248.8 242.1,248.1 242.1,247.4 242.2,246.7 242.3,246.0 242.4,245.3 242.6,244.6 242.9,244.0 243.2,243.3 243.5,242.7 243.8,242.0 244.2,241.4 244.5,240.9 244.9,240.3 245.2,239.8 245.5,239.2 245.8,238.7 246.1,238.2 246.4,237.7 246.7,237.2 247.0,236.8 247.3,236.3 247.6,235.9 247.9,235.5 248.2,235.0 248.5,234.6 248.8,234.2 249.0,233.8 249.3,233.4 249.6,233.0 249.8,232.6 250.1,232.2 250.3,231.8 250.5,231.4 250.8,231.0 251.0,230.6 251.2,230.1 251.5,229.7 251.7,229.3 251.9,228.9 252.1,228.5 252.4,228.0 252.6,227.6 252.8,227.1 253.1,226.7 253.4,226.3 253.6,225.8 253.9,225.3 254.2,224.9 254.4,224.4 254.7,223.9 255.0,223.4 255.3,222.9 255.7,222.4 256.0,221.9 256.3,221.3 256.7,220.7 257.0,220.1 257.4,219.6 257.8,219.0 258.3,218.5 258.8,218.0 259.3,217.5 259.8,217.1 260.3,216.7 260.9,216.3 261.5,216.0 262.1,215.7 262.7,215.4 263.4,215.2 264.0,215.1 264.7,214.9 265.3,214.9 266.0,214.8 266.7,214.9 267.3,214.9 268.0,215.1 268.6,215.2 269.3,215.4 269.9,215.7 270.5,216.0 271.1,216.3 271.7,216.7 272.2,217.1 272.7,217.5 273.2,218.0 273.7,218.5 274.2,219.0 274.6,219.6 275.0,220.1 275.3,220.7 275.7,221.3 276.0,221.9 276.3,222.4 276.7,222.9 277.0,223.4 277.3,223.9 277.6,224.4 277.8,224.9 278.1,225.3 278.4,225.8 278.6,226.3 278.9,226.7 279.2,227.1 279.4,227.6 279.6,228.0 279.9,228.5 280.1,228.9 280.3,229.3 280.5,229.7 280.8,230.1 281.0,230.6 281.2,231.0 281.5,231.4 281.7,231.8 281.9,232.2 282.2,232.6 282.4,233.0 282.7,233.4 283.0,233.8 283.2,234.2 283.5,234.6 283.8,235.0 284.1,235.5 284.4,235.9 284.7,236.3 285.0,236.8 285.3,237.2 285.6,237.7 285.9,238.2 286.2,238.7 286.5,239.2 286.8,239.8Z"/>
<path fill="rgb(255,219,0)" d="M286.5,240.3 286.8,240.8 287.2,241.4 287.5,242.0 287.9,242.6 288.2,243.2 288.5,243.9 288.7,244.5 288.9,245.2 289.1,245.8 289.2,246.5 289.3,247.2 289.4,247.9 289.4,248.6 289.4,249.3 289.3,249.9 289.1,250.6 288.9,251.2 288.7,251.9 288.4,252.5 288.0,253.0 287.6,253.5 287.2,254.0 286.7,254.5 286.1,254.9 285.5,255.3 284.9,255.6 284.3,255.9 283.6,256.2 283.0,256.4 282.3,256.6 281.6,256.7 280.9,256.9 280.2,256.9 279.5,257.0 278.8,257.0 278.1,257.0 277.5,257.0 276.8,257.0 276.2,257.0 275.6,257.0 275.1,257.0 274.5,257.0 274.0,257.0 273.4,257.0 272.9,257.0 272.4,257.0 271.9,257.0 271.4,256.9 270.9,256.9 270.4,256.9 270.0,256.8 269.5,256.8 269.1,256.8 268.6,256.7 268.2,256.7 267.7,256.7 267.3,256.7 266.9,256.6 266.4,256.6 266.0,256.6 265.6,256.6 265.1,256.6 264.7,256.7 264.3,256.7 263.8,256.7 263.4,256.7 262.9,256.8 262.5,256.8 262.0,256.8 261.6,256.9 261.1,256.9 260.6,256.9 260.1,257.0 259.6,257.0 259.1,257.0 258.6,257.0 258.0,257.0 257.5,257.0 256.9,257.0 256.4,257.0 255.8,257.0 255.2,257.0 254.5,257.0 253.9,257.0 253.2,257.0 252.5,257.0 251.8,256.9 251.1,256.9 250.4,256.7 249.7,256.6 249.0,256.4 248.4,256.2 247.7,255.9 247.1,255.6 246.5,255.3 245.9,254.9 245.3,254.5 244.8,254.0 244.4,253.5 244.0,253.0 243.6,252.5 243.3,251.9 243.1,251.2 242.9,250.6 242.7,249.9 242.6,249.3 242.6,248.6 242.6,247.9 242.7,247.2 242.8,246.5 242.9,245.8 243.1,245.2 243.3,244.5 243.5,243.9 243.8,243.2 244.1,242.6 244.5,242.0 244.8,241.4 245.2,240.8 245.5,240.3 245.8,239.8 246.1,239.3 246.4,238.8 246.7,238.3 247.0,237.8 247.3,237.3 247.6,236.9 247.9,236.5 248.2,236.0 248.5,235.6 248.8,235.2 249.1,234.8 249.4,234.4 249.7,234.0 249.9,233.6 250.2,233.3 250.4,232.9 250.7,232.5 250.9,232.1 251.1,231.7 251.3,231.3 251.6,230.9 251.8,230.5 252.0,230.1 252.2,229.7 252.4,229.3 252.6,228.9 252.8,228.4 253.0,228.0 253.3,227.6 253.5,227.1 253.7,226.7 254.0,226.2 254.3,225.8 254.5,225.3 254.8,224.9 255.1,224.4 255.4,223.9 255.7,223.4 256.0,222.9 256.3,222.4 256.6,221.9 257.0,221.3 257.3,220.8 257.7,220.2 258.1,219.7 258.5,219.1 259.0,218.6 259.4,218.2 259.9,217.7 260.5,217.3 261.0,216.9 261.6,216.6 262.2,216.3 262.8,216.0 263.4,215.8 264.1,215.6 264.7,215.5 265.3,215.4 266.0,215.4 266.7,215.4 267.3,215.5 267.9,215.6 268.6,215.8 269.2,216.0 269.8,216.3 270.4,216.6 271.0,216.9 271.5,217.3 272.1,217.7 272.6,218.2 273.0,218.6 273.5,219.1 273.9,219.7 274.3,220.2 274.7,220.8 275.0,221.3 275.4,221.9 275.7,222.4 276.0,222.9 276.3,223.4 276.6,223.9 276.9,224.4 277.2,224.9 277.5,225.3 277.7,225.8 278.0,226.2 278.3,226.7 278.5,227.1 278.7,227.6 279.0,228.0 279.2,228.4 279.4,228.9 279.6,229.3 279.8,229.7 280.0,230.1 280.2,230.5 280.4,230.9 280.7,231.3 280.9,231.7 281.1,232.1 281.3,232.5 281.6,232.9 281.8,233.3 282.1,233.6 282.3,234.0 282.6,234.4 282.9,234.8 283.2,235.2 283.5,235.6 283.8,236.0 284.1,236.5 284.4,236.9 284.7,237.3 285.0,237.8 285.3,238.3 285.6,238.8 285.9,239.3 286.2,239.8Z"/>
<path fill="rgb(255,201,0)" d="M285.9,240.3 286.2,240.8 286.5,241.4 286.8,241.9 287.2,242.5 287.5,243.1 287.8,243.7 288.0,244.4 288.3,245.0 288.5,245.7 288.6,246.4 288.8,247.0 288.9,247.7 288.9,248.4 288.9,249.1 288.8,249.8 288.7,250.4 288.6,251.1 288.3,251.7 288.0,252.3 287.7,252.8 287.3,253.3 286.8,253.8 286.3,254.3 285.8,254.7 285.2,255.0 284.6,255.3 283.9,255.6 283.3,255.8 282.6,256.1 281.9,256.2 281.2,256.3 280.5,256.4 279.8,256.5 279.2,256.5 278.5,256.6 277.8,256.6 277.2,256.6 276.6,256.6 276.0,256.6 275.4,256.6 274.8,256.6 274.3,256.6 273.8,256.6 273.2,256.6 272.7,256.5 272.2,256.5 271.7,256.5 271.3,256.5 270.8,256.4 270.3,256.4 269.9,256.4 269.4,256.3 269.0,256.3 268.5,256.2 268.1,256.2 267.7,256.1 267.2,256.1 266.8,256.1 266.4,256.1 266.0,256.1 265.6,256.1 265.2,256.1 264.8,256.1 264.3,256.1 263.9,256.2 263.5,256.2 263.0,256.3 262.6,256.3 262.1,256.4 261.7,256.4 261.2,256.4 260.7,256.5 260.3,256.5 259.8,256.5 259.3,256.5 258.8,256.6 258.2,256.6 257.7,256.6 257.2,256.6 256.6,256.6 256.0,256.6 255.4,256.6 254.8,256.6 254.2,256.6 253.5,256.6 252.8,256.5 252.2,256.5 251.5,256.4 250.8,256.3 250.1,256.2 249.4,256.1 248.7,255.8 248.1,255.6 247.4,255.3 246.8,255.0 246.2,254.7 245.7,254.3 245.2,253.8 244.7,253.3 244.3,252.8 244.0,252.3 243.7,251.7 243.4,251.1 243.3,250.4 243.2,249.8 243.1,249.1 243.1,248.4 243.1,247.7 243.2,247.0 243.4,246.4 243.5,245.7 243.7,245.0 244.0,244.4 244.2,243.7 244.5,243.1 244.8,242.5 245.2,241.9 245.5,241.4 245.8,240.8 246.1,240.3 246.5,239.8 246.8,239.3 247.0,238.8 247.3,238.3 247.6,237.9 247.9,237.4 248.2,237.0 248.5,236.6 248.8,236.2 249.1,235.8 249.4,235.4 249.7,235.0 250.0,234.6 250.3,234.3 250.5,233.9 250.8,233.5 251.0,233.2 251.3,232.8 251.5,232.4 251.7,232.1 251.9,231.7 252.1,231.3 252.3,230.9 252.5,230.5 252.7,230.1 252.9,229.7 253.1,229.3 253.3,228.8 253.5,228.4 253.7,228.0 253.9,227.6 254.1,227.1 254.4,226.7 254.6,226.3 254.9,225.8 255.2,225.4 255.4,224.9 255.7,224.4 256.0,224.0 256.3,223.5 256.6,223.0 256.9,222.5 257.2,221.9 257.6,221.4 257.9,220.8 258.3,220.3 258.7,219.8 259.2,219.3 259.6,218.8 260.1,218.3 260.6,217.9 261.2,217.5 261.7,217.1 262.3,216.8 262.9,216.5 263.5,216.3 264.1,216.1 264.7,216.0 265.4,215.9 266.0,215.9 266.6,215.9 267.3,216.0 267.9,216.1 268.5,216.3 269.1,216.5 269.7,216.8 270.3,217.1 270.8,217.5 271.4,217.9 271.9,218.3 272.4,218.8 272.8,219.3 273.3,219.8 273.7,220.3 274.1,220.8 274.4,221.4 274.8,221.9 275.1,222.5 275.4,223.0 275.7,223.5 276.0,224.0 276.3,224.4 276.6,224.9 276.8,225.4 277.1,225.8 277.4,226.3 277.6,226.7 277.9,227.1 278.1,227.6 278.3,228.0 278.5,228.4 278.7,228.8 278.9,229.3 279.1,229.7 279.3,230.1 279.5,230.5 279.7,230.9 279.9,231.3 280.1,231.7 280.3,232.1 280.5,232.4 280.7,232.8 281.0,233.2 281.2,233.5 281.5,233.9 281.7,234.3 282.0,234.6 282.3,235.0 282.6,235.4 282.9,235.8 283.2,236.2 283.5,236.6 283.8,237.0 284.1,237.4 284.4,237.9 284.7,238.3 285.0,238.8 285.2,239.3 285.5,239.8Z"/>
<path fill="rgb(255,181,0)" d="M285.2,240.3 285.5,240.8 285.8,241.3 286.2,241.9 286.5,242.5 286.8,243.0 287.1,243.6 287.4,244.3 287.6,244.9 287.9,245.5 288.1,246.2 288.2,246.9 288.3,247.6 288.4,248.2 288.4,248.9 288.4,249.6 288.3,250.2 288.2,250.9 287.9,251.5 287.7,252.1 287.3,252.6 286.9,253.1 286.5,253.6 286.0,254.0 285.4,254.4 284.8,254.7 284.2,255.0 283.6,255.3 282.9,255.5 282.2,255.7 281.5,255.8 280.8,255.9 280.2,256.0 279.5,256.1 278.8,256.1 278.1,256.1 277.5,256.1 276.9,256.1 276.3,256.1 275.7,256.1 275.1,256.1 274.6,256.1 274.1,256.1 273.6,256.1 273.0,256.1 272.5,256.1 272.1,256.1 271.6,256.1 271.1,256.0 270.6,256.0 270.2,255.9 269.7,255.9 269.3,255.8 268.9,255.8 268.4,255.7 268.0,255.6 267.6,255.6 267.2,255.6 266.8,255.5 266.4,255.5 266.0,255.5 265.6,255.5 265.2,255.5 264.8,255.6 264.4,255.6 264.0,255.6 263.6,255.7 263.1,255.8 262.7,255.8 262.3,255.9 261.8,255.9 261.4,256.0 260.9,256.0 260.4,256.1 259.9,256.1 259.5,256.1 259.0,256.1 258.4,256.1 257.9,256.1 257.4,256.1 256.9,256.1 256.3,256.1 255.7,256.1 255.1,256.1 254.5,256.1 253.9,256.1 253.2,256.1 252.5,256.1 251.8,256.0 251.2,255.9 250.5,255.8 249.8,255.7 249.1,255.5 248.4,255.3 247.8,255.0 247.2,254.7 246.6,254.4 246.0,254.0 245.5,253.6 245.1,253.1 244.7,252.6 244.3,252.1 244.1,251.5 243.8,250.9 243.7,250.2 243.6,249.6 243.6,248.9 243.6,248.2 243.7,247.6 243.8,246.9 243.9,246.2 244.1,245.5 244.4,244.9 244.6,244.3 244.9,243.6 245.2,243.0 245.5,242.5 245.8,241.9 246.2,241.3 246.5,240.8 246.8,240.3 247.1,239.8 247.4,239.3 247.7,238.9 247.9,238.4 248.2,238.0 248.5,237.5 248.8,237.1 249.1,236.7 249.4,236.3 249.7,235.9 250.0,235.6 250.3,235.2 250.6,234.9 250.9,234.5 251.2,234.2 251.4,233.8 251.7,233.5 251.9,233.1 252.1,232.8 252.3,232.4 252.5,232.0 252.7,231.6 252.8,231.3 253.0,230.9 253.2,230.5 253.4,230.1 253.5,229.7 253.7,229.2 253.9,228.8 254.1,228.4 254.3,228.0 254.5,227.6 254.8,227.1 255.0,226.7 255.2,226.3 255.5,225.9 255.8,225.4 256.0,225.0 256.3,224.5 256.6,224.0 256.9,223.6 257.2,223.0 257.5,222.5 257.8,222.0 258.2,221.5 258.6,220.9 259.0,220.4 259.4,219.9 259.8,219.4 260.3,219.0 260.8,218.5 261.3,218.1 261.8,217.7 262.4,217.4 262.9,217.1 263.5,216.9 264.1,216.7 264.8,216.5 265.4,216.4 266.0,216.4 266.6,216.4 267.2,216.5 267.9,216.7 268.5,216.9 269.1,217.1 269.6,217.4 270.2,217.7 270.7,218.1 271.2,218.5 271.7,219.0 272.2,219.4 272.6,219.9 273.0,220.4 273.4,220.9 273.8,221.5 274.2,222.0 274.5,222.5 274.8,223.0 275.1,223.6 275.4,224.0 275.7,224.5 276.0,225.0 276.2,225.4 276.5,225.9 276.8,226.3 277.0,226.7 277.2,227.1 277.5,227.6 277.7,228.0 277.9,228.4 278.1,228.8 278.3,229.2 278.5,229.7 278.6,230.1 278.8,230.5 279.0,230.9 279.2,231.3 279.3,231.6 279.5,232.0 279.7,232.4 279.9,232.8 280.1,233.1 280.3,233.5 280.6,233.8 280.8,234.2 281.1,234.5 281.4,234.9 281.7,235.2 282.0,235.6 282.3,235.9 282.6,236.3 282.9,236.7 283.2,237.1 283.5,237.5 283.8,238.0 284.1,238.4 284.3,238.9 284.6,239.3 284.9,239.8Z"/>
<path fill="rgb(255,160,0)" d="M284.6,240.3 284.9,240.8 285.2,241.3 285.5,241.8 285.8,242.4 286.1,242.9 286.4,243.5 286.7,244.1 287.0,244.8 287.2,245.4 287.5,246.0 287.6,246.7 287.8,247.4 287.9,248.1 288.0,248.7 288.0,249.4 287.9,250.0 287.8,250.7 287.6,251.3 287.3,251.9 287.0,252.4 286.6,252.9 286.1,253.4 285.6,253.8 285.1,254.1 284.5,254.5 283.8,254.7 283.2,255.0 282.5,255.2 281.8,255.3 281.2,255.5 280.5,255.5 279.8,255.6 279.1,255.7 278.5,255.7 277.8,255.7 277.2,255.7 276.6,255.7 276.0,255.7 275.4,255.7 274.9,255.7 274.4,255.7 273.8,255.7 273.3,255.7 272.9,255.7 272.4,255.7 271.9,255.6 271.4,255.6 271.0,255.6 270.5,255.5 270.1,255.5 269.6,255.4 269.2,255.3 268.8,255.2 268.4,255.2 267.9,255.1 267.6,255.0 267.2,255.0 266.8,255.0 266.4,254.9 266.0,254.9 265.6,254.9 265.2,255.0 264.8,255.0 264.4,255.0 264.1,255.1 263.6,255.2 263.2,255.2 262.8,255.3 262.4,255.4 261.9,255.5 261.5,255.5 261.0,255.6 260.6,255.6 260.1,255.6 259.6,255.7 259.1,255.7 258.7,255.7 258.2,255.7 257.6,255.7 257.1,255.7 256.6,255.7 256.0,255.7 255.4,255.7 254.8,255.7 254.2,255.7 253.5,255.7 252.9,255.7 252.2,255.6 251.5,255.5 250.8,255.5 250.2,255.3 249.5,255.2 248.8,255.0 248.2,254.7 247.5,254.5 246.9,254.1 246.4,253.8 245.9,253.4 245.4,252.9 245.0,252.4 244.7,251.9 244.4,251.3 244.2,250.7 244.1,250.0 244.0,249.4 244.0,248.7 244.1,248.1 244.2,247.4 244.4,246.7 244.5,246.0 244.8,245.4 245.0,244.8 245.3,244.1 245.6,243.5 245.9,242.9 246.2,242.4 246.5,241.8 246.8,241.3 247.1,240.8 247.4,240.3 247.7,239.8 248.0,239.4 248.3,238.9 248.6,238.5 248.8,238.0 249.1,237.6 249.4,237.2 249.7,236.8 250.0,236.5 250.3,236.1 250.6,235.8 250.9,235.4 251.2,235.1 251.5,234.7 251.8,234.4 252.0,234.1 252.3,233.8 252.5,233.4 252.7,233.1 252.9,232.7 253.1,232.4 253.2,232.0 253.4,231.6 253.5,231.2 253.7,230.9 253.8,230.5 254.0,230.1 254.2,229.6 254.3,229.2 254.5,228.8 254.7,228.4 254.9,228.0 255.1,227.6 255.4,227.2 255.6,226.8 255.9,226.3 256.1,225.9 256.4,225.5 256.6,225.0 256.9,224.6 257.2,224.1 257.5,223.6 257.8,223.1 258.1,222.6 258.5,222.1 258.8,221.6 259.2,221.1 259.6,220.5 260.0,220.1 260.4,219.6 260.9,219.1 261.4,218.7 261.9,218.3 262.5,218.0 263.0,217.7 263.6,217.4 264.2,217.2 264.8,217.0 265.4,216.9 266.0,216.9 266.6,216.9 267.2,217.0 267.8,217.2 268.4,217.4 269.0,217.7 269.5,218.0 270.1,218.3 270.6,218.7 271.1,219.1 271.6,219.6 272.0,220.1 272.4,220.5 272.8,221.1 273.2,221.6 273.5,222.1 273.9,222.6 274.2,223.1 274.5,223.6 274.8,224.1 275.1,224.6 275.4,225.0 275.6,225.5 275.9,225.9 276.1,226.3 276.4,226.8 276.6,227.2 276.9,227.6 277.1,228.0 277.3,228.4 277.5,228.8 277.7,229.2 277.8,229.6 278.0,230.1 278.2,230.5 278.3,230.9 278.5,231.2 278.6,231.6 278.8,232.0 278.9,232.4 279.1,232.7 279.3,233.1 279.5,233.4 279.7,233.8 280.0,234.1 280.2,234.4 280.5,234.7 280.8,235.1 281.1,235.4 281.4,235.8 281.7,236.1 282.0,236.5 282.3,236.8 282.6,237.2 282.9,237.6 283.2,238.0 283.4,238.5 283.7,238.9 284.0,239.4 284.3,239.8Z"/>
<path fill="rgb(255,137,0)" d="M283.9,240.3 284.2,240.8 284.5,241.3 284.8,241.8 285.1,242.3 285.4,242.9 285.7,243.4 286.0,244.0 286.3,244.6 286.6,245.2 286.9,245.9 287.1,246.5 287.3,247.2 287.4,247.9 287.5,248.5 287.5,249.2 287.5,249.9 287.4,250.5 287.2,251.1 286.9,251.7 286.6,252.2 286.2,252.7 285.8,253.1 285.3,253.5 284.7,253.9 284.1,254.2 283.5,254.4 282.8,254.7 282.1,254.8 281.5,255.0 280.8,255.1 280.1,255.2 279.4,255.2 278.8,255.2 278.1,255.3 277.5,255.3 276.9,255.3 276.3,255.2 275.7,255.3 275.2,255.3 274.6,255.3 274.1,255.3 273.6,255.3 273.1,255.3 272.7,255.3 272.2,255.2 271.7,255.2 271.3,255.2 270.8,255.1 270.4,255.1 269.9,255.0 269.5,254.9 269.1,254.8 268.7,254.7 268.3,254.7 267.9,254.6 267.5,254.5 267.1,254.5 266.7,254.4 266.4,254.4 266.0,254.4 265.6,254.4 265.3,254.4 264.9,254.5 264.5,254.5 264.1,254.6 263.7,254.7 263.3,254.7 262.9,254.8 262.5,254.9 262.1,255.0 261.6,255.1 261.2,255.1 260.7,255.2 260.3,255.2 259.8,255.2 259.3,255.3 258.9,255.3 258.4,255.3 257.9,255.3 257.4,255.3 256.8,255.3 256.3,255.3 255.7,255.2 255.1,255.3 254.5,255.3 253.9,255.3 253.2,255.2 252.6,255.2 251.9,255.2 251.2,255.1 250.5,255.0 249.9,254.8 249.2,254.7 248.5,254.4 247.9,254.2 247.3,253.9 246.7,253.5 246.2,253.1 245.8,252.7 245.4,252.2 245.1,251.7 244.8,251.1 244.6,250.5 244.5,249.9 244.5,249.2 244.5,248.5 244.6,247.9 244.7,247.2 244.9,246.5 245.1,245.9 245.4,245.2 245.7,244.6 246.0,244.0 246.3,243.4 246.6,242.9 246.9,242.3 247.2,241.8 247.5,241.3 247.8,240.8 248.1,240.3 248.3,239.8 248.6,239.4 248.9,239.0 249.2,238.5 249.4,238.1 249.7,237.7 250.0,237.3 250.3,237.0 250.6,236.6 250.9,236.3 251.3,235.9 251.6,235.6 251.9,235.3 252.1,235.0 252.4,234.7 252.7,234.4 252.9,234.0 253.1,233.7 253.3,233.4 253.5,233.1 253.6,232.7 253.8,232.4 253.9,232.0 254.1,231.6 254.2,231.2 254.3,230.9 254.5,230.5 254.6,230.1 254.8,229.6 254.9,229.2 255.1,228.8 255.3,228.4 255.5,228.0 255.7,227.6 256.0,227.2 256.2,226.8 256.5,226.4 256.7,226.0 257.0,225.6 257.2,225.1 257.5,224.7 257.8,224.2 258.1,223.7 258.4,223.2 258.7,222.7 259.1,222.2 259.4,221.7 259.8,221.2 260.2,220.7 260.6,220.2 261.1,219.7 261.5,219.3 262.0,218.9 262.6,218.5 263.1,218.2 263.6,217.9 264.2,217.7 264.8,217.6 265.4,217.5 266.0,217.4 266.6,217.5 267.2,217.6 267.8,217.7 268.4,217.9 268.9,218.2 269.4,218.5 270.0,218.9 270.5,219.3 270.9,219.7 271.4,220.2 271.8,220.7 272.2,221.2 272.6,221.7 272.9,222.2 273.3,222.7 273.6,223.2 273.9,223.7 274.2,224.2 274.5,224.7 274.8,225.1 275.0,225.6 275.3,226.0 275.5,226.4 275.8,226.8 276.0,227.2 276.3,227.6 276.5,228.0 276.7,228.4 276.9,228.8 277.1,229.2 277.2,229.6 277.4,230.1 277.5,230.5 277.7,230.9 277.8,231.2 277.9,231.6 278.1,232.0 278.2,232.4 278.4,232.7 278.5,233.1 278.7,233.4 278.9,233.7 279.1,234.0 279.3,234.4 279.6,234.7 279.9,235.0 280.1,235.3 280.4,235.6 280.7,235.9 281.1,236.3 281.4,236.6 281.7,237.0 282.0,237.3 282.3,237.7 282.6,238.1 282.8,238.5 283.1,239.0 283.4,239.4 283.7,239.8Z"/>
<path fill="rgb(255,112,0)" d="M283.3,240.3 283.6,240.8 283.9,241.2 284.1,241.7 284.5,242.2 284.8,242.8 285.1,243.3 285.4,243.9 285.7,244.5 286.0,245.1 286.3,245.7 286.5,246.4 286.7,247.0 286.9,247.7 287.0,248.4 287.1,249.0 287.1,249.7 287.0,250.3 286.8,250.9 286.6,251.5 286.3,252.0 285.9,252.5 285.4,252.9 284.9,253.3 284.3,253.6 283.7,253.9 283.1,254.1 282.4,254.3 281.8,254.5 281.1,254.6 280.4,254.7 279.7,254.8 279.0,254.8 278.4,254.8 277.8,254.8 277.1,254.8 276.5,254.8 276.0,254.8 275.4,254.8 274.9,254.8 274.4,254.8 273.9,254.8 273.4,254.8 272.9,254.8 272.5,254.8 272.0,254.8 271.6,254.8 271.1,254.7 270.7,254.7 270.2,254.6 269.8,254.5 269.4,254.4 269.0,254.3 268.6,254.2 268.2,254.1 267.8,254.0 267.4,254.0 267.1,253.9 266.7,253.9 266.4,253.8 266.0,253.8 265.6,253.8 265.3,253.9 264.9,253.9 264.6,254.0 264.2,254.0 263.8,254.1 263.4,254.2 263.0,254.3 262.6,254.4 262.2,254.5 261.8,254.6 261.3,254.7 260.9,254.7 260.4,254.8 260.0,254.8 259.5,254.8 259.1,254.8 258.6,254.8 258.1,254.8 257.6,254.8 257.1,254.8 256.6,254.8 256.0,254.8 255.5,254.8 254.9,254.8 254.2,254.8 253.6,254.8 253.0,254.8 252.3,254.8 251.6,254.7 250.9,254.6 250.2,254.5 249.6,254.3 248.9,254.1 248.3,253.9 247.7,253.6 247.1,253.3 246.6,252.9 246.1,252.5 245.7,252.0 245.4,251.5 245.2,250.9 245.0,250.3 244.9,249.7 244.9,249.0 245.0,248.4 245.1,247.7 245.3,247.0 245.5,246.4 245.7,245.7 246.0,245.1 246.3,244.5 246.6,243.9 246.9,243.3 247.2,242.8 247.5,242.2 247.9,241.7 248.1,241.2 248.4,240.8 248.7,240.3 249.0,239.9 249.2,239.4 249.5,239.0 249.8,238.6 250.0,238.2 250.3,237.8 250.6,237.4 250.9,237.1 251.2,236.8 251.6,236.4 251.9,236.1 252.2,235.8 252.5,235.5 252.8,235.2 253.0,234.9 253.3,234.6 253.5,234.3 253.7,234.0 253.9,233.7 254.1,233.4 254.2,233.1 254.3,232.7 254.5,232.4 254.6,232.0 254.7,231.6 254.8,231.2 254.9,230.9 255.1,230.5 255.2,230.1 255.4,229.7 255.5,229.3 255.7,228.9 255.9,228.5 256.1,228.1 256.3,227.7 256.6,227.3 256.8,226.9 257.0,226.5 257.3,226.1 257.6,225.7 257.8,225.2 258.1,224.8 258.4,224.3 258.7,223.8 259.0,223.3 259.3,222.8 259.6,222.3 260.0,221.8 260.4,221.3 260.8,220.8 261.2,220.4 261.7,219.9 262.1,219.5 262.6,219.1 263.2,218.8 263.7,218.5 264.3,218.3 264.8,218.1 265.4,218.0 266.0,218.0 266.6,218.0 267.2,218.1 267.7,218.3 268.3,218.5 268.8,218.8 269.4,219.1 269.9,219.5 270.3,219.9 270.8,220.4 271.2,220.8 271.6,221.3 272.0,221.8 272.4,222.3 272.7,222.8 273.0,223.3 273.3,223.8 273.6,224.3 273.9,224.8 274.2,225.2 274.4,225.7 274.7,226.1 275.0,226.5 275.2,226.9 275.4,227.3 275.7,227.7 275.9,228.1 276.1,228.5 276.3,228.9 276.5,229.3 276.6,229.7 276.8,230.1 276.9,230.5 277.1,230.9 277.2,231.2 277.3,231.6 277.4,232.0 277.5,232.4 277.7,232.7 277.8,233.1 277.9,233.4 278.1,233.7 278.3,234.0 278.5,234.3 278.7,234.6 279.0,234.9 279.2,235.2 279.5,235.5 279.8,235.8 280.1,236.1 280.4,236.4 280.8,236.8 281.1,237.1 281.4,237.4 281.7,237.8 282.0,238.2 282.2,238.6 282.5,239.0 282.8,239.4 283.0,239.9Z"/>
<path fill="rgb(255,87,0)" d="M282.7,240.3 282.9,240.7 283.2,241.2 283.5,241.7 283.8,242.2 284.1,242.7 284.4,243.2 284.7,243.8 285.0,244.3 285.4,244.9 285.7,245.6 285.9,246.2 286.2,246.9 286.4,247.5 286.5,248.2 286.6,248.8 286.6,249.5 286.6,250.1 286.4,250.7 286.2,251.3 285.9,251.8 285.5,252.3 285.1,252.7 284.6,253.1 284.0,253.4 283.4,253.6 282.7,253.9 282.1,254.0 281.4,254.2 280.7,254.2 280.0,254.3 279.3,254.4 278.7,254.4 278.0,254.4 277.4,254.4 276.8,254.4 276.2,254.4 275.7,254.4 275.1,254.4 274.6,254.4 274.1,254.4 273.7,254.4 273.2,254.4 272.7,254.4 272.3,254.4 271.8,254.4 271.4,254.3 270.9,254.3 270.5,254.2 270.1,254.1 269.7,254.0 269.3,253.9 268.9,253.8 268.5,253.7 268.1,253.6 267.7,253.5 267.4,253.4 267.0,253.4 266.7,253.3 266.3,253.3 266.0,253.3 265.7,253.3 265.3,253.3 265.0,253.4 264.6,253.4 264.3,253.5 263.9,253.6 263.5,253.7 263.1,253.8 262.7,253.9 262.3,254.0 261.9,254.1 261.5,254.2 261.1,254.3 260.6,254.3 260.2,254.4 259.7,254.4 259.3,254.4 258.8,254.4 258.3,254.4 257.9,254.4 257.4,254.4 256.9,254.4 256.3,254.4 255.8,254.4 255.2,254.4 254.6,254.4 254.0,254.4 253.3,254.4 252.7,254.4 252.0,254.3 251.3,254.2 250.6,254.2 249.9,254.0 249.3,253.9 248.6,253.6 248.0,253.4 247.4,253.1 246.9,252.7 246.5,252.3 246.1,251.8 245.8,251.3 245.6,250.7 245.4,250.1 245.4,249.5 245.4,248.8 245.5,248.2 245.6,247.5 245.8,246.9 246.1,246.2 246.3,245.6 246.6,244.9 247.0,244.3 247.3,243.8 247.6,243.2 247.9,242.7 248.2,242.2 248.5,241.7 248.8,241.2 249.1,240.7 249.3,240.3 249.6,239.9 249.8,239.5 250.1,239.0 250.4,238.7 250.6,238.3 250.9,237.9 251.2,237.6 251.5,237.2 251.8,236.9 252.2,236.6 252.5,236.3 252.8,236.0 253.1,235.7 253.4,235.5 253.7,235.2 253.9,234.9 254.1,234.6 254.3,234.4 254.5,234.1 254.7,233.7 254.8,233.4 254.9,233.1 255.0,232.7 255.1,232.4 255.2,232.0 255.3,231.6 255.4,231.3 255.5,230.9 255.6,230.5 255.8,230.1 255.9,229.7 256.1,229.3 256.3,228.9 256.5,228.5 256.7,228.2 256.9,227.8 257.1,227.4 257.4,227.0 257.6,226.6 257.9,226.2 258.1,225.8 258.4,225.4 258.7,224.9 258.9,224.5 259.2,224.0 259.5,223.5 259.9,223.0 260.2,222.5 260.6,222.0 261.0,221.5 261.4,221.0 261.8,220.5 262.3,220.1 262.7,219.7 263.2,219.3 263.8,219.0 264.3,218.8 264.9,218.6 265.4,218.5 266.0,218.5 266.6,218.5 267.1,218.6 267.7,218.8 268.2,219.0 268.8,219.3 269.3,219.7 269.7,220.1 270.2,220.5 270.6,221.0 271.0,221.5 271.4,222.0 271.8,222.5 272.1,223.0 272.5,223.5 272.8,224.0 273.1,224.5 273.3,224.9 273.6,225.4 273.9,225.8 274.1,226.2 274.4,226.6 274.6,227.0 274.9,227.4 275.1,227.8 275.3,228.2 275.5,228.5 275.7,228.9 275.9,229.3 276.1,229.7 276.2,230.1 276.4,230.5 276.5,230.9 276.6,231.3 276.7,231.6 276.8,232.0 276.9,232.4 277.0,232.7 277.1,233.1 277.2,233.4 277.3,233.7 277.5,234.1 277.7,234.4 277.9,234.6 278.1,234.9 278.3,235.2 278.6,235.5 278.9,235.7 279.2,236.0 279.5,236.3 279.8,236.6 280.2,236.9 280.5,237.2 280.8,237.6 281.1,237.9 281.4,238.3 281.6,238.7 281.9,239.0 282.2,239.5 282.4,239.9Z"/>
<path fill="rgb(255,60,0)" d="M282.0,240.3 282.3,240.7 282.5,241.2 282.8,241.6 283.1,242.1 283.4,242.6 283.7,243.1 284.1,243.6 284.4,244.2 284.7,244.8 285.1,245.4 285.4,246.0 285.7,246.7 285.9,247.3 286.1,248.0 286.2,248.7 286.2,249.3 286.2,249.9 286.0,250.5 285.8,251.1 285.5,251.6 285.2,252.0 284.7,252.5 284.2,252.8 283.6,253.1 283.0,253.4 282.4,253.6 281.7,253.7 281.0,253.8 280.3,253.9 279.6,253.9 279.0,254.0 278.3,254.0 277.7,254.0 277.1,254.0 276.5,253.9 275.9,253.9 275.4,253.9 274.9,253.9 274.4,254.0 273.9,254.0 273.4,254.0 273.0,254.0 272.5,254.0 272.1,253.9 271.6,253.9 271.2,253.9 270.8,253.8 270.4,253.7 270.0,253.7 269.6,253.6 269.2,253.4 268.8,253.3 268.4,253.2 268.0,253.1 267.7,253.0 267.3,252.9 267.0,252.8 266.7,252.7 266.3,252.7 266.0,252.7 265.7,252.7 265.3,252.7 265.0,252.8 264.7,252.9 264.3,253.0 264.0,253.1 263.6,253.2 263.2,253.3 262.8,253.4 262.4,253.6 262.0,253.7 261.6,253.7 261.2,253.8 260.8,253.9 260.4,253.9 259.9,253.9 259.5,254.0 259.0,254.0 258.6,254.0 258.1,254.0 257.6,254.0 257.1,253.9 256.6,253.9 256.1,253.9 255.5,253.9 254.9,254.0 254.3,254.0 253.7,254.0 253.0,254.0 252.4,253.9 251.7,253.9 251.0,253.8 250.3,253.7 249.6,253.6 249.0,253.4 248.4,253.1 247.8,252.8 247.3,252.5 246.8,252.0 246.5,251.6 246.2,251.1 246.0,250.5 245.8,249.9 245.8,249.3 245.8,248.7 245.9,248.0 246.1,247.3 246.3,246.7 246.6,246.0 246.9,245.4 247.3,244.8 247.6,244.2 247.9,243.6 248.3,243.1 248.6,242.6 248.9,242.1 249.2,241.6 249.5,241.2 249.7,240.7 250.0,240.3 250.2,239.9 250.5,239.5 250.7,239.1 251.0,238.7 251.2,238.4 251.5,238.0 251.8,237.7 252.1,237.4 252.4,237.0 252.8,236.8 253.1,236.5 253.4,236.2 253.7,235.9 254.0,235.7 254.3,235.4 254.5,235.2 254.7,234.9 254.9,234.7 255.1,234.4 255.2,234.1 255.4,233.8 255.5,233.5 255.6,233.1 255.6,232.8 255.7,232.4 255.8,232.0 255.9,231.7 256.0,231.3 256.1,230.9 256.2,230.5 256.3,230.1 256.5,229.7 256.7,229.4 256.9,229.0 257.1,228.6 257.3,228.3 257.5,227.9 257.7,227.5 258.0,227.2 258.2,226.8 258.4,226.4 258.7,226.0 259.0,225.5 259.2,225.1 259.5,224.6 259.8,224.1 260.1,223.6 260.4,223.1 260.8,222.6 261.1,222.1 261.5,221.6 261.9,221.1 262.4,220.7 262.8,220.2 263.3,219.9 263.8,219.6 264.3,219.3 264.9,219.1 265.4,219.0 266.0,219.0 266.6,219.0 267.1,219.1 267.7,219.3 268.2,219.6 268.7,219.9 269.2,220.2 269.6,220.7 270.1,221.1 270.5,221.6 270.9,222.1 271.2,222.6 271.6,223.1 271.9,223.6 272.2,224.1 272.5,224.6 272.8,225.1 273.0,225.5 273.3,226.0 273.6,226.4 273.8,226.8 274.0,227.2 274.3,227.5 274.5,227.9 274.7,228.3 274.9,228.6 275.1,229.0 275.3,229.4 275.5,229.7 275.7,230.1 275.8,230.5 275.9,230.9 276.0,231.3 276.1,231.7 276.2,232.0 276.3,232.4 276.4,232.8 276.4,233.1 276.5,233.5 276.6,233.8 276.8,234.1 276.9,234.4 277.1,234.7 277.3,234.9 277.5,235.2 277.7,235.4 278.0,235.7 278.3,235.9 278.6,236.2 278.9,236.5 279.2,236.8 279.6,237.0 279.9,237.4 280.2,237.7 280.5,238.0 280.8,238.4 281.0,238.7 281.3,239.1 281.5,239.5 281.8,239.9Z"/>
<path fill="rgb(255,48,0)" d="M280.9,240.3 281.2,240.7 281.5,241.1 281.8,241.5 282.2,242.0 282.5,242.5 282.9,243.0 283.3,243.5 283.7,244.1 284.1,244.7 284.5,245.3 284.9,245.9 285.2,246.5 285.5,247.2 285.7,247.9 285.8,248.5 285.9,249.1 285.8,249.8 285.7,250.4 285.5,250.9 285.2,251.4 284.9,251.9 284.4,252.3 283.9,252.6 283.3,252.9 282.7,253.1 282.0,253.3 281.4,253.4 280.7,253.5 280.0,253.5 279.2,253.5 278.6,253.5 277.9,253.5 277.2,253.4 276.6,253.4 276.0,253.3 275.4,253.3 274.9,253.2 274.3,253.2 273.9,253.1 273.4,253.1 272.9,253.0 272.5,253.0 272.0,253.0 271.6,252.9 271.2,252.9 270.8,252.8 270.4,252.8 270.0,252.7 269.7,252.6 269.3,252.6 268.9,252.5 268.6,252.4 268.2,252.3 267.9,252.2 267.6,252.2 267.2,252.1 266.9,252.0 266.6,252.0 266.3,252.0 266.0,252.0 265.7,252.0 265.4,252.0 265.1,252.0 264.8,252.1 264.4,252.2 264.1,252.2 263.8,252.3 263.4,252.4 263.1,252.5 262.7,252.6 262.3,252.6 262.0,252.7 261.6,252.8 261.2,252.8 260.8,252.9 260.4,252.9 260.0,253.0 259.5,253.0 259.1,253.0 258.6,253.1 258.1,253.1 257.7,253.2 257.1,253.2 256.6,253.3 256.0,253.3 255.4,253.4 254.8,253.4 254.1,253.5 253.4,253.5 252.8,253.5 252.0,253.5 251.3,253.5 250.6,253.4 250.0,253.3 249.3,253.1 248.7,252.9 248.1,252.6 247.6,252.3 247.1,251.9 246.8,251.4 246.5,250.9 246.3,250.4 246.2,249.8 246.1,249.1 246.2,248.5 246.3,247.9 246.5,247.2 246.8,246.5 247.1,245.9 247.5,245.3 247.9,244.7 248.3,244.1 248.7,243.5 249.1,243.0 249.5,242.5 249.8,242.0 250.2,241.5 250.5,241.1 250.8,240.7 251.1,240.3 251.4,239.9 251.7,239.5 251.9,239.2 252.2,238.8 252.4,238.5 252.7,238.2 252.9,237.9 253.2,237.6 253.5,237.3 253.7,237.0 254.0,236.8 254.3,236.5 254.5,236.2 254.8,236.0 255.0,235.8 255.2,235.5 255.4,235.3 255.6,235.0 255.8,234.7 255.9,234.5 256.0,234.2 256.1,233.9 256.3,233.6 256.3,233.3 256.4,233.0 256.5,232.6 256.6,232.3 256.7,232.0 256.9,231.6 257.0,231.3 257.1,230.9 257.2,230.6 257.4,230.2 257.6,229.9 257.7,229.5 257.9,229.2 258.1,228.8 258.3,228.4 258.5,228.0 258.7,227.6 258.9,227.2 259.1,226.7 259.3,226.3 259.5,225.8 259.8,225.3 260.0,224.7 260.3,224.2 260.6,223.7 260.9,223.1 261.2,222.6 261.6,222.0 262.0,221.5 262.4,221.1 262.9,220.6 263.4,220.3 263.9,219.9 264.4,219.7 264.9,219.5 265.5,219.4 266.0,219.3 266.5,219.4 267.1,219.5 267.6,219.7 268.1,219.9 268.6,220.3 269.1,220.6 269.6,221.1 270.0,221.5 270.4,222.0 270.8,222.6 271.1,223.1 271.4,223.7 271.7,224.2 272.0,224.7 272.2,225.3 272.5,225.8 272.7,226.3 272.9,226.7 273.1,227.2 273.3,227.6 273.5,228.0 273.7,228.4 273.9,228.8 274.1,229.2 274.3,229.5 274.4,229.9 274.6,230.2 274.8,230.6 274.9,230.9 275.0,231.3 275.1,231.6 275.3,232.0 275.4,232.3 275.5,232.6 275.6,233.0 275.7,233.3 275.7,233.6 275.9,233.9 276.0,234.2 276.1,234.5 276.2,234.7 276.4,235.0 276.6,235.3 276.8,235.5 277.0,235.8 277.2,236.0 277.5,236.2 277.7,236.5 278.0,236.8 278.3,237.0 278.5,237.3 278.8,237.6 279.1,237.9 279.3,238.2 279.6,238.5 279.8,238.8 280.1,239.2 280.3,239.5 280.6,239.9Z"/>
<path fill="rgb(255,37,0)" d="M279.8,240.3 280.1,240.7 280.5,241.1 280.8,241.5 281.3,241.9 281.7,242.4 282.2,242.9 282.6,243.4 283.1,243.9 283.5,244.5 284.0,245.1 284.4,245.7 284.7,246.4 285.1,247.0 285.3,247.7 285.5,248.4 285.5,249.0 285.5,249.6 285.4,250.2 285.2,250.7 284.9,251.2 284.6,251.7 284.1,252.1 283.6,252.4 283.0,252.7 282.4,252.9 281.7,253.0 281.0,253.1 280.3,253.2 279.6,253.2 278.9,253.2 278.2,253.1 277.5,253.0 276.8,252.9 276.1,252.8 275.5,252.7 274.9,252.6 274.4,252.5 273.8,252.4 273.3,252.3 272.9,252.2 272.4,252.1 272.0,252.0 271.6,252.0 271.2,251.9 270.8,251.8 270.4,251.8 270.1,251.7 269.7,251.7 269.4,251.6 269.0,251.6 268.7,251.5 268.4,251.5 268.1,251.4 267.8,251.4 267.5,251.3 267.2,251.3 266.9,251.3 266.6,251.3 266.3,251.2 266.0,251.2 265.7,251.2 265.4,251.3 265.1,251.3 264.8,251.3 264.5,251.3 264.2,251.4 263.9,251.4 263.6,251.5 263.3,251.5 263.0,251.6 262.6,251.6 262.3,251.7 261.9,251.7 261.6,251.8 261.2,251.8 260.8,251.9 260.4,252.0 260.0,252.0 259.6,252.1 259.1,252.2 258.7,252.3 258.2,252.4 257.6,252.5 257.1,252.6 256.5,252.7 255.9,252.8 255.2,252.9 254.5,253.0 253.8,253.1 253.1,253.2 252.4,253.2 251.7,253.2 251.0,253.1 250.3,253.0 249.6,252.9 249.0,252.7 248.4,252.4 247.9,252.1 247.4,251.7 247.1,251.2 246.8,250.7 246.6,250.2 246.5,249.6 246.5,249.0 246.5,248.4 246.7,247.7 246.9,247.0 247.3,246.4 247.6,245.7 248.0,245.1 248.5,244.5 248.9,243.9 249.4,243.4 249.8,242.9 250.3,242.4 250.7,241.9 251.2,241.5 251.5,241.1 251.9,240.7 252.2,240.3 252.6,239.9 252.8,239.6 253.1,239.3 253.4,239.0 253.6,238.7 253.8,238.4 254.1,238.1 254.3,237.8 254.5,237.5 254.7,237.3 254.9,237.0 255.2,236.8 255.4,236.5 255.6,236.3 255.8,236.1 256.0,235.8 256.1,235.6 256.3,235.4 256.4,235.1 256.6,234.9 256.7,234.6 256.8,234.3 256.9,234.1 257.1,233.8 257.2,233.5 257.3,233.2 257.4,233.0 257.5,232.7 257.6,232.4 257.7,232.0 257.9,231.7 258.0,231.4 258.1,231.1 258.3,230.8 258.4,230.4 258.6,230.0 258.7,229.7 258.8,229.3 259.0,228.9 259.2,228.4 259.3,228.0 259.5,227.5 259.7,227.0 259.8,226.5 260.0,225.9 260.3,225.4 260.5,224.8 260.8,224.2 261.1,223.6 261.4,223.0 261.7,222.5 262.1,222.0 262.5,221.5 262.9,221.0 263.4,220.6 263.9,220.3 264.4,220.0 264.9,219.8 265.5,219.7 266.0,219.7 266.5,219.7 267.1,219.8 267.6,220.0 268.1,220.3 268.6,220.6 269.1,221.0 269.5,221.5 269.9,222.0 270.3,222.5 270.6,223.0 270.9,223.6 271.2,224.2 271.5,224.8 271.7,225.4 272.0,225.9 272.2,226.5 272.3,227.0 272.5,227.5 272.7,228.0 272.8,228.4 273.0,228.9 273.2,229.3 273.3,229.7 273.4,230.0 273.6,230.4 273.7,230.8 273.9,231.1 274.0,231.4 274.1,231.7 274.3,232.0 274.4,232.4 274.5,232.7 274.6,233.0 274.7,233.2 274.8,233.5 274.9,233.8 275.1,234.1 275.2,234.3 275.3,234.6 275.4,234.9 275.6,235.1 275.7,235.4 275.9,235.6 276.0,235.8 276.2,236.1 276.4,236.3 276.6,236.5 276.8,236.8 277.1,237.0 277.3,237.3 277.5,237.5 277.7,237.8 277.9,238.1 278.2,238.4 278.4,238.7 278.6,239.0 278.9,239.3 279.2,239.6 279.4,239.9Z"/>
<path fill="rgb(255,26,0)" d="M278.6,240.3 279.0,240.6 279.4,241.0 279.9,241.4 280.3,241.8 280.8,242.3 281.4,242.7 281.9,243.2 282.4,243.8 282.9,244.4 283.4,245.0 283.9,245.6 284.3,246.2 284.6,246.9 284.9,247.6 285.1,248.2 285.2,248.8 285.2,249.5 285.1,250.0 284.9,250.6 284.6,251.1 284.3,251.5 283.8,251.9 283.3,252.2 282.7,252.5 282.1,252.6 281.4,252.8 280.7,252.8 280.0,252.9 279.2,252.8 278.5,252.8 277.7,252.7 277.0,252.6 276.3,252.4 275.7,252.2 275.0,252.1 274.4,251.9 273.9,251.7 273.3,251.6 272.8,251.4 272.3,251.3 271.9,251.2 271.5,251.1 271.1,251.0 270.7,250.9 270.4,250.8 270.0,250.8 269.7,250.7 269.4,250.7 269.1,250.6 268.8,250.6 268.5,250.6 268.2,250.6 267.9,250.5 267.6,250.5 267.3,250.5 267.1,250.5 266.8,250.5 266.5,250.5 266.3,250.5 266.0,250.5 265.7,250.5 265.5,250.5 265.2,250.5 264.9,250.5 264.7,250.5 264.4,250.5 264.1,250.5 263.8,250.6 263.5,250.6 263.2,250.6 262.9,250.6 262.6,250.7 262.3,250.7 262.0,250.8 261.6,250.8 261.3,250.9 260.9,251.0 260.5,251.1 260.1,251.2 259.7,251.3 259.2,251.4 258.7,251.6 258.1,251.7 257.6,251.9 257.0,252.1 256.3,252.2 255.7,252.4 255.0,252.6 254.3,252.7 253.5,252.8 252.8,252.8 252.0,252.9 251.3,252.8 250.6,252.8 249.9,252.6 249.3,252.5 248.7,252.2 248.2,251.9 247.7,251.5 247.4,251.1 247.1,250.6 246.9,250.0 246.8,249.5 246.8,248.8 246.9,248.2 247.1,247.6 247.4,246.9 247.7,246.2 248.1,245.6 248.6,245.0 249.1,244.4 249.6,243.8 250.1,243.2 250.6,242.7 251.2,242.3 251.7,241.8 252.1,241.4 252.6,241.0 253.0,240.6 253.4,240.3 253.7,240.0 254.0,239.7 254.3,239.4 254.6,239.1 254.8,238.8 255.0,238.6 255.2,238.3 255.4,238.0 255.5,237.8 255.7,237.5 255.9,237.3 256.0,237.1 256.2,236.8 256.4,236.6 256.5,236.4 256.7,236.1 256.8,235.9 257.0,235.7 257.1,235.5 257.2,235.2 257.4,235.0 257.5,234.8 257.6,234.6 257.8,234.3 257.9,234.1 258.0,233.8 258.2,233.6 258.3,233.4 258.4,233.1 258.5,232.8 258.6,232.5 258.8,232.3 258.9,231.9 259.0,231.6 259.1,231.3 259.2,230.9 259.3,230.6 259.4,230.2 259.5,229.7 259.6,229.3 259.7,228.8 259.9,228.3 260.0,227.7 260.1,227.2 260.3,226.6 260.5,226.0 260.7,225.4 260.9,224.7 261.2,224.1 261.5,223.5 261.8,222.9 262.2,222.4 262.6,221.9 263.0,221.4 263.5,221.0 263.9,220.6 264.4,220.4 264.9,220.2 265.5,220.0 266.0,220.0 266.5,220.0 267.1,220.2 267.6,220.4 268.1,220.6 268.5,221.0 269.0,221.4 269.4,221.9 269.8,222.4 270.2,222.9 270.5,223.5 270.8,224.1 271.1,224.7 271.3,225.4 271.5,226.0 271.7,226.6 271.9,227.2 272.0,227.7 272.1,228.3 272.3,228.8 272.4,229.3 272.5,229.7 272.6,230.2 272.7,230.6 272.8,230.9 272.9,231.3 273.0,231.6 273.1,231.9 273.2,232.3 273.4,232.5 273.5,232.8 273.6,233.1 273.7,233.4 273.8,233.6 274.0,233.8 274.1,234.1 274.2,234.3 274.4,234.6 274.5,234.8 274.6,235.0 274.8,235.2 274.9,235.5 275.0,235.7 275.2,235.9 275.3,236.1 275.5,236.4 275.6,236.6 275.8,236.8 276.0,237.1 276.1,237.3 276.3,237.5 276.5,237.8 276.6,238.0 276.8,238.3 277.0,238.6 277.2,238.8 277.4,239.1 277.7,239.4 278.0,239.7 278.3,240.0Z"/>
<path fill="rgb(255,16,0)" d="M277.5,240.3 277.9,240.6 278.4,240.9 278.9,241.3 279.4,241.7 280.0,242.1 280.6,242.6 281.2,243.1 281.8,243.7 282.3,244.2 282.9,244.8 283.4,245.5 283.8,246.1 284.2,246.8 284.5,247.4 284.7,248.1 284.8,248.7 284.9,249.3 284.8,249.9 284.6,250.4 284.3,250.9 284.0,251.3 283.5,251.7 283.0,252.0 282.4,252.2 281.8,252.4 281.1,252.5 280.4,252.6 279.6,252.6 278.9,252.5 278.1,252.4 277.3,252.3 276.6,252.1 275.9,251.9 275.2,251.7 274.6,251.5 273.9,251.2 273.4,251.0 272.8,250.8 272.3,250.6 271.8,250.4 271.4,250.2 271.0,250.1 270.6,250.0 270.3,249.9 269.9,249.8 269.6,249.7 269.3,249.7 269.0,249.6 268.8,249.6 268.5,249.6 268.2,249.6 268.0,249.6 267.7,249.7 267.5,249.7 267.2,249.7 267.0,249.7 266.7,249.7 266.5,249.8 266.2,249.8 266.0,249.8 265.8,249.8 265.5,249.8 265.3,249.7 265.0,249.7 264.8,249.7 264.5,249.7 264.3,249.7 264.0,249.6 263.8,249.6 263.5,249.6 263.2,249.6 263.0,249.6 262.7,249.7 262.4,249.7 262.1,249.8 261.7,249.9 261.4,250.0 261.0,250.1 260.6,250.2 260.2,250.4 259.7,250.6 259.2,250.8 258.6,251.0 258.1,251.2 257.4,251.5 256.8,251.7 256.1,251.9 255.4,252.1 254.7,252.3 253.9,252.4 253.1,252.5 252.4,252.6 251.6,252.6 250.9,252.5 250.2,252.4 249.6,252.2 249.0,252.0 248.5,251.7 248.0,251.3 247.7,250.9 247.4,250.4 247.2,249.9 247.1,249.3 247.2,248.7 247.3,248.1 247.5,247.4 247.8,246.8 248.2,246.1 248.6,245.5 249.1,244.8 249.7,244.2 250.2,243.7 250.8,243.1 251.4,242.6 252.0,242.1 252.6,241.7 253.1,241.3 253.6,240.9 254.1,240.6 254.5,240.3 254.9,240.0 255.2,239.7 255.5,239.5 255.7,239.2 256.0,239.0 256.1,238.7 256.3,238.5 256.4,238.3 256.6,238.0 256.7,237.8 256.8,237.6 256.9,237.3 257.0,237.1 257.1,236.9 257.3,236.7 257.4,236.5 257.5,236.3 257.6,236.0 257.8,235.8 257.9,235.6 258.1,235.4 258.2,235.2 258.3,235.0 258.5,234.8 258.6,234.7 258.8,234.5 258.9,234.3 259.1,234.0 259.2,233.8 259.3,233.6 259.4,233.4 259.5,233.1 259.6,232.8 259.7,232.5 259.8,232.2 259.8,231.8 259.9,231.4 260.0,231.0 260.0,230.6 260.1,230.1 260.2,229.6 260.3,229.0 260.4,228.5 260.5,227.9 260.6,227.2 260.7,226.6 260.9,225.9 261.1,225.3 261.4,224.6 261.6,224.0 261.9,223.4 262.3,222.8 262.7,222.3 263.1,221.8 263.5,221.4 264.0,221.0 264.5,220.7 265.0,220.5 265.5,220.4 266.0,220.3 266.5,220.4 267.0,220.5 267.5,220.7 268.0,221.0 268.5,221.4 268.9,221.8 269.3,222.3 269.7,222.8 270.1,223.4 270.4,224.0 270.6,224.6 270.9,225.3 271.1,225.9 271.3,226.6 271.4,227.2 271.5,227.9 271.6,228.5 271.7,229.0 271.8,229.6 271.9,230.1 272.0,230.6 272.0,231.0 272.1,231.4 272.2,231.8 272.2,232.2 272.3,232.5 272.4,232.8 272.5,233.1 272.6,233.4 272.7,233.6 272.8,233.8 272.9,234.0 273.1,234.3 273.2,234.5 273.4,234.7 273.5,234.8 273.7,235.0 273.8,235.2 273.9,235.4 274.1,235.6 274.2,235.8 274.4,236.0 274.5,236.3 274.6,236.5 274.7,236.7 274.9,236.9 275.0,237.1 275.1,237.3 275.2,237.6 275.3,237.8 275.4,238.0 275.6,238.3 275.7,238.5 275.9,238.7 276.0,239.0 276.3,239.2 276.5,239.5 276.8,239.7 277.1,240.0Z"/>
<path fill="rgb(255,7,0)" d="M276.3,240.3 276.8,240.6 277.3,240.9 277.9,241.2 278.5,241.6 279.1,242.0 279.8,242.5 280.5,243.0 281.1,243.5 281.8,244.1 282.3,244.7 282.9,245.3 283.4,245.9 283.8,246.6 284.1,247.3 284.4,247.9 284.5,248.5 284.5,249.1 284.5,249.7 284.3,250.2 284.0,250.7 283.7,251.1 283.2,251.5 282.7,251.8 282.1,252.0 281.5,252.2 280.8,252.3 280.0,252.3 279.3,252.2 278.5,252.1 277.7,252.0 276.9,251.8 276.2,251.6 275.5,251.4 274.7,251.1 274.1,250.8 273.4,250.5 272.9,250.3 272.3,250.0 271.8,249.8 271.3,249.5 270.9,249.3 270.5,249.1 270.1,249.0 269.8,248.8 269.5,248.7 269.2,248.7 268.9,248.6 268.7,248.6 268.5,248.6 268.2,248.6 268.0,248.7 267.8,248.7 267.6,248.8 267.4,248.8 267.1,248.9 266.9,248.9 266.7,249.0 266.5,249.0 266.2,249.0 266.0,249.0 265.8,249.0 265.5,249.0 265.3,249.0 265.1,248.9 264.9,248.9 264.6,248.8 264.4,248.8 264.2,248.7 264.0,248.7 263.8,248.6 263.5,248.6 263.3,248.6 263.1,248.6 262.8,248.7 262.5,248.7 262.2,248.8 261.9,249.0 261.5,249.1 261.1,249.3 260.7,249.5 260.2,249.8 259.7,250.0 259.1,250.3 258.6,250.5 257.9,250.8 257.3,251.1 256.5,251.4 255.8,251.6 255.1,251.8 254.3,252.0 253.5,252.1 252.7,252.2 252.0,252.3 251.2,252.3 250.5,252.2 249.9,252.0 249.3,251.8 248.8,251.5 248.3,251.1 248.0,250.7 247.7,250.2 247.5,249.7 247.5,249.1 247.5,248.5 247.6,247.9 247.9,247.3 248.2,246.6 248.6,245.9 249.1,245.3 249.7,244.7 250.2,244.1 250.9,243.5 251.5,243.0 252.2,242.5 252.9,242.0 253.5,241.6 254.1,241.2 254.7,240.9 255.2,240.6 255.7,240.3 256.1,240.0 256.4,239.8 256.7,239.6 256.9,239.3 257.1,239.1 257.3,238.9 257.4,238.7 257.5,238.5 257.6,238.3 257.7,238.1 257.7,237.9 257.8,237.6 257.9,237.4 257.9,237.2 258.0,237.0 258.1,236.8 258.2,236.6 258.3,236.4 258.4,236.2 258.6,236.0 258.7,235.8 258.9,235.7 259.0,235.5 259.2,235.4 259.4,235.2 259.5,235.1 259.7,234.9 259.8,234.7 260.0,234.6 260.1,234.4 260.2,234.2 260.3,233.9 260.3,233.7 260.4,233.4 260.4,233.1 260.5,232.7 260.5,232.3 260.5,231.9 260.6,231.4 260.6,230.9 260.6,230.4 260.7,229.8 260.7,229.2 260.8,228.6 260.9,227.9 261.0,227.2 261.1,226.5 261.3,225.8 261.5,225.1 261.8,224.5 262.0,223.8 262.4,223.2 262.7,222.7 263.1,222.2 263.6,221.7 264.0,221.3 264.5,221.0 265.0,220.8 265.5,220.7 266.0,220.7 266.5,220.7 267.0,220.8 267.5,221.0 268.0,221.3 268.4,221.7 268.9,222.2 269.3,222.7 269.6,223.2 270.0,223.8 270.2,224.5 270.5,225.1 270.7,225.8 270.9,226.5 271.0,227.2 271.1,227.9 271.2,228.6 271.3,229.2 271.3,229.8 271.4,230.4 271.4,230.9 271.4,231.4 271.5,231.9 271.5,232.3 271.5,232.7 271.6,233.1 271.6,233.4 271.7,233.7 271.7,233.9 271.8,234.2 271.9,234.4 272.0,234.6 272.2,234.7 272.3,234.9 272.5,235.1 272.6,235.2 272.8,235.4 273.0,235.5 273.1,235.7 273.3,235.8 273.4,236.0 273.6,236.2 273.7,236.4 273.8,236.6 273.9,236.8 274.0,237.0 274.1,237.2 274.1,237.4 274.2,237.6 274.3,237.9 274.3,238.1 274.4,238.3 274.5,238.5 274.6,238.7 274.7,238.9 274.9,239.1 275.1,239.3 275.3,239.6 275.6,239.8 275.9,240.0Z"/>
<path fill="rgb(255,0,0)" d="M275.2,240.3 275.7,240.6 276.3,240.8 276.9,241.2 277.6,241.5 278.3,241.9 279.0,242.4 279.7,242.8 280.5,243.4 281.2,243.9 281.8,244.5 282.4,245.2 282.9,245.8 283.4,246.5 283.7,247.1 284.0,247.8 284.2,248.4 284.2,249.0 284.2,249.6 284.0,250.1 283.7,250.5 283.4,251.0 282.9,251.3 282.4,251.6 281.8,251.8 281.2,251.9 280.4,252.0 279.7,252.0 278.9,251.9 278.1,251.8 277.3,251.6 276.5,251.4 275.8,251.1 275.0,250.8 274.3,250.5 273.6,250.2 273.0,249.9 272.3,249.5 271.8,249.2 271.3,248.9 270.8,248.6 270.4,248.4 270.0,248.2 269.7,248.0 269.3,247.8 269.1,247.7 268.8,247.6 268.6,247.6 268.4,247.6 268.2,247.6 268.0,247.6 267.8,247.7 267.6,247.8 267.4,247.9 267.2,248.0 267.0,248.1 266.8,248.2 266.6,248.2 266.4,248.3 266.2,248.3 266.0,248.3 265.8,248.3 265.6,248.3 265.4,248.2 265.2,248.2 265.0,248.1 264.8,248.0 264.6,247.9 264.4,247.8 264.2,247.7 264.0,247.6 263.8,247.6 263.6,247.6 263.4,247.6 263.2,247.6 262.9,247.7 262.7,247.8 262.3,248.0 262.0,248.2 261.6,248.4 261.2,248.6 260.7,248.9 260.2,249.2 259.7,249.5 259.0,249.9 258.4,250.2 257.7,250.5 257.0,250.8 256.2,251.1 255.5,251.4 254.7,251.6 253.9,251.8 253.1,251.9 252.3,252.0 251.6,252.0 250.8,251.9 250.2,251.8 249.6,251.6 249.1,251.3 248.6,251.0 248.3,250.5 248.0,250.1 247.8,249.6 247.8,249.0 247.8,248.4 248.0,247.8 248.3,247.1 248.6,246.5 249.1,245.8 249.6,245.2 250.2,244.5 250.8,243.9 251.5,243.4 252.3,242.8 253.0,242.4 253.7,241.9 254.4,241.5 255.1,241.2 255.7,240.8 256.3,240.6 256.8,240.3 257.2,240.1 257.6,239.9 257.9,239.7 258.1,239.5 258.3,239.3 258.4,239.1 258.5,238.9 258.6,238.7 258.6,238.5 258.7,238.3 258.7,238.1 258.7,237.9 258.7,237.7 258.7,237.5 258.8,237.3 258.8,237.1 258.9,236.9 259.0,236.7 259.1,236.6 259.2,236.4 259.4,236.3 259.6,236.1 259.7,236.0 259.9,235.9 260.1,235.8 260.3,235.7 260.4,235.6 260.6,235.4 260.7,235.3 260.8,235.1 260.9,235.0 261.0,234.8 261.1,234.5 261.1,234.3 261.1,233.9 261.1,233.6 261.1,233.2 261.1,232.8 261.1,232.3 261.1,231.8 261.0,231.2 261.0,230.6 261.1,229.9 261.1,229.2 261.1,228.5 261.2,227.8 261.3,227.1 261.5,226.4 261.7,225.7 261.9,225.0 262.2,224.3 262.5,223.7 262.8,223.1 263.2,222.5 263.6,222.1 264.0,221.7 264.5,221.4 265.0,221.2 265.5,221.0 266.0,221.0 266.5,221.0 267.0,221.2 267.5,221.4 268.0,221.7 268.4,222.1 268.8,222.5 269.2,223.1 269.5,223.7 269.8,224.3 270.1,225.0 270.3,225.7 270.5,226.4 270.7,227.1 270.8,227.8 270.9,228.5 270.9,229.2 270.9,229.9 271.0,230.6 271.0,231.2 270.9,231.8 270.9,232.3 270.9,232.8 270.9,233.2 270.9,233.6 270.9,233.9 270.9,234.3 270.9,234.5 271.0,234.8 271.1,235.0 271.2,235.1 271.3,235.3 271.4,235.4 271.6,235.6 271.7,235.7 271.9,235.8 272.1,235.9 272.3,236.0 272.4,236.1 272.6,236.3 272.8,236.4 272.9,236.6 273.0,236.7 273.1,236.9 273.2,237.1 273.2,237.3 273.3,237.5 273.3,237.7 273.3,237.9 273.3,238.1 273.3,238.3 273.4,238.5 273.4,238.7 273.5,238.9 273.6,239.1 273.7,239.3 273.9,239.5 274.1,239.7 274.4,239.9 274.8,240.1Z"/>
</g>
<g font-family="'Liberation Serif',serif" font-weight="bold" fill="#000" opacity="0.999">
<text x="97" y="177.9" font-size="26" text-anchor="end">-50</text>
<text x="97" y="282.59" font-size="26" text-anchor="end">-60</text>
<text x="97" y="387.28" font-size="26" text-anchor="end">-70</text>
<text x="97" y="491.97" font-size="26" text-anchor="end">-80</text>
<text x="97" y="596.66" font-size="26" text-anchor="end">-90</text>
<text x="107" y="638.8" font-size="26" text-anchor="middle">0</text>
<text x="240.6" y="638.8" font-size="26" text-anchor="middle">1</text>
<text x="374.2" y="638.8" font-size="26" text-anchor="middle">2</text>
<text x="507.8" y="638.8" font-size="26" text-anchor="middle">3</text>
<text transform="translate(51.8 389.8) rotate(-90)" font-size="31.5" text-anchor="middle">E (MeV)</text>
<text transform="translate(426.6 690.1) scale(1.12 1)" font-size="31" font-weight="normal" stroke="#000" stroke-width="0.55">λ</text>
<text x="444.3" y="699.6" font-size="22.5">3</text>
<text x="113.2" y="334.9" font-size="26">5<tspan font-size="19" dy="-10.3" stroke="#000" stroke-width="0.45">-</tspan></text>
<text x="113.2" y="386.5" font-size="26">4<tspan font-size="19" dy="-10.3" stroke="#000" stroke-width="0.45">-</tspan></text>
<text x="113.2" y="418.4" font-size="26">3<tspan font-size="19" dy="-10.3" stroke="#000" stroke-width="0.45">-</tspan></text>
<text x="113.2" y="478" font-size="26">4<tspan font-size="19" dy="-9.3" font-weight="normal">+</tspan></text>
<text x="113.2" y="543.1" font-size="26">2<tspan font-size="19" dy="-9.3" font-weight="normal">+</tspan></text>
<text x="113.2" y="586.6" font-size="26">0<tspan font-size="19" dy="-9.3" font-weight="normal">+</tspan></text>
<text transform="translate(528.6 352.4) rotate(-27.5)" font-size="26">MF</text>
</g>
</svg>
</body></html>
